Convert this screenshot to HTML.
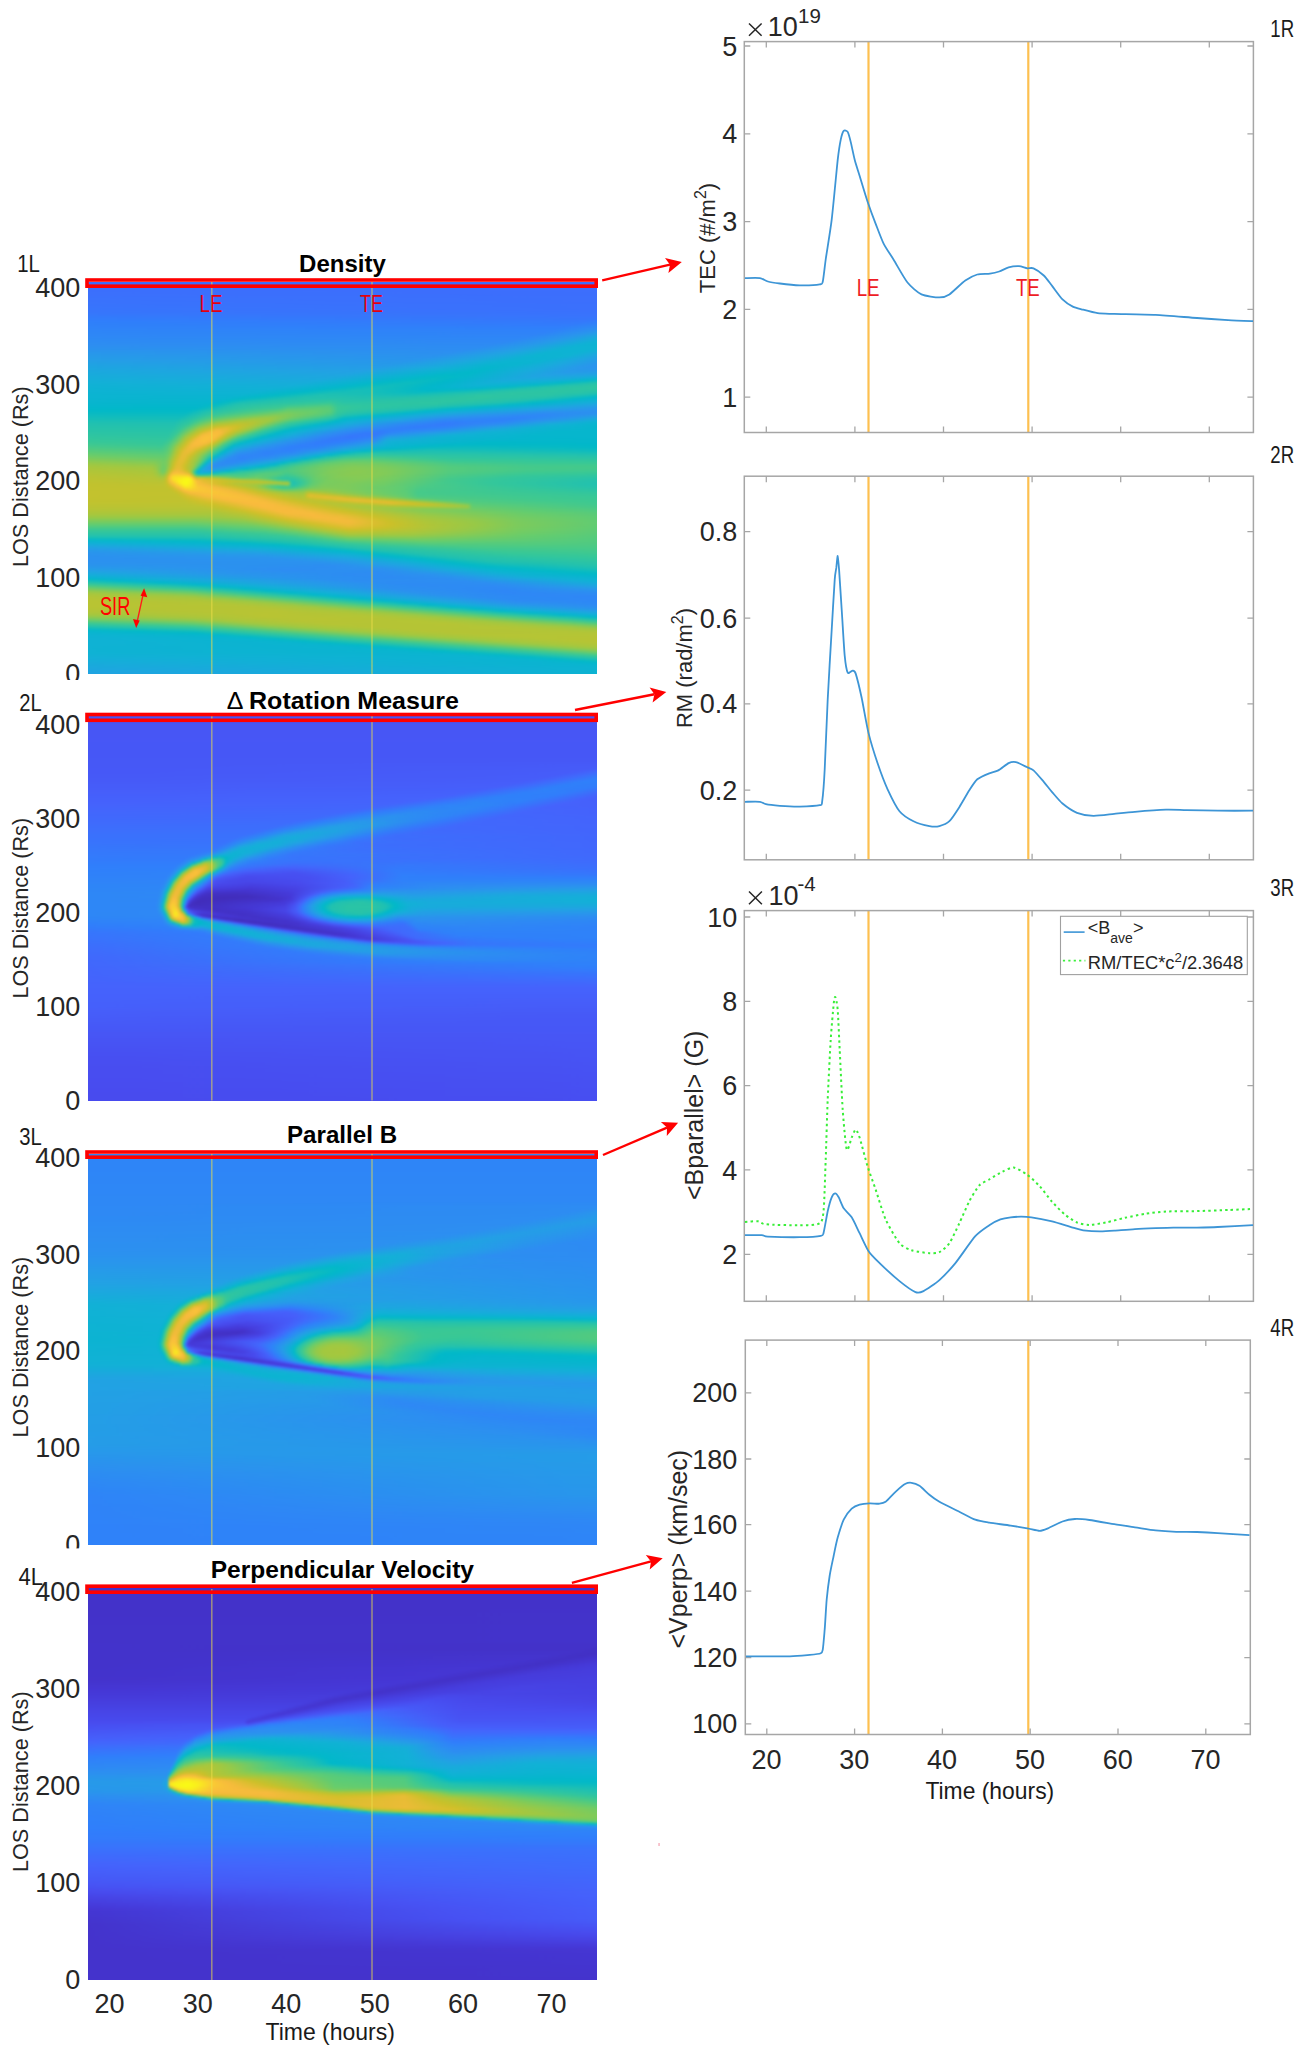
<!DOCTYPE html>
<html><head><meta charset="utf-8"><title>figure</title><style>
html,body{margin:0;padding:0;background:#fff}
body{width:1304px;height:2051px;position:relative;overflow:hidden;font-family:"Liberation Sans",sans-serif}
.hm{position:absolute;overflow:hidden}
.hb{position:absolute}
.hb div{height:2px}
svg{position:absolute;left:0;top:0}
svg text{font-family:"Liberation Sans",sans-serif}
</style></head><body>
<div class="hm" style="left:88px;top:282px;width:509px;height:392px"><div class="hb" style="left:-8px;top:-8px;width:526px;filter:blur(1.2px)"><div style="background:linear-gradient(90deg,#3d6dfc 0px,#3d6dfc 525px)"></div><div style="background:linear-gradient(90deg,#3d6dfc 0px,#3d6dfc 525px)"></div><div style="background:linear-gradient(90deg,#3d6dfc 0px,#3d6dfc 525px)"></div><div style="background:linear-gradient(90deg,#3d6dfc 0px,#3d6dfc 525px)"></div><div style="background:linear-gradient(90deg,#3d6dfc 0px,#3d6dfc 525px)"></div><div style="background:linear-gradient(90deg,#3d6dfc 0px,#3d6dfc 525px)"></div><div style="background:linear-gradient(90deg,#3c6efc 0px,#3d6dfc 525px)"></div><div style="background:linear-gradient(90deg,#3c6ffc 0px,#3d6efc 525px)"></div><div style="background:linear-gradient(90deg,#3b6ffc 0px,#3d6efc 525px)"></div><div style="background:linear-gradient(90deg,#3b70fc 0px,#3c6efc 525px)"></div><div style="background:linear-gradient(90deg,#3b70fc 0px,#3c6efc 525px)"></div><div style="background:linear-gradient(90deg,#3a71fc 0px,#3c6ffc 525px)"></div><div style="background:linear-gradient(90deg,#3a72fc 0px,#3c6ffc 525px)"></div><div style="background:linear-gradient(90deg,#3972fc 0px,#3c6ffc 525px)"></div><div style="background:linear-gradient(90deg,#3973fc 0px,#3b6ffc 525px)"></div><div style="background:linear-gradient(90deg,#3873fc 0px,#3b70fc 525px)"></div><div style="background:linear-gradient(90deg,#3874fc 0px,#3b70fc 525px)"></div><div style="background:linear-gradient(90deg,#3775fc 0px,#3b70fc 525px)"></div><div style="background:linear-gradient(90deg,#3775fb 0px,#3a71fc 525px)"></div><div style="background:linear-gradient(90deg,#3676fb 0px,#3972fc 525px)"></div><div style="background:linear-gradient(90deg,#3578fb 0px,#3973fc 525px)"></div><div style="background:linear-gradient(90deg,#337bfb 0px,#3874fc 522px,#3775fc 525px)"></div><div style="background:linear-gradient(90deg,#317dfb 0px,#3676fb 514px,#3479fb 525px)"></div><div style="background:linear-gradient(90deg,#307ffb 0px,#3578fb 505px,#307efb 525px)"></div><div style="background:linear-gradient(90deg,#2f80fa 0px,#337afb 497px,#2f82f9 525px)"></div><div style="background:linear-gradient(90deg,#2f81f9 0px,#327cfb 489px,#2e87f6 525px)"></div><div style="background:linear-gradient(90deg,#2f82f9 0px,#307efb 480px,#2d8cf3 525px)"></div><div style="background:linear-gradient(90deg,#2f84f8 0px,#2f81fa 478px,#2b91ef 523px,#2b92ee 525px)"></div><div style="background:linear-gradient(90deg,#2e85f7 0px,#2f82f9 472px,#2a93ee 516px,#269ae9 525px)"></div><div style="background:linear-gradient(90deg,#2e86f6 0px,#2f83f8 464px,#2995ed 508px,#22a2e4 525px)"></div><div style="background:linear-gradient(90deg,#2e87f6 0px,#2f84f7 455px,#2996ec 499px,#1ba8de 525px)"></div><div style="background:linear-gradient(90deg,#2e88f5 0px,#2e86f7 446px,#2897eb 490px,#15aed9 525px)"></div><div style="background:linear-gradient(90deg,#2d8af4 0px,#2e87f6 438px,#2898eb 481px,#10b2d5 525px)"></div><div style="background:linear-gradient(90deg,#2d8bf3 0px,#2e88f5 429px,#2799ea 472px,#0fb2d4 518px,#0db3d3 525px)"></div><div style="background:linear-gradient(90deg,#2d8cf2 0px,#2e89f4 419px,#2799ea 462px,#0fb2d4 509px,#0cb4d2 525px)"></div><div style="background:linear-gradient(90deg,#2d8ef1 0px,#2d8bf3 410px,#269ae9 453px,#0eb2d4 500px,#0db3d2 525px)"></div><div style="background:linear-gradient(90deg,#2c90f0 0px,#2d8cf3 400px,#259de7 447px,#0eb3d3 491px,#0eb3d3 522px,#0fb2d4 525px)"></div><div style="background:linear-gradient(90deg,#2b92ee 0px,#2d8df2 390px,#249fe6 440px,#0eb3d3 482px,#0eb3d3 513px,#13b0d7 525px)"></div><div style="background:linear-gradient(90deg,#2994ed 0px,#2c8ef1 380px,#22a2e4 434px,#0db3d3 473px,#0db3d3 504px,#18abdb 525px)"></div><div style="background:linear-gradient(90deg,#2897eb 0px,#2c90f0 370px,#20a4e2 427px,#0db3d2 465px,#0eb3d3 497px,#1da6e0 525px)"></div><div style="background:linear-gradient(90deg,#2799ea 0px,#2b91ef 359px,#1fa5e1 417px,#0cb4d1 458px,#0eb3d3 490px,#22a2e4 525px)"></div><div style="background:linear-gradient(90deg,#269be8 0px,#2a93ee 350px,#1da6e0 408px,#0bb4d1 449px,#0eb3d3 482px,#259de7 525px)"></div><div style="background:linear-gradient(90deg,#259de7 0px,#2995ed 339px,#1da6e0 396px,#0cb3d2 436px,#0cb3d2 469px,#1ea5e1 503px,#2799ea 525px)"></div><div style="background:linear-gradient(90deg,#249fe6 0px,#2896ec 329px,#1da7df 384px,#0bb4d1 425px,#0cb4d2 460px,#1da6e0 493px,#2995ec 525px)"></div><div style="background:linear-gradient(90deg,#22a1e4 0px,#2798ea 319px,#1da7df 372px,#0bb4d1 415px,#0ab4d0 448px,#1ba9de 481px,#2a93ee 524px,#2a93ee 525px)"></div><div style="background:linear-gradient(90deg,#20a3e2 0px,#269ae9 309px,#1ba8de 362px,#0ab4d0 406px,#09b5cf 434px,#19abdc 470px,#2996ec 511px,#2b92ef 525px)"></div><div style="background:linear-gradient(90deg,#1ea5e1 0px,#259ce8 300px,#19abdc 356px,#05b6cc 410px,#17acda 459px,#2898eb 500px,#2b92ef 525px)"></div><div style="background:linear-gradient(90deg,#1ca7df 0px,#249fe6 291px,#13b1d7 357px,#03b7cb 405px,#18acdb 453px,#2799ea 494px,#2a94ed 525px)"></div><div style="background:linear-gradient(90deg,#1ba8de 0px,#23a1e5 281px,#0cb4d1 361px,#02b7ca 396px,#18abdc 447px,#269ae9 489px,#2798ea 525px)"></div><div style="background:linear-gradient(90deg,#19aadd 0px,#21a3e3 272px,#07b5ce 358px,#01b8c9 388px,#19aadc 442px,#259ce8 485px,#249fe6 525px)"></div><div style="background:linear-gradient(90deg,#18abdb 0px,#1fa5e1 263px,#06b6cd 346px,#03b9c7 365px,#04b7cb 390px,#23a1e5 467px,#1fa4e1 516px,#1ca7df 525px)"></div><div style="background:linear-gradient(90deg,#17adda 0px,#1da7df 253px,#06b6cd 331px,#03b9c7 347px,#04b9c6 371px,#04b7cb 383px,#1fa5e1 452px,#1ba8de 500px,#12b1d6 525px)"></div><div style="background:linear-gradient(90deg,#15aed9 0px,#1ba9de 243px,#05b6cc 317px,#02b9c7 330px,#08bac3 357px,#02b8ca 373px,#1ba9de 435px,#17acdb 483px,#04b7cb 525px)"></div><div style="background:linear-gradient(90deg,#14b0d8 0px,#19abdc 233px,#05b6cc 302px,#03b9c7 314px,#0bbbc1 341px,#02b7ca 367px,#17acdb 422px,#12b1d6 471px,#02b9c8 506px,#1bbfb5 525px)"></div><div style="background:linear-gradient(90deg,#12b1d6 0px,#17acda 223px,#04b7cc 288px,#03b9c7 299px,#0ebcbf 327px,#02b7ca 360px,#13b0d7 408px,#0db3d2 458px,#02b8c8 481px,#22c1af 510px,#28c3a8 525px)"></div><div style="background:linear-gradient(90deg,#11b2d5 0px,#15aed9 213px,#03b7cb 275px,#04b9c6 284px,#11bcbd 313px,#05b9c5 343px,#02b7ca 353px,#10b2d5 398px,#07b6ce 445px,#02b9c7 456px,#23c1ae 487px,#2dc5a3 525px)"></div><div style="background:linear-gradient(90deg,#0fb2d4 0px,#13b0d7 203px,#03b7cb 260px,#04b9c6 269px,#13bdbb 299px,#09bac2 330px,#02b8ca 346px,#0cb3d2 389px,#03b7cb 423px,#04b9c6 431px,#23c2ae 463px,#2ec5a2 514px,#2ec5a2 525px)"></div><div style="background:linear-gradient(90deg,#0eb3d3 0px,#11b1d6 191px,#02b7ca 244px,#06bac5 255px,#16beb9 287px,#0cbbc0 320px,#02b8ca 342px,#05b6cc 385px,#03b9c7 401px,#23c2ad 439px,#2ec5a1 493px,#2cc5a3 525px)"></div><div style="background:linear-gradient(90deg,#0db3d3 0px,#0fb2d4 180px,#02b7ca 227px,#09bac3 240px,#19bfb7 276px,#0dbcbf 314px,#01b8c8 352px,#0fbcbe 385px,#24c2ac 416px,#2ec5a1 472px,#28c3a8 525px)"></div><div style="background:linear-gradient(90deg,#0cb3d2 0px,#0eb3d3 169px,#02b9c7 215px,#1abfb6 252px,#17beb8 289px,#0bbbc1 336px,#1dc0b3 375px,#2ec5a2 434px,#2ac4a6 498px,#1fc0b2 525px)"></div><div style="background:linear-gradient(90deg,#0bb4d1 0px,#0cb3d2 158px,#02b9c7 197px,#20c1b1 241px,#15beb9 324px,#2dc5a3 399px,#2cc4a4 469px,#1cc0b4 508px,#09bac3 525px)"></div><div style="background:linear-gradient(90deg,#0bb4d1 0px,#0ab4d0 150px,#02b9c7 179px,#22c1af 225px,#22c1af 257px,#1fc0b2 309px,#2fc5a0 403px,#28c3a8 464px,#1bbfb5 489px,#02b8ca 514px,#09b5cf 525px)"></div><div style="background:linear-gradient(90deg,#0ab4d0 0px,#09b5cf 145px,#02b9c7 161px,#22c1af 206px,#27c3aa 253px,#23c1ae 282px,#2fc5a0 392px,#25c2ab 451px,#18beb7 472px,#01b8c9 494px,#0fb2d4 525px)"></div><div style="background:linear-gradient(90deg,#09b5cf 0px,#07b5ce 137px,#02b9c8 149px,#18beb8 169px,#24c2ac 193px,#2ec5a1 251px,#26c3aa 265px,#2ec5a1 374px,#23c1ae 437px,#03b9c7 471px,#08b5ce 484px,#15aed9 525px)"></div><div style="background:linear-gradient(90deg,#07b5ce 0px,#06b6cd 128px,#03b9c7 141px,#1fc0b2 161px,#37c897 250px,#2bc4a5 263px,#2ec5a2 354px,#21c1b0 418px,#01b8c9 453px,#16adda 506px,#1ba8de 525px)"></div><div style="background:linear-gradient(90deg,#06b6cd 0px,#05b6cc 122px,#03b9c7 133px,#24c2ad 156px,#39c895 217px,#49ca87 249px,#33c79b 257px,#2fc6a0 272px,#2ac4a5 354px,#1cbfb4 397px,#02b8ca 429px,#20a4e2 512px,#23a1e4 525px)"></div><div style="background:linear-gradient(90deg,#04b7cc 0px,#03b7cb 118px,#04b9c6 126px,#24c2ad 148px,#31c69e 177px,#39c896 201px,#48ca88 210px,#56cb7b 241px,#53cb7e 250px,#36c898 258px,#31c69e 277px,#26c3aa 347px,#16beb9 375px,#02b8ca 400px,#1ea6e0 476px,#2799ea 525px)"></div><div style="background:linear-gradient(90deg,#02b8ca 0px,#01b8c8 116px,#25c2ab 141px,#34c79b 168px,#43c98c 197px,#5bcc77 208px,#60cc72 237px,#5acb78 250px,#37c897 258px,#31c69e 272px,#22c1af 337px,#01b8ca 370px,#1fa5e1 451px,#2a93ee 522px,#2a93ee 525px)"></div><div style="background:linear-gradient(90deg,#03b9c7 0px,#03b9c7 110px,#16beb9 122px,#26c3aa 134px,#4aca86 183px,#5dcc75 200px,#6bcc69 208px,#66cd6d 235px,#5bcc77 250px,#36c898 258px,#2ec5a1 271px,#1dc0b4 321px,#02b8ca 346px,#0fb2d4 372px,#2a94ed 471px,#2c90f0 521px,#2b91ef 525px)"></div><div style="background:linear-gradient(90deg,#08bac3 0px,#07bac4 106px,#18bfb7 118px,#27c3a9 127px,#57cb7b 177px,#79cc5f 206px,#69cd6b 233px,#53cb7e 251px,#35c799 257px,#2ac4a6 267px,#1bbfb5 300px,#02b8ca 325px,#1aa9dd 374px,#2d8df2 463px,#2c8ff0 512px,#2995ed 525px)"></div><div style="background:linear-gradient(90deg,#0dbbc0 0px,#0cbbc0 104px,#1ec0b3 115px,#47ca89 146px,#69cd6a 174px,#83cb57 195px,#81cb58 206px,#59cb79 241px,#47ca89 251px,#31c69e 256px,#23c2ad 265px,#01b8ca 303px,#1aa9dd 349px,#2a93ee 406px,#2e87f6 463px,#2994ed 510px,#259de7 525px)"></div><div style="background:linear-gradient(90deg,#12bdbc 0px,#11bcbd 101px,#28c3a8 117px,#42c98d 131px,#56cb7b 143px,#74cc62 164px,#90ca4d 182px,#93ca4b 195px,#4bca85 239px,#2dc5a3 254px,#11bdbc 265px,#02b8ca 282px,#1aa9dd 332px,#2a93ee 375px,#2f84f8 443px,#2a93ee 491px,#1da6e0 525px)"></div><div style="background:linear-gradient(90deg,#16beb8 0px,#15beb9 98px,#2bc4a4 114px,#3ec990 123px,#61cc71 136px,#91ca4c 162px,#a2c840 174px,#9fc942 190px,#82cb58 202px,#66cd6d 212px,#34c79b 239px,#23c2ae 253px,#01b8c9 262px,#1ba8de 316px,#2d8bf3 366px,#2f81f9 429px,#2a93ee 475px,#14afd8 525px)"></div><div style="background:linear-gradient(90deg,#1bbfb5 0px,#1abfb6 95px,#2dc5a2 111px,#40c98f 118px,#7ecb5b 137px,#a6c73e 157px,#afc639 173px,#9ec942 189px,#52cb7f 210px,#34c79a 225px,#1abfb5 247px,#02b8c8 255px,#0eb3d3 267px,#249ee7 318px,#2f83f8 363px,#2f81fa 417px,#2995ec 461px,#11b1d5 514px,#0db3d2 525px)"></div><div style="background:linear-gradient(90deg,#20c1b1 0px,#1fc0b2 94px,#2fc5a0 108px,#3dc992 113px,#5ccc76 120px,#90ca4d 133px,#a0c841 137px,#bbc332 160px,#b5c435 173px,#9dc943 185px,#4fca81 203px,#36c898 210px,#1abfb6 234px,#02b8ca 247px,#16adda 270px,#2d89f4 333px,#327cfb 369px,#2e89f5 422px,#1ca8de 471px,#0cb3d2 508px,#08b5cf 525px)"></div><div style="background:linear-gradient(90deg,#22c1ae 0px,#22c1af 94px,#37c897 108px,#74cc62 120px,#a7c73d 132px,#b8c433 138px,#c8c12b 154px,#c0c22f 166px,#a1c840 179px,#51cb80 196px,#35c79a 203px,#23c2ad 215px,#02b8ca 235px,#1ba8de 265px,#2e88f5 320px,#347afb 361px,#2d8ef1 413px,#12b1d6 472px,#05b6cd 525px)"></div><div style="background:linear-gradient(90deg,#25c2ac 0px,#24c2ac 93px,#36c898 104px,#69cd6a 114px,#91ca4c 120px,#acc63b 127px,#cec028 136px,#d9bf2d 147px,#cec028 158px,#a3c840 174px,#5dcc75 187px,#36c899 196px,#0dbcbf 216px,#02b8ca 224px,#1ba8de 255px,#2995ec 281px,#327bfb 337px,#2f83f8 371px,#249ee7 416px,#0fb2d4 460px,#05b6cc 525px)"></div><div style="background:linear-gradient(90deg,#27c3a9 0px,#26c3aa 92px,#36c898 101px,#73cc63 112px,#a6c73e 119px,#cec028 130px,#e8bc35 137px,#e5bd33 147px,#cac129 157px,#9ec942 170px,#56cb7b 182px,#34c79a 190px,#19bfb7 203px,#01b8c9 212px,#1ba9de 245px,#2d8df1 277px,#307efb 321px,#2e87f6 359px,#1fa4e1 407px,#0db3d3 446px,#06b6cd 521px,#06b6cd 525px)"></div><div style="background:linear-gradient(90deg,#29c3a7 0px,#28c3a8 91px,#37c897 99px,#83cb57 111px,#a7c73d 116px,#cec028 124px,#f5bb3c 135px,#f8ba3d 139px,#debe30 149px,#cdc027 153px,#9bc944 165px,#57cb7a 176px,#35c799 183px,#19bfb6 196px,#01b8c9 204px,#11b1d6 222px,#2d8ef1 263px,#317dfb 300px,#2d8bf3 347px,#13b0d7 412px,#06b6cd 477px,#06b6cd 525px)"></div><div style="background:linear-gradient(90deg,#2bc4a4 0px,#2ac4a6 89px,#37c897 97px,#7ecb5b 107px,#a3c840 112px,#cbc029 119px,#e2bd32 123px,#f9ba3e 130px,#f9be3b 138px,#f6bb3c 141px,#cbc029 150px,#97c948 160px,#57cb7a 170px,#35c799 177px,#1abfb6 189px,#01b8c9 197px,#12b1d6 213px,#2d8cf2 255px,#337afb 285px,#337afb 298px,#2e86f7 311px,#259de7 352px,#10b2d4 401px,#06b6cd 473px,#06b6cd 525px)"></div><div style="background:linear-gradient(90deg,#2ec5a2 0px,#2cc4a4 88px,#37c897 95px,#69cd6b 102px,#a3c83f 109px,#cbc129 116px,#f6bb3c 123px,#f9c139 134px,#f7bb3c 139px,#cfc028 146px,#a0c841 154px,#75cc62 159px,#37c897 170px,#1bbfb5 182px,#01b8ca 190px,#16adda 210px,#2d8cf2 246px,#3479fb 273px,#3479fb 295px,#2c8ff1 309px,#12b1d6 373px,#06b6cd 453px,#06b6cd 525px)"></div><div style="background:linear-gradient(90deg,#30c69f 0px,#2ec5a1 87px,#38c896 93px,#67cd6c 100px,#a3c840 106px,#d1c029 114px,#f9bc3d 121px,#f9c338 128px,#f9bb3d 136px,#d6bf2c 142px,#cec028 143px,#9ec942 150px,#5dcc75 157px,#36c898 164px,#1cc0b4 175px,#01b8c8 182px,#1ba8de 207px,#2e88f5 241px,#3676fb 269px,#317efb 293px,#2c8ff1 302px,#259ce8 308px,#0fb2d4 362px,#05b6cd 455px,#06b6cd 525px)"></div><div style="background:linear-gradient(90deg,#33c79c 0px,#30c69f 85px,#39c895 91px,#65cd6e 98px,#a2c840 104px,#cfc028 111px,#f9ba3d 118px,#f9c338 125px,#f9bc3c 133px,#ecbc37 136px,#cfc028 140px,#a1c841 146px,#61cc72 152px,#36c899 158px,#1dc0b4 168px,#01b8c9 175px,#13b0d7 189px,#2a93ee 220px,#3479fb 254px,#337bfb 275px,#2d8bf3 297px,#1da7df 307px,#0cb3d2 354px,#04b7cc 464px,#05b6cc 525px)"></div><div style="background:linear-gradient(90deg,#35c799 0px,#33c79c 84px,#3bc894 89px,#63cc70 96px,#a6c73e 103px,#cbc029 108px,#f9ba3e 116px,#f9c239 124px,#f8ba3d 131px,#d8bf2d 136px,#cfc028 137px,#9bc945 143px,#62cc71 148px,#36c898 153px,#14bdba 163px,#01b8c9 168px,#14afd8 182px,#2b92ee 211px,#337afb 246px,#317efb 266px,#2c90f0 295px,#1aa9dd 304px,#13b0d7 312px,#04b7cb 410px,#04b7cb 525px)"></div><div style="background:linear-gradient(90deg,#3ac895 0px,#35c799 83px,#40c98f 88px,#6acd6a 95px,#a4c83f 101px,#d0c029 107px,#f0bb39 112px,#f9bc3d 115px,#f9be3b 123px,#f6bb3c 127px,#dcbe2f 132px,#cdc028 134px,#98c947 140px,#6fcc66 143px,#37c897 149px,#12bdbc 157px,#02b9c8 160px,#13b0d7 173px,#2a94ed 200px,#327cfb 236px,#2f80fa 258px,#269ae9 294px,#17acda 303px,#0fb2d4 312px,#01b8c9 406px,#03b7cb 525px)"></div><div style="background:linear-gradient(90deg,#40c98f 0px,#38c896 82px,#49ca87 88px,#68cd6b 93px,#a2c840 99px,#cdc028 105px,#f3bb3a 111px,#f9bb3d 115px,#f5bb3b 121px,#dfbe31 127px,#cdc028 130px,#a1c841 136px,#59cb79 142px,#3ac894 145px,#1dc0b3 151px,#02b8c8 154px,#11b1d6 163px,#2896ec 189px,#307ffb 222px,#307ffb 243px,#269ce8 282px,#16adda 300px,#0cb3d2 311px,#02b8c8 367px,#03b9c7 471px,#01b8ca 525px)"></div><div style="background:linear-gradient(90deg,#48ca88 0px,#3ec991 81px,#4dca84 87px,#6bcd69 92px,#a0c841 97px,#cac12a 103px,#eabc36 108px,#f5bb3c 112px,#eabc36 119px,#d0c029 125px,#9ac945 133px,#57cb7a 139px,#34c79b 143px,#21c1b0 147px,#06bac5 150px,#03b7cb 151px,#12b1d6 156px,#2897eb 179px,#2f80fa 211px,#2f81f9 236px,#269ae9 266px,#0bb4d1 305px,#02b9c8 336px,#0cbbc0 385px,#02b9c8 525px)"></div><div style="background:linear-gradient(90deg,#50cb81 0px,#45c98a 81px,#53cb7e 87px,#6bcd69 91px,#a2c840 96px,#cfc028 102px,#ebbc36 107px,#f1bb39 111px,#dbbe2e 118px,#cdc028 121px,#9ec943 129px,#4dca83 137px,#34c79b 140px,#20c1b1 144px,#01b8c8 147px,#1aa9dd 155px,#2c90f0 177px,#3080fb 208px,#2e88f5 235px,#20a4e2 263px,#0db3d2 289px,#02b8c8 310px,#13bdbb 349px,#0cbbc0 472px,#07bac4 525px)"></div><div style="background:linear-gradient(90deg,#58cb7a 0px,#4dca83 82px,#59cb78 87px,#73cc63 91px,#a2c840 95px,#cbc129 100px,#e4bd33 104px,#edbc38 108px,#e2bd32 113px,#cbc029 117px,#a2c840 125px,#56cb7c 133px,#34c79b 137px,#20c1b1 141px,#01b8ca 144px,#14afd8 149px,#259ce8 157px,#2e85f7 183px,#2f82f9 211px,#2896eb 239px,#0eb3d3 269px,#01b8c8 285px,#14bdba 302px,#1fc0b2 348px,#0ebcbf 525px)"></div><div style="background:linear-gradient(90deg,#60cc72 0px,#55cb7c 83px,#64cd6f 88px,#7ccb5c 91px,#a0c841 94px,#cac129 99px,#e5bd33 103px,#eabc36 107px,#dabe2e 112px,#cec028 114px,#99c946 123px,#4fca81 131px,#34c79a 134px,#1fc0b2 138px,#08bac3 140px,#03b7cb 141px,#21a3e3 150px,#2c90f0 159px,#2f82f9 187px,#2d8af4 215px,#1ca7df 242px,#01b8c9 265px,#19bfb6 277px,#24c2ac 292px,#22c1af 393px,#16beb8 525px)"></div><div style="background:linear-gradient(90deg,#6acd6a 0px,#5dcc75 84px,#6bcd69 88px,#86cb55 91px,#a8c73d 94px,#cac12a 98px,#e4bd33 102px,#e8bc35 105px,#d2bf2a 111px,#c6c12c 113px,#9bc944 120px,#65cd6e 126px,#36c899 131px,#1ec0b3 135px,#05b9c5 137px,#0ab4d1 139px,#269be9 149px,#2e89f4 159px,#2f83f8 186px,#2a93ee 213px,#15aed9 236px,#02b9c8 251px,#22c1ae 263px,#30c6a0 286px,#21c1b0 525px)"></div><div style="background:linear-gradient(90deg,#75cc62 0px,#63cc6f 84px,#6ccc68 87px,#84cb56 90px,#a7c73d 93px,#c9c12a 97px,#e3bd33 101px,#e7bd34 104px,#d7bf2c 108px,#cbc129 110px,#9fc942 118px,#5ccc76 125px,#36c898 128px,#1dc0b3 132px,#01b8c8 134px,#1da6e0 141px,#2d8df2 151px,#2f84f8 164px,#2d8cf3 193px,#1da6e0 218px,#03b9c7 238px,#22c1af 247px,#39c895 271px,#40c98f 295px,#2dc5a2 372px,#27c3aa 525px)"></div><div style="background:linear-gradient(90deg,#80cb59 0px,#6ecc67 77px,#69cd6a 84px,#73cc63 87px,#8fca4e 90px,#a6c73e 92px,#c9c12a 96px,#e3bd32 100px,#e6bd34 103px,#d6bf2c 107px,#c8c12a 109px,#9bc944 117px,#5fcc74 123px,#37c897 126px,#1abfb6 129px,#09bbc2 130px,#03b7cb 131px,#1da6e0 137px,#2d8df2 147px,#2f84f7 161px,#2a93ee 190px,#18abdb 211px,#02b9c8 226px,#23c2ae 235px,#4eca82 266px,#54cb7d 290px,#35c79a 359px,#2dc5a3 521px,#2dc5a3 525px)"></div><div style="background:linear-gradient(90deg,#8cca50 0px,#7bcb5d 75px,#6ecc67 84px,#7acb5e 87px,#a5c73e 91px,#c8c12a 95px,#debe30 98px,#e5bd34 101px,#dbbe2e 105px,#cfc028 107px,#9ac946 116px,#72cc64 120px,#4aca86 123px,#3ac895 124px,#1abfb6 127px,#04b9c7 128px,#11b2d5 130px,#279ae9 137px,#2e89f4 146px,#2d8af4 163px,#20a4e2 194px,#0cb4d1 209px,#01b8ca 214px,#23c1ae 223px,#43c98c 242px,#5dcc75 260px,#65cd6e 284px,#50cb80 327px,#38c896 376px,#33c79c 525px)"></div><div style="background:linear-gradient(90deg,#98c947 0px,#86cb54 74px,#70cc66 84px,#7dcb5b 87px,#abc63b 91px,#d1c029 95px,#e2bd32 98px,#e2bd32 102px,#cfc028 106px,#99c946 115px,#5fcc73 120px,#31c69e 123px,#18beb7 125px,#01b8c9 126px,#18abdb 129px,#259ce8 132px,#2d8bf3 140px,#2d8bf3 154px,#1ca7df 185px,#07b5ce 201px,#00b8c9 203px,#1ec0b2 210px,#43c98c 230px,#61cc71 248px,#73cc63 273px,#6ccc68 302px,#44c98c 373px,#39c895 456px,#38c896 525px)"></div><div style="background:linear-gradient(90deg,#a2c840 0px,#92ca4b 73px,#80cb59 79px,#70cc65 83px,#76cc60 86px,#8aca51 88px,#afc638 91px,#cdc028 94px,#e1bd31 97px,#e3bd32 100px,#cfc028 105px,#9dc943 114px,#74cc62 117px,#31c69e 121px,#27c3a9 122px,#03b7cb 124px,#1fa4e2 128px,#2c8ff1 133px,#2d8cf2 144px,#19abdc 175px,#04b7cb 193px,#03b9c7 195px,#24c2ad 202px,#44c98b 220px,#66cd6d 241px,#7bcb5d 267px,#7acb5e 296px,#4dca83 371px,#41c98e 449px,#40c98f 525px)"></div><div style="background:linear-gradient(90deg,#a8c73d 0px,#9ec943 72px,#8eca4e 77px,#6fcc66 83px,#71cc64 85px,#82cb58 87px,#9fc842 89px,#c9c12a 93px,#e0be31 96px,#e6bd34 99px,#d8bf2d 103px,#ccc028 105px,#a0c841 113px,#6dcc68 116px,#31c69d 119px,#25c2ab 120px,#10bcbd 121px,#07b6ce 122px,#249fe6 127px,#2d8df1 133px,#269ce8 148px,#0fb2d4 170px,#01b8c9 181px,#23c2ae 193px,#4eca82 216px,#76cc60 248px,#84cb56 275px,#7bcb5d 306px,#53cb7e 370px,#45c98b 447px,#43c98c 525px)"></div><div style="background:linear-gradient(90deg,#acc63a 0px,#a4c83f 72px,#98c947 76px,#70cc65 82px,#6ecc67 84px,#7bcb5d 86px,#a7c73e 89px,#c8c12a 92px,#e2bd32 95px,#e9bc36 98px,#dfbe31 102px,#cfc028 105px,#a7c73d 111px,#9cc944 112px,#78cc5f 114px,#32c69c 117px,#25c2ab 118px,#0ebcbf 119px,#08b5cf 120px,#1fa4e2 124px,#2896ec 130px,#249ee6 139px,#0db3d2 157px,#01b8c8 166px,#22c1ae 178px,#3ec991 200px,#74cc62 241px,#86cb54 268px,#83cb57 300px,#54cb7d 371px,#46ca8a 447px,#42c98d 525px)"></div><div style="background:linear-gradient(90deg,#b1c538 0px,#a8c73d 72px,#9ec942 76px,#71cc64 82px,#70cc65 84px,#82cb57 86px,#a5c73e 88px,#ccc028 91px,#e9bc36 94px,#f2bb3a 97px,#ebbc36 101px,#cdc028 107px,#b3c536 110px,#a6c73e 111px,#8dca4f 112px,#37c897 115px,#05b6cc 118px,#19abdc 121px,#22a2e4 127px,#08b5cf 146px,#01b8c9 149px,#21c1b0 159px,#44c98b 191px,#4bca85 203px,#54cb7d 215px,#81cb59 252px,#89ca52 281px,#7ecb5b 312px,#55cb7d 369px,#43c98c 447px,#3dc992 525px)"></div><div style="background:linear-gradient(90deg,#b4c536 0px,#acc63a 72px,#9fc842 77px,#7bcb5d 82px,#7dcb5c 84px,#85cb55 85px,#b4c536 88px,#d4bf2b 90px,#f9ba3d 93px,#f9c139 97px,#f6bb3c 103px,#debe30 108px,#c6c12b 110px,#9ec942 112px,#4dca84 114px,#31c69e 115px,#23c2ae 116px,#0abbc1 117px,#07b5ce 118px,#13b0d7 121px,#0ab4d0 130px,#01b8c9 133px,#0cbbc0 135px,#10bcbd 137px,#23c2ae 142px,#36c898 161px,#53cb7e 186px,#52cb7f 199px,#46ca89 207px,#7ecb5b 248px,#89ca52 274px,#82cb58 306px,#52cb7f 369px,#3dc991 447px,#36c898 525px)"></div><div style="background:linear-gradient(90deg,#b8c434 0px,#afc638 73px,#9dc943 79px,#8dca4f 82px,#93ca4b 84px,#b7c434 87px,#c6c12b 88px,#dabe2e 89px,#f9bd3c 91px,#f9cd32 93px,#f9cf30 100px,#f9ca33 107px,#f9c139 109px,#f4bb3b 110px,#cac12a 112px,#b1c538 113px,#8fca4e 114px,#65cd6e 115px,#49ca87 116px,#36c898 117px,#27c3a9 120px,#2fc5a0 127px,#45ca8a 136px,#41c98e 137px,#49ca87 148px,#49ca87 164px,#5ccc76 180px,#53cb7e 196px,#3cc992 207px,#78cc5f 243px,#88ca53 267px,#84cb56 300px,#4dca83 370px,#37c897 444px,#31c69e 525px)"></div><div style="background:linear-gradient(90deg,#bbc332 0px,#b4c536 73px,#a2c840 82px,#a7c73e 84px,#b8c434 86px,#c6c12c 87px,#d9bf2d 88px,#ecbc37 89px,#f9c03a 90px,#f8d52c 92px,#f8de27 94px,#f9e820 108px,#f8de27 110px,#f9c636 112px,#f1bb3a 113px,#d8bf2d 114px,#bfc32f 115px,#aec63a 116px,#a4c83f 117px,#9fc942 121px,#96c949 126px,#91ca4c 136px,#56cb7c 156px,#53cb7e 164px,#62cc70 177px,#56cb7b 188px,#34c79b 204px,#37c897 213px,#6dcc68 237px,#82cb58 256px,#86cb54 287px,#73cc63 318px,#49ca87 369px,#35c799 429px,#2bc4a5 525px)"></div><div style="background:linear-gradient(90deg,#bdc331 0px,#b6c435 75px,#adc63a 82px,#b8c434 85px,#cfc028 87px,#f2bb3a 89px,#f9c438 90px,#f8df26 93px,#f9f816 107px,#f9f319 110px,#f9e323 112px,#f8ba3d 115px,#e7bd34 116px,#debe30 117px,#e2bd32 120px,#d1bf29 127px,#c5c22c 137px,#9ec943 154px,#89ca53 162px,#81cb59 177px,#64cc6f 186px,#35c799 198px,#2cc4a4 207px,#30c69f 215px,#41c98e 222px,#66cd6d 235px,#7ccb5c 250px,#84cb56 279px,#77cc60 309px,#44c98b 369px,#34c79a 417px,#26c3aa 525px)"></div><div style="background:linear-gradient(90deg,#bfc32f 0px,#b8c434 77px,#b6c435 83px,#c5c12c 86px,#d1c029 87px,#f9bc3c 90px,#f8d42d 93px,#f9ef1c 99px,#f9f916 107px,#f9f01c 111px,#f9bc3d 117px,#e4bd33 123px,#cbc129 147px,#b5c535 179px,#9cc944 189px,#60cc72 201px,#4eca83 208px,#44c98c 209px,#32c69c 210px,#24c2ac 212px,#35c79a 221px,#62cc71 234px,#78cc5f 247px,#81cb59 274px,#74cc62 306px,#42c98d 368px,#34c79b 413px,#23c1ae 525px)"></div><div style="background:linear-gradient(90deg,#c1c22f 0px,#bbc332 83px,#c5c22c 86px,#cdc028 87px,#f4bb3b 91px,#f9c437 93px,#f9f11b 101px,#f9fa15 106px,#f9ec1e 111px,#f9bd3c 118px,#dfbe30 130px,#ccc029 141px,#b6c435 156px,#b7c434 185px,#abc63b 208px,#98c947 209px,#5dcc76 210px,#31c69e 211px,#24c2ad 212px,#21c1b0 214px,#3dc991 224px,#60cc72 233px,#78cc5f 245px,#7ecb5a 269px,#71cc64 304px,#46ca8a 360px,#34c79a 410px,#21c1b0 525px)"></div><div style="background:linear-gradient(90deg,#c2c22e 0px,#bfc330 84px,#ccc028 88px,#f5bb3c 94px,#f8d12f 98px,#f9f618 105px,#f9ec1e 110px,#f9c338 118px,#f5bb3c 125px,#ccc028 146px,#b2c537 162px,#9ec942 177px,#72cc64 191px,#6ecc67 198px,#81cb58 206px,#88ca53 208px,#75cc62 209px,#4dca84 210px,#30c69f 211px,#27c3a9 212px,#28c3a8 215px,#3cc993 222px,#61cc72 231px,#78cc5f 242px,#7ecb5b 261px,#6fcc66 303px,#4aca86 350px,#34c79a 415px,#21c1b0 525px)"></div><div style="background:linear-gradient(90deg,#c2c22e 0px,#c0c22f 85px,#cfc028 91px,#f9bd3c 98px,#f9e522 105px,#f9e324 110px,#f9c835 118px,#f7bb3d 132px,#cac129 157px,#a5c73e 176px,#89ca52 182px,#53cb7e 192px,#3bc993 199px,#39c895 205px,#3ec990 208px,#32c69c 212px,#3dc992 217px,#6dcc68 231px,#7fcb5a 243px,#7ccb5c 271px,#5ecc75 324px,#4cca85 341px,#34c79b 430px,#24c2ad 525px)"></div><div style="background:linear-gradient(90deg,#c3c22e 0px,#c1c22e 87px,#ccc028 93px,#eabc36 99px,#f9ba3e 101px,#f9cf30 105px,#f8d52c 110px,#f9c934 118px,#f7bb3d 140px,#cbc029 166px,#9ec942 184px,#65cd6e 196px,#54cb7d 204px,#56cb7b 213px,#80cb59 231px,#86cb55 248px,#62cc71 319px,#49ca87 340px,#2fc5a0 478px,#28c3a8 525px)"></div><div style="background:linear-gradient(90deg,#c3c22e 0px,#c1c22e 90px,#d0c028 97px,#f9bb3d 105px,#f9c735 111px,#f9c239 138px,#f5bb3c 149px,#ccc029 173px,#97c947 195px,#7fcb5a 205px,#7ecb5b 215px,#89ca52 224px,#a0c841 228px,#79cc5e 281px,#5bcc77 326px,#47ca89 338px,#2cc5a3 525px)"></div><div style="background:linear-gradient(90deg,#c3c22e 0px,#c2c22e 94px,#cfc028 100px,#f7bb3c 110px,#f9c536 135px,#f6bb3c 156px,#cac129 181px,#a3c840 205px,#9bc944 222px,#a7c73d 225px,#c0c22f 228px,#c0c22f 231px,#8eca4e 263px,#6fcc66 300px,#5ccc76 326px,#46ca89 338px,#31c69e 525px)"></div><div style="background:linear-gradient(90deg,#c3c22e 0px,#c2c22e 97px,#d0c029 103px,#e9bc35 112px,#f9bc3c 124px,#f9c338 145px,#f7bb3c 163px,#cac129 189px,#acc63a 212px,#a9c73c 223px,#b4c536 225px,#cec027 227px,#dabe2e 228px,#dfbe30 230px,#ccc028 245px,#82cb57 288px,#5dcc75 327px,#48ca88 338px,#35c79a 525px)"></div><div style="background:linear-gradient(90deg,#c3c22e 0px,#c1c22e 99px,#d1bf29 107px,#efbc39 125px,#f9bd3c 135px,#f9c139 156px,#f7bb3c 170px,#cbc129 197px,#b2c537 218px,#b3c536 224px,#cbc029 227px,#d8bf2d 229px,#e4bd33 246px,#d6bf2c 260px,#c9c12a 266px,#95c949 296px,#75cc62 315px,#5ccc76 330px,#4eca82 339px,#3ec991 449px,#37c897 525px)"></div><div style="background:linear-gradient(90deg,#c2c22e 0px,#c1c22f 101px,#d0c029 111px,#f9bc3d 144px,#f9bf3b 167px,#f5bb3c 178px,#ccc028 204px,#b8c433 224px,#c4c22d 230px,#d2bf2a 243px,#e7bd35 262px,#dfbe30 277px,#cbc029 289px,#96c948 318px,#61cc71 337px,#4fca82 363px,#3fc990 461px,#3ac895 525px)"></div><div style="background:linear-gradient(90deg,#c1c22e 0px,#c0c22f 104px,#d0c029 120px,#f9bb3d 154px,#f9be3b 176px,#f4bb3b 186px,#ccc029 213px,#bdc331 231px,#c0c32f 249px,#d2bf29 262px,#e4bd33 277px,#e6bd34 294px,#d1c029 311px,#aec639 329px,#8dca4f 342px,#65cd6e 360px,#51cb80 383px,#41c98e 469px,#3bc993 525px)"></div><div style="background:linear-gradient(90deg,#c0c32f 0px,#bfc330 106px,#d1c029 130px,#f9bb3d 165px,#f9bc3c 185px,#efbc39 196px,#cbc129 224px,#b5c435 251px,#bcc331 269px,#d1c029 288px,#e5bd33 309px,#d0c028 332px,#a0c841 360px,#6dcc68 379px,#54cb7d 394px,#3dc992 525px)"></div><div style="background:linear-gradient(90deg,#bdc331 0px,#bdc331 112px,#cbc029 135px,#f9bb3d 173px,#f9bb3d 193px,#cbc029 234px,#afc639 266px,#b1c538 289px,#c5c22d 313px,#c5c22c 349px,#a1c841 378px,#87cb54 388px,#80cb59 389px,#65cd6e 391px,#5ccc76 393px,#41c98e 517px,#40c98f 525px)"></div><div style="background:linear-gradient(90deg,#bac332 0px,#bac433 121px,#cbc029 145px,#f9bb3d 182px,#f6bb3c 205px,#cbc029 244px,#aac63b 279px,#a5c73e 306px,#a6c73e 371px,#99c946 387px,#97c947 388px,#90ca4d 389px,#6fcc66 391px,#64cc6f 393px,#4fca82 478px,#45c98b 525px)"></div><div style="background:linear-gradient(90deg,#b7c434 0px,#b6c435 128px,#cac129 154px,#debe30 168px,#f9bb3d 191px,#f5bb3c 214px,#cbc029 254px,#acc63b 287px,#88ca53 343px,#7fcb5a 388px,#6dcc68 392px,#59cb78 455px,#4aca86 525px)"></div><div style="background:linear-gradient(90deg,#b2c537 0px,#b2c537 133px,#c6c12c 160px,#d1c029 168px,#f8ba3d 198px,#f6bb3c 223px,#cdc028 263px,#90ca4d 330px,#84cb56 349px,#61cc71 445px,#50cb81 525px)"></div><div style="background:linear-gradient(90deg,#acc63a 0px,#acc63a 137px,#bfc330 164px,#d0c029 176px,#f7bb3c 205px,#f6bb3c 232px,#d2bf2a 269px,#c7c12b 279px,#8fca4e 345px,#67cd6c 445px,#55cb7c 525px)"></div><div style="background:linear-gradient(90deg,#a5c73e 0px,#a6c73e 138px,#b6c435 166px,#d0c029 185px,#f1bb3a 209px,#f9ba3d 233px,#e6bd34 262px,#cbc029 286px,#99c946 346px,#6dcc67 441px,#59cb79 525px)"></div><div style="background:linear-gradient(90deg,#9cc944 0px,#9ac945 124px,#abc63b 165px,#cbc029 191px,#e8bc35 211px,#f8ba3d 238px,#eebc38 263px,#cbc029 295px,#a3c840 343px,#72cc64 440px,#5bcc76 525px)"></div><div style="background:linear-gradient(90deg,#8dca4f 0px,#8bca50 118px,#9ac945 158px,#bcc332 190px,#cfc028 202px,#f0bc39 233px,#f6bb3c 257px,#e9bc36 275px,#cbc129 303px,#a8c73d 344px,#93ca4b 389px,#77cc60 438px,#5dcc75 525px)"></div><div style="background:linear-gradient(90deg,#7dcb5b 0px,#7ccb5c 115px,#8eca4e 163px,#cdc028 212px,#efbc38 245px,#f5bb3b 268px,#cbc029 308px,#adc63a 345px,#97c948 391px,#7acb5e 437px,#5ecc74 525px)"></div><div style="background:linear-gradient(90deg,#6dcc67 0px,#6ccc69 114px,#82cb57 168px,#9dc943 188px,#d0c029 227px,#efbc38 258px,#f1bb3a 270px,#cbc029 311px,#afc638 346px,#97c947 395px,#7bcb5d 437px,#5fcc74 525px)"></div><div style="background:linear-gradient(90deg,#5ecc74 0px,#5dcc75 114px,#75cc62 172px,#8eca4e 192px,#a6c73e 205px,#d0c029 239px,#edbc37 268px,#cbc029 311px,#b0c538 348px,#97c947 396px,#7ccb5c 437px,#5ecc74 525px)"></div><div style="background:linear-gradient(90deg,#50cb81 0px,#4eca82 113px,#6acd6a 179px,#85cb55 199px,#a7c73e 219px,#d1c029 252px,#e2bd32 269px,#cac129 307px,#adc63a 353px,#96c948 396px,#7bcb5d 437px,#5dcc75 525px)"></div><div style="background:linear-gradient(90deg,#41c98e 0px,#3ec990 113px,#60cc72 187px,#87ca54 214px,#a7c73d 232px,#d0c029 264px,#d3bf2a 273px,#c7c12b 298px,#96c949 392px,#78cc5f 438px,#5ccc76 525px)"></div><div style="background:linear-gradient(90deg,#35c799 0px,#35c799 119px,#51cb80 187px,#70cc65 215px,#a6c73e 244px,#c3c22d 269px,#afc639 333px,#95c949 384px,#74cc62 439px,#5acb78 525px)"></div><div style="background:linear-gradient(90deg,#2ec5a1 0px,#2ec5a1 120px,#3ec991 182px,#5ecc74 217px,#8bca51 243px,#a7c73d 258px,#b3c536 270px,#a6c73e 336px,#8bca51 388px,#6fcc66 442px,#58cb7a 525px)"></div><div style="background:linear-gradient(90deg,#27c3a9 0px,#28c3a8 122px,#3ac894 200px,#64cc6f 236px,#a2c840 268px,#9ec942 330px,#69cd6a 444px,#56cb7b 525px)"></div><div style="background:linear-gradient(90deg,#1ec0b3 0px,#21c1b0 117px,#36c899 212px,#57cb7b 241px,#80cb59 264px,#88ca53 273px,#8cca50 332px,#63cc6f 451px,#54cb7d 525px)"></div><div style="background:linear-gradient(90deg,#0abbc2 0px,#14bdba 119px,#32c69d 221px,#3fc98f 239px,#6acd6a 269px,#7acb5e 334px,#58cb7a 495px,#52cb7f 525px)"></div><div style="background:linear-gradient(90deg,#09b5cf 0px,#03b9c7 114px,#2bc4a4 225px,#3dc992 252px,#53cb7e 269px,#69cd6b 343px,#51cb80 525px)"></div><div style="background:linear-gradient(90deg,#11b1d6 0px,#03b7cb 150px,#03b9c7 166px,#33c79c 256px,#49ca87 292px,#5acc78 349px,#53cb7e 482px,#4fca82 525px)"></div><div style="background:linear-gradient(90deg,#19aadc 0px,#06b6cd 177px,#02b9c7 198px,#26c3aa 250px,#36c898 291px,#4eca83 354px,#51cb7f 444px,#4dca84 525px)"></div><div style="background:linear-gradient(90deg,#21a3e3 0px,#0cb3d2 186px,#03b9c7 225px,#26c2ab 267px,#48ca88 387px,#4aca86 521px,#4aca86 525px)"></div><div style="background:linear-gradient(90deg,#259ce8 0px,#15aed9 180px,#02b8ca 244px,#0dbbc0 259px,#22c1ae 282px,#42c98d 407px,#47ca89 525px)"></div><div style="background:linear-gradient(90deg,#2897eb 0px,#1da6e0 173px,#04b7cc 262px,#03b9c7 269px,#21c1b0 303px,#3bc894 415px,#43c98c 525px)"></div><div style="background:linear-gradient(90deg,#2a93ee 0px,#23a0e5 177px,#09b5cf 273px,#02b9c7 287px,#22c1af 327px,#36c898 428px,#3fc990 525px)"></div><div style="background:linear-gradient(90deg,#2b92ef 0px,#269ae9 179px,#15aed9 263px,#03b9c7 306px,#22c1af 347px,#32c79c 435px,#3ac894 525px)"></div><div style="background:linear-gradient(90deg,#2b91ef 0px,#2996ec 187px,#1ca8df 264px,#02b7ca 318px,#06bac5 327px,#22c1af 370px,#30c69f 455px,#36c898 525px)"></div><div style="background:linear-gradient(90deg,#2b91ef 0px,#2a93ee 200px,#1fa5e1 273px,#0ab4d0 321px,#02b8c8 340px,#22c1af 388px,#33c79c 525px)"></div><div style="background:linear-gradient(90deg,#2b91ef 0px,#2b92ef 220px,#249ee6 275px,#0cb4d2 333px,#02b9c7 358px,#21c1af 407px,#2fc5a0 525px)"></div><div style="background:linear-gradient(90deg,#2b92ee 0px,#2b91ef 242px,#23a0e5 295px,#0cb3d2 349px,#02b8c8 374px,#1abfb5 415px,#2bc4a5 522px,#2bc4a4 525px)"></div><div style="background:linear-gradient(90deg,#2994ed 0px,#2c8ff0 259px,#1da7e0 325px,#0ab4d0 370px,#02b9c8 391px,#13bdbb 426px,#24c2ac 500px,#27c3a9 525px)"></div><div style="background:linear-gradient(90deg,#2898eb 0px,#2d8df2 247px,#2897eb 306px,#0fb2d4 372px,#02b9c8 409px,#23c2ae 522px,#23c2ad 525px)"></div><div style="background:linear-gradient(90deg,#259de7 0px,#2d8df2 207px,#2c90f0 300px,#1ba8de 360px,#09b5d0 403px,#02b9c8 437px,#1dc0b3 525px)"></div><div style="background:linear-gradient(90deg,#21a3e3 0px,#2d8df2 206px,#2c8ff0 313px,#1ca8de 374px,#0bb4d1 414px,#02b9c7 470px,#13bdbb 525px)"></div><div style="background:linear-gradient(90deg,#1ba9de 0px,#2a94ed 151px,#2d8bf3 297px,#2897eb 354px,#0fb2d4 420px,#02b9c7 502px,#0abbc2 525px)"></div><div style="background:linear-gradient(90deg,#14afd8 0px,#2798ea 148px,#2d8bf3 268px,#2c90f0 349px,#1ba8de 405px,#0eb2d3 444px,#01b8c9 525px)"></div><div style="background:linear-gradient(90deg,#0db3d2 0px,#2995ed 188px,#2d8af3 313px,#2a93ee 376px,#13b0d7 446px,#06b6cd 525px)"></div><div style="background:linear-gradient(90deg,#01b8c9 0px,#15afd9 80px,#2c8ef1 248px,#2d8cf2 365px,#23a0e5 418px,#10b2d5 490px,#0bb4d1 525px)"></div><div style="background:linear-gradient(90deg,#1cc0b4 0px,#01b8ca 40px,#1da6e0 154px,#2d8df2 276px,#2d8df2 386px,#14afd8 496px,#0eb3d3 525px)"></div><div style="background:linear-gradient(90deg,#2dc5a3 0px,#1abfb6 44px,#01b8ca 80px,#21a2e3 191px,#2d8bf3 308px,#2d8df2 406px,#13b0d7 525px)"></div><div style="background:linear-gradient(90deg,#42c98d 0px,#31c69e 34px,#1bbfb5 87px,#02b8ca 118px,#13b0d7 161px,#2897eb 257px,#2d8af4 336px,#2d8df2 423px,#1aa9dd 520px,#19abdc 525px)"></div><div style="background:linear-gradient(90deg,#60cc73 0px,#34c79b 71px,#1fc0b2 118px,#02b8ca 142px,#16adda 193px,#2c8ff0 301px,#2e89f5 415px,#269be8 500px,#20a4e2 525px)"></div><div style="background:linear-gradient(90deg,#7ccb5c 0px,#38c896 104px,#1abfb5 145px,#01b8c9 165px,#13b0d7 205px,#2c8ff0 315px,#2e88f5 427px,#2897eb 511px,#269be8 525px)"></div><div style="background:linear-gradient(90deg,#96c948 0px,#55cb7c 109px,#34c79b 136px,#1bbfb5 168px,#01b8c9 188px,#13b0d7 228px,#2b91ef 325px,#2e87f6 424px,#2b91ef 518px,#2a93ee 525px)"></div><div style="background:linear-gradient(90deg,#a6c73e 0px,#94ca4a 53px,#6ecc67 113px,#34c79a 159px,#1bbfb5 191px,#01b8c9 211px,#14b0d8 252px,#2b92ee 337px,#2e87f6 427px,#2d8df2 525px)"></div><div style="background:linear-gradient(90deg,#afc639 0px,#9bc944 86px,#89ca53 115px,#41c98e 171px,#2fc5a1 190px,#1abfb6 215px,#01b8ca 234px,#17acdb 283px,#2b91ef 357px,#2e87f6 446px,#2e89f4 525px)"></div><div style="background:linear-gradient(90deg,#b4c536 0px,#a1c841 114px,#6dcc68 161px,#34c79b 206px,#1bbfb5 237px,#02b8ca 257px,#1fa5e1 322px,#2d8cf3 397px,#2e87f6 506px,#2e87f6 525px)"></div><div style="background:linear-gradient(90deg,#b8c434 0px,#aac63b 117px,#99c946 147px,#50cb81 207px,#34c79b 229px,#1bbfb5 260px,#02b8ca 280px,#20a4e2 344px,#2d8af4 424px,#2e87f6 525px)"></div><div style="background:linear-gradient(90deg,#b9c433 0px,#b0c538 124px,#9bc944 169px,#53cb7e 228px,#34c79a 252px,#1bbfb5 284px,#02b8ca 303px,#1fa5e1 361px,#2d8bf3 439px,#2e87f6 525px)"></div><div style="background:linear-gradient(90deg,#b9c433 0px,#b3c536 135px,#9ec943 190px,#59cb79 247px,#34c79a 276px,#1abfb5 308px,#01b8c9 325px,#17acda 364px,#2b92ee 431px,#2e87f6 525px)"></div><div style="background:linear-gradient(90deg,#b9c433 0px,#b5c536 153px,#9fc842 212px,#5dcc75 268px,#34c79b 301px,#1bbfb5 331px,#01b8c9 348px,#13b0d7 379px,#2798ea 438px,#2e89f5 525px)"></div><div style="background:linear-gradient(90deg,#b8c433 0px,#b5c435 174px,#a1c841 234px,#5dcc75 292px,#34c79b 325px,#1cbfb4 354px,#01b8ca 372px,#19aadd 417px,#2996ec 479px,#2d8cf2 525px)"></div><div style="background:linear-gradient(90deg,#b6c434 0px,#b6c435 192px,#a2c840 255px,#75cc61 298px,#33c79b 350px,#1bbfb5 379px,#01b8c9 396px,#15aed9 431px,#2996ec 510px,#2b92ee 525px)"></div><div style="background:linear-gradient(90deg,#b2c537 0px,#b8c434 197px,#a9c73c 265px,#97c947 293px,#4fca82 353px,#34c79b 374px,#1bbfb5 404px,#01b8ca 421px,#10b2d5 448px,#269be9 525px)"></div><div style="background:linear-gradient(90deg,#acc63b 0px,#b9c433 186px,#b0c538 268px,#9bc944 314px,#53cb7e 374px,#34c79b 399px,#1abfb5 429px,#02b8ca 450px,#17acdb 501px,#1fa5e1 525px)"></div><div style="background:linear-gradient(90deg,#a2c840 0px,#b9c433 182px,#b3c536 282px,#9ec943 336px,#59cb78 394px,#33c79b 424px,#1abfb6 459px,#01b8ca 480px,#15aed9 525px)"></div><div style="background:linear-gradient(90deg,#8eca4f 0px,#a5c73e 81px,#b9c433 188px,#b4c536 300px,#9fc942 359px,#5fcc73 414px,#34c79a 451px,#1bbfb5 488px,#01b8c9 510px,#0ab4d0 525px)"></div><div style="background:linear-gradient(90deg,#74cc62 0px,#b0c538 154px,#b9c433 242px,#b1c537 338px,#9cc943 387px,#4dca83 457px,#34c79b 481px,#1bbfb5 518px,#12bdbc 525px)"></div><div style="background:linear-gradient(90deg,#59cb79 0px,#89ca52 112px,#a4c83f 145px,#b7c434 217px,#b5c535 343px,#a0c841 407px,#4fca82 485px,#34c79b 510px,#2bc4a5 525px)"></div><div style="background:linear-gradient(90deg,#3cc992 0px,#6ccc68 111px,#a2c840 166px,#b6c435 237px,#b5c535 366px,#a1c841 431px,#6ccc68 486px,#41c98e 525px)"></div><div style="background:linear-gradient(90deg,#2cc4a4 0px,#3fc990 76px,#52cb7f 112px,#9fc942 187px,#b5c535 252px,#b6c435 377px,#a4c83f 452px,#8cca50 485px,#61cc71 525px)"></div><div style="background:linear-gradient(90deg,#1ec0b3 0px,#37c898 114px,#82cb58 183px,#a3c83f 221px,#b6c435 287px,#b4c536 418px,#a0c841 490px,#81cb59 525px)"></div><div style="background:linear-gradient(90deg,#07bac4 0px,#29c4a7 116px,#3ec991 148px,#87ca54 214px,#a4c83f 248px,#b6c435 320px,#b3c536 454px,#9fc842 520px,#9cc944 525px)"></div><div style="background:linear-gradient(90deg,#07b6ce 0px,#03b9c7 61px,#14bdba 112px,#26c3aa 137px,#3dc991 174px,#86cb55 239px,#a3c83f 274px,#b5c435 347px,#b2c537 486px,#a9c73c 525px)"></div><div style="background:linear-gradient(90deg,#0bb4d1 0px,#02b9c7 117px,#25c2ab 161px,#3ec991 201px,#86cb55 266px,#a4c83f 303px,#b5c435 376px,#b3c537 514px,#b1c538 525px)"></div><div style="background:linear-gradient(90deg,#0eb3d3 0px,#06b6cd 125px,#03b9c7 144px,#25c2ab 188px,#3dc991 227px,#85cb55 293px,#a3c83f 330px,#b5c535 402px,#b5c535 525px)"></div><div style="background:linear-gradient(90deg,#0fb2d4 0px,#08b5cf 145px,#03b9c7 171px,#25c2ab 215px,#3ec991 254px,#86cb55 322px,#a3c83f 359px,#b5c535 431px,#b6c435 525px)"></div><div style="background:linear-gradient(90deg,#10b2d4 0px,#09b5d0 167px,#02b9c7 197px,#25c2ab 242px,#3ec991 282px,#86cb55 350px,#a3c83f 387px,#b5c535 461px,#b7c434 525px)"></div><div style="background:linear-gradient(90deg,#10b2d5 0px,#0ab4d0 191px,#03b9c7 224px,#25c2ac 268px,#3dc991 310px,#86cb55 378px,#a3c83f 415px,#b5c535 490px,#b7c434 525px)"></div><div style="background:linear-gradient(90deg,#10b2d5 0px,#0ab4d0 215px,#03b9c7 251px,#25c2ab 297px,#3dc992 338px,#86cb55 406px,#a3c83f 443px,#b5c535 518px,#b5c435 525px)"></div><div style="background:linear-gradient(90deg,#10b2d4 0px,#0ab4d0 240px,#03b9c7 279px,#25c2ab 326px,#3ec991 367px,#86cb54 435px,#a4c83f 472px,#b2c537 525px)"></div><div style="background:linear-gradient(90deg,#0fb2d4 0px,#0ab4d0 266px,#03b9c7 307px,#25c2ab 354px,#3ec991 395px,#85cb55 462px,#a3c83f 500px,#acc63a 525px)"></div><div style="background:linear-gradient(90deg,#0fb2d4 0px,#0ab4d0 293px,#02b9c7 335px,#26c2ab 383px,#3dc991 423px,#86cb55 491px,#a2c840 525px)"></div><div style="background:linear-gradient(90deg,#0fb2d4 0px,#0ab4d0 321px,#02b9c7 363px,#25c2ab 411px,#3dc991 451px,#85cb55 519px,#8bca51 525px)"></div><div style="background:linear-gradient(90deg,#0fb2d4 0px,#0ab4d0 349px,#03b9c7 392px,#26c2ab 440px,#3ec991 480px,#6ecc67 525px)"></div><div style="background:linear-gradient(90deg,#11b1d5 0px,#0bb4d1 377px,#03b9c7 422px,#26c2ab 468px,#3ec991 508px,#51cb80 525px)"></div><div style="background:linear-gradient(90deg,#13b0d7 0px,#0bb4d1 405px,#03b9c7 450px,#25c2ab 495px,#34c79a 525px)"></div><div style="background:linear-gradient(90deg,#14afd8 0px,#0bb4d1 433px,#03b9c7 477px,#25c2ac 522px,#26c3aa 525px)"></div><div style="background:linear-gradient(90deg,#16adda 0px,#0ab4d1 461px,#02b9c7 503px,#13bdbb 525px)"></div><div style="background:linear-gradient(90deg,#18acdb 0px,#0ab4d0 488px,#01b8c9 525px)"></div><div style="background:linear-gradient(90deg,#19aadc 0px,#09b5d0 516px,#08b5cf 525px)"></div><div style="background:linear-gradient(90deg,#1ba8de 0px,#0bb4d1 525px)"></div><div style="background:linear-gradient(90deg,#1da7df 0px,#0cb4d1 525px)"></div><div style="background:linear-gradient(90deg,#1ea5e1 0px,#0cb3d2 525px)"></div><div style="background:linear-gradient(90deg,#20a4e2 0px,#0cb3d2 525px)"></div><div style="background:linear-gradient(90deg,#21a2e3 0px,#0cb4d2 525px)"></div><div style="background:linear-gradient(90deg,#21a2e3 0px,#0cb4d2 525px)"></div><div style="background:linear-gradient(90deg,#21a2e3 0px,#0cb4d2 525px)"></div><div style="background:linear-gradient(90deg,#21a2e3 0px,#0cb4d2 525px)"></div></div></div>
<div class="hm" style="left:88px;top:716px;width:509px;height:384.5px"><div class="hb" style="left:-8px;top:-8px;width:526px;filter:blur(1.2px)"><div style="background:linear-gradient(90deg,#4755f5 0px,#4755f5 525px)"></div><div style="background:linear-gradient(90deg,#4755f5 0px,#4755f5 525px)"></div><div style="background:linear-gradient(90deg,#4755f5 0px,#4755f5 525px)"></div><div style="background:linear-gradient(90deg,#4755f5 0px,#4755f5 525px)"></div><div style="background:linear-gradient(90deg,#4755f5 0px,#4755f5 525px)"></div><div style="background:linear-gradient(90deg,#4755f5 0px,#4755f5 525px)"></div><div style="background:linear-gradient(90deg,#4755f5 0px,#4755f5 525px)"></div><div style="background:linear-gradient(90deg,#4755f5 0px,#4755f5 525px)"></div><div style="background:linear-gradient(90deg,#4756f5 0px,#4756f5 525px)"></div><div style="background:linear-gradient(90deg,#4756f5 0px,#4756f5 525px)"></div><div style="background:linear-gradient(90deg,#4756f5 0px,#4756f5 525px)"></div><div style="background:linear-gradient(90deg,#4756f5 0px,#4756f5 525px)"></div><div style="background:linear-gradient(90deg,#4756f5 0px,#4756f5 525px)"></div><div style="background:linear-gradient(90deg,#4756f5 0px,#4756f5 525px)"></div><div style="background:linear-gradient(90deg,#4756f5 0px,#4756f5 525px)"></div><div style="background:linear-gradient(90deg,#4756f6 0px,#4756f6 525px)"></div><div style="background:linear-gradient(90deg,#4757f6 0px,#4757f6 525px)"></div><div style="background:linear-gradient(90deg,#4657f6 0px,#4657f6 525px)"></div><div style="background:linear-gradient(90deg,#4657f6 0px,#4657f6 525px)"></div><div style="background:linear-gradient(90deg,#4657f6 0px,#4657f6 525px)"></div><div style="background:linear-gradient(90deg,#4657f6 0px,#4657f6 525px)"></div><div style="background:linear-gradient(90deg,#4657f6 0px,#4657f6 525px)"></div><div style="background:linear-gradient(90deg,#4657f6 0px,#4657f6 525px)"></div><div style="background:linear-gradient(90deg,#4657f6 0px,#4657f6 525px)"></div><div style="background:linear-gradient(90deg,#4657f6 0px,#4657f6 525px)"></div><div style="background:linear-gradient(90deg,#4658f6 0px,#4658f6 525px)"></div><div style="background:linear-gradient(90deg,#4658f6 0px,#4658f6 525px)"></div><div style="background:linear-gradient(90deg,#4658f6 0px,#4659f7 525px)"></div><div style="background:linear-gradient(90deg,#4658f6 0px,#465af8 525px)"></div><div style="background:linear-gradient(90deg,#4658f6 0px,#465bf8 518px,#465dfa 525px)"></div><div style="background:linear-gradient(90deg,#4658f7 0px,#465bf8 508px,#4562fc 525px)"></div><div style="background:linear-gradient(90deg,#4658f7 0px,#465cf8 498px,#4168fc 523px,#3f6afc 525px)"></div><div style="background:linear-gradient(90deg,#4658f7 0px,#465cf9 488px,#4069fc 513px,#3973fc 525px)"></div><div style="background:linear-gradient(90deg,#4659f7 0px,#465cf9 478px,#4069fc 503px,#337afb 525px)"></div><div style="background:linear-gradient(90deg,#4659f7 0px,#465cf9 468px,#4069fc 492px,#307ffb 525px)"></div><div style="background:linear-gradient(90deg,#465af7 0px,#465df9 458px,#4069fc 482px,#307ffb 516px,#2f80fa 525px)"></div><div style="background:linear-gradient(90deg,#465af8 0px,#465df9 448px,#3f6afc 472px,#3080fb 505px,#2f80fa 525px)"></div><div style="background:linear-gradient(90deg,#465bf8 0px,#465efa 438px,#3f6bfc 462px,#2f80fa 495px,#307ffb 525px)"></div><div style="background:linear-gradient(90deg,#465cf9 0px,#465efa 427px,#3f6afc 451px,#2f80fa 484px,#327cfb 524px,#327bfb 525px)"></div><div style="background:linear-gradient(90deg,#465cf9 0px,#465ffa 416px,#3e6cfc 442px,#2f80fa 474px,#317dfb 514px,#3775fc 525px)"></div><div style="background:linear-gradient(90deg,#465df9 0px,#455ffb 405px,#3b70fc 436px,#2f81fa 465px,#317cfb 505px,#3d6efc 525px)"></div><div style="background:linear-gradient(90deg,#465efa 0px,#4560fb 395px,#3479fb 437px,#2f82f9 464px,#327bfb 498px,#4267fc 525px)"></div><div style="background:linear-gradient(90deg,#465ffa 0px,#4561fb 384px,#2f81fa 443px,#317efb 485px,#4562fc 525px)"></div><div style="background:linear-gradient(90deg,#455ffb 0px,#4561fc 373px,#2f81fa 429px,#307efb 475px,#4561fb 521px,#4560fb 525px)"></div><div style="background:linear-gradient(90deg,#4560fb 0px,#4562fc 362px,#2f81f9 415px,#307ffb 465px,#4561fc 512px,#465ffa 525px)"></div><div style="background:linear-gradient(90deg,#4561fb 0px,#4563fc 350px,#2f82f9 402px,#2f81fa 450px,#4561fc 504px,#465ffa 525px)"></div><div style="background:linear-gradient(90deg,#4561fc 0px,#4463fc 336px,#3776fb 370px,#2f83f8 393px,#2f81fa 440px,#4562fc 495px,#455ffb 525px)"></div><div style="background:linear-gradient(90deg,#4562fc 0px,#4464fc 322px,#337bfb 364px,#2e86f6 397px,#317dfb 440px,#4563fc 483px,#4560fb 525px)"></div><div style="background:linear-gradient(90deg,#4563fc 0px,#4365fc 308px,#2f84f8 368px,#2e85f7 411px,#3479fb 437px,#4563fc 475px,#4560fb 525px)"></div><div style="background:linear-gradient(90deg,#4464fc 0px,#4365fc 295px,#2f83f9 350px,#2e87f6 393px,#347afb 427px,#4463fc 465px,#4561fb 525px)"></div><div style="background:linear-gradient(90deg,#4365fc 0px,#4266fc 283px,#2f83f8 333px,#2e88f5 382px,#347afb 418px,#4464fc 455px,#4561fc 525px)"></div><div style="background:linear-gradient(90deg,#4366fc 0px,#4267fc 272px,#327cfb 305px,#2d8bf3 345px,#2f82f9 396px,#4366fc 443px,#4562fc 525px)"></div><div style="background:linear-gradient(90deg,#4267fc 0px,#4168fc 260px,#327cfb 291px,#2d8cf2 328px,#2f83f8 384px,#3775fc 406px,#4365fc 441px,#4562fc 525px)"></div><div style="background:linear-gradient(90deg,#4167fc 0px,#4069fc 249px,#317dfb 279px,#2c8ff1 316px,#2e86f6 369px,#3578fb 393px,#4266fc 427px,#4563fc 525px)"></div><div style="background:linear-gradient(90deg,#4168fc 0px,#4069fc 239px,#2f84f7 277px,#2b92ee 311px,#2f84f8 365px,#3775fb 387px,#4266fc 421px,#4464fc 525px)"></div><div style="background:linear-gradient(90deg,#4069fc 0px,#3f6afc 230px,#2f85f7 264px,#2995ec 298px,#2e87f6 350px,#3578fb 374px,#4267fc 407px,#4464fc 525px)"></div><div style="background:linear-gradient(90deg,#3f6afc 0px,#3f6bfc 220px,#317dfb 243px,#2897eb 283px,#2c8ff0 325px,#347afb 363px,#4168fc 396px,#4464fc 525px)"></div><div style="background:linear-gradient(90deg,#3f6bfc 0px,#3e6cfc 210px,#307efb 233px,#269ae9 271px,#2996ec 304px,#3479fb 354px,#4168fc 387px,#4464fc 525px)"></div><div style="background:linear-gradient(90deg,#3e6cfc 0px,#3d6dfc 202px,#2e86f7 231px,#259de7 261px,#2799ea 294px,#3479fb 344px,#4168fc 379px,#4465fc 525px)"></div><div style="background:linear-gradient(90deg,#3d6dfc 0px,#3d6dfc 194px,#2e85f7 220px,#23a1e4 252px,#269be8 285px,#3578fb 335px,#4069fc 370px,#4365fc 525px)"></div><div style="background:linear-gradient(90deg,#3d6efc 0px,#3c6efc 187px,#2e86f6 210px,#21a2e3 241px,#23a0e5 270px,#3578fb 324px,#4069fc 358px,#4365fc 525px)"></div><div style="background:linear-gradient(90deg,#3c6ffc 0px,#3c6ffc 180px,#2e85f7 200px,#21a3e3 228px,#1fa5e1 255px,#2c90f0 286px,#3578fb 314px,#3f6afc 348px,#4365fc 525px)"></div><div style="background:linear-gradient(90deg,#3b70fc 0px,#3b70fc 173px,#2e86f7 193px,#21a2e3 214px,#1ba8de 238px,#269be8 266px,#3479fb 304px,#3f6bfc 335px,#4365fc 525px)"></div><div style="background:linear-gradient(90deg,#3a71fc 0px,#3a71fc 166px,#2e85f7 185px,#20a4e2 205px,#19aadc 226px,#259de7 256px,#2f80fa 288px,#3d6dfc 315px,#4366fc 525px)"></div><div style="background:linear-gradient(90deg,#3a71fc 0px,#3a71fc 158px,#2e86f6 178px,#1da6e0 199px,#17adda 215px,#23a0e5 245px,#2f82f9 276px,#3c6efc 305px,#4266fc 525px)"></div><div style="background:linear-gradient(90deg,#3972fc 0px,#3a72fc 153px,#2e87f5 171px,#1aa9dd 194px,#16adda 213px,#259de7 240px,#347afb 276px,#3d6dfc 305px,#4266fc 525px)"></div><div style="background:linear-gradient(90deg,#3873fc 0px,#3972fc 149px,#2e86f7 162px,#1fa4e2 181px,#14afd8 198px,#1ea6e0 222px,#2e87f6 251px,#3973fc 277px,#3e6cfc 335px,#4266fc 525px)"></div><div style="background:linear-gradient(90deg,#3874fc 0px,#3873fc 145px,#2e86f7 156px,#1aa9dd 177px,#13b0d7 195px,#22a2e4 218px,#2e85f7 244px,#3b70fc 277px,#4267fc 525px)"></div><div style="background:linear-gradient(90deg,#3775fb 0px,#3874fc 141px,#2e86f6 152px,#21a3e3 164px,#13b1d7 181px,#1aaadd 202px,#2d8cf2 227px,#3577fb 252px,#3c6efc 291px,#4267fc 525px)"></div><div style="background:linear-gradient(90deg,#3676fb 0px,#3775fc 137px,#2e87f6 148px,#1ea6e0 159px,#12b1d6 173px,#19abdc 194px,#2d8bf3 218px,#3577fb 243px,#3c6ffc 287px,#4267fc 525px)"></div><div style="background:linear-gradient(90deg,#3677fb 0px,#3776fb 133px,#2e86f6 143px,#21a3e3 153px,#12b1d6 162px,#15aed9 183px,#2b92ee 204px,#337bfb 229px,#3a71fc 264px,#4167fc 525px)"></div><div style="background:linear-gradient(90deg,#3578fb 0px,#3578fb 129px,#2e88f5 139px,#1fa5e1 149px,#11b1d5 157px,#16add9 177px,#2d8af4 202px,#3578fb 223px,#3a71fc 272px,#4168fc 525px)"></div><div style="background:linear-gradient(90deg,#3479fb 0px,#3578fb 120px,#2e87f6 133px,#1da7df 145px,#0fb2d4 153px,#16aed9 170px,#2d8bf3 194px,#3578fb 214px,#3a72fc 273px,#4168fc 525px)"></div><div style="background:linear-gradient(90deg,#347afb 0px,#3479fb 114px,#2d8af4 127px,#1fa4e1 136px,#13b1d7 142px,#0db3d2 155px,#1ca8de 168px,#2e89f4 188px,#3677fb 209px,#4168fc 525px)"></div><div style="background:linear-gradient(90deg,#337bfb 0px,#337afb 108px,#2e89f4 120px,#1ea6e0 128px,#0cb4d1 134px,#04b9c6 137px,#0fbcbe 139px,#02b7ca 144px,#0cb4d1 151px,#17acdb 160px,#2799ea 170px,#2f80fa 190px,#3874fc 213px,#4069fc 525px)"></div><div style="background:linear-gradient(90deg,#327bfb 0px,#337afb 104px,#2b92ef 117px,#20a3e2 121px,#0fb2d4 124px,#03b7cb 126px,#24c2ad 129px,#2fc6a0 133px,#2fc5a0 140px,#22c1af 143px,#00b8c9 146px,#0cb3d2 150px,#1ca7df 158px,#2c8ff0 168px,#347afb 190px,#3874fc 225px,#3d6dfc 437px,#406afc 525px)"></div><div style="background:linear-gradient(90deg,#327cfb 0px,#327cfb 102px,#2d8bf3 109px,#1ea6e0 116px,#06b6cd 120px,#0ebcbf 121px,#24c2ad 122px,#41c98e 124px,#66cd6d 128px,#6dcc68 131px,#58cb79 135px,#47ca89 137px,#40c98f 140px,#23c2ae 144px,#03b9c7 146px,#0fb2d4 149px,#2a93ee 161px,#2f84f8 170px,#3874fc 197px,#3a71fc 391px,#3f6afc 525px)"></div><div style="background:linear-gradient(90deg,#317dfb 0px,#317dfb 99px,#2d8bf3 106px,#21a3e3 110px,#02b8c8 115px,#26c3aa 117px,#3dc992 119px,#79cb5e 122px,#a2c840 124px,#aac73c 126px,#a3c83f 130px,#89ca52 133px,#4eca82 138px,#49ca87 140px,#23c2ae 144px,#0dbcbf 145px,#07b6ce 146px,#1ca7df 150px,#2d8cf2 159px,#327bfb 172px,#3b70fc 213px,#3775fb 341px,#3e6cfc 525px)"></div><div style="background:linear-gradient(90deg,#307efb 0px,#307efb 96px,#2d8cf3 103px,#21a3e3 107px,#06b6cd 110px,#2bc4a4 112px,#36c898 113px,#80cb59 117px,#a3c840 119px,#c9c12a 124px,#cfc028 125px,#b3c536 130px,#99c946 133px,#52cb7f 138px,#3ac895 141px,#26c2ab 143px,#0fbcbe 144px,#09b5d0 145px,#249ee6 149px,#2e88f5 156px,#3578fb 168px,#3f6bfc 214px,#3578fb 328px,#3d6dfc 525px)"></div><div style="background:linear-gradient(90deg,#307ffb 0px,#307ffb 94px,#2d8cf2 100px,#21a3e3 104px,#07b6ce 107px,#2cc5a3 109px,#41c98e 110px,#80cb59 112px,#9ec942 113px,#c4c22d 117px,#ccc028 118px,#dfbe30 122px,#dcbe2f 126px,#cac129 128px,#9dc943 133px,#59cb79 137px,#35c799 139px,#28c3a8 141px,#1abfb6 142px,#03b7cb 143px,#21a3e3 146px,#2d8bf3 150px,#3578fb 160px,#4168fc 193px,#4464fc 214px,#3479fb 320px,#3c6efc 525px)"></div><div style="background:linear-gradient(90deg,#3080fb 0px,#2f80fa 93px,#2c8ff0 98px,#19aadd 102px,#07b5ce 104px,#16beb9 105px,#3fc98f 107px,#9dc943 110px,#cfc028 113px,#ddbe2f 114px,#ecbc37 117px,#eebc38 121px,#ddbe2f 126px,#c8c12a 128px,#9cc943 132px,#48ca88 136px,#34c79b 137px,#27c3a9 138px,#04b7cc 140px,#1ca8de 143px,#2c90f0 146px,#307ffb 151px,#3e6cfc 164px,#465cf9 204px,#3e6cfc 269px,#337afb 316px,#3b70fc 525px)"></div><div style="background:linear-gradient(90deg,#2f80fa 0px,#2f81fa 91px,#2c8ff1 96px,#1da7e0 99px,#09b5cf 101px,#15beba 102px,#3dc991 104px,#9ac946 107px,#ccc028 110px,#f1bb39 113px,#f9bb3d 114px,#f9c03a 116px,#f7bb3c 120px,#dfbe30 124px,#ccc028 126px,#a6c73e 129px,#7acb5e 131px,#34c79a 134px,#27c3a9 135px,#0fbcbe 136px,#09b4d0 137px,#22a2e4 140px,#2e85f7 145px,#3a71fc 151px,#4561fb 166px,#4756f5 213px,#4069fc 270px,#327bfb 316px,#3972fc 525px)"></div><div style="background:linear-gradient(90deg,#2f81fa 0px,#2f82f9 90px,#2d8ef1 94px,#1fa5e1 97px,#09b5d0 99px,#33c79b 101px,#77cc60 103px,#96c948 104px,#bac332 106px,#c9c12a 107px,#edbc38 110px,#f6bb3c 111px,#f9c437 116px,#f7ba3d 119px,#d0c029 123px,#a8c73d 126px,#93ca4b 127px,#78cc5f 128px,#55cb7c 129px,#3ac894 130px,#04b6cc 133px,#21a3e3 136px,#2e87f6 140px,#3676fb 144px,#4464fc 151px,#4657f6 168px,#4751f2 214px,#4167fc 273px,#317dfb 321px,#3775fc 525px)"></div><div style="background:linear-gradient(90deg,#2f81f9 0px,#2f82f9 88px,#2d8df2 92px,#21a3e3 95px,#0cb3d2 97px,#11bdbd 98px,#4fca82 100px,#9ec942 102px,#c5c12c 104px,#d4bf2b 105px,#f2bb3a 108px,#f9ba3e 109px,#f9c139 114px,#f7bb3c 117px,#d4bf2b 120px,#c5c22c 121px,#a7c73d 123px,#8fca4e 124px,#36c898 127px,#26c2aa 128px,#03b9c7 129px,#0fb2d4 130px,#269be8 133px,#337afb 138px,#4465fc 143px,#474ff1 165px,#474ff1 219px,#4463fc 271px,#307ffb 322px,#3578fb 525px)"></div><div style="background:linear-gradient(90deg,#2f82f9 0px,#2f82f9 86px,#2b92ef 91px,#23a1e5 93px,#0fb2d4 95px,#05b9c5 96px,#28c3a8 97px,#43c98d 98px,#69cd6a 99px,#92ca4b 100px,#aec639 101px,#c1c22f 102px,#d3bf2a 103px,#edbc38 105px,#f9bb3d 107px,#f9bd3c 112px,#f9ba3e 113px,#e1bd31 116px,#c7c12b 118px,#a8c73d 120px,#90ca4d 121px,#52cb7f 123px,#34c79a 124px,#24c2ad 125px,#04b9c6 126px,#18abdb 128px,#2d8ef1 131px,#3578fb 134px,#4464fc 137px,#4755f5 146px,#474aed 168px,#4750f2 231px,#4562fc 270px,#2f80fa 323px,#317dfb 525px)"></div><div style="background:linear-gradient(90deg,#2f83f8 0px,#2f83f8 85px,#2c90f0 89px,#1ca7df 92px,#04b7cc 94px,#23c2ae 95px,#37c897 96px,#86cb55 98px,#a7c73d 99px,#cdc028 101px,#e8bc35 103px,#f7bb3d 105px,#f9ba3d 109px,#e7bd35 112px,#d3bf2a 114px,#b7c434 116px,#a8c73d 117px,#91ca4c 118px,#54cb7d 120px,#35c799 121px,#25c2ac 122px,#06bac5 123px,#17acdb 125px,#2b91ef 128px,#2f83f9 130px,#4266fc 133px,#4755f5 137px,#4747ea 162px,#4750f2 234px,#4560fb 268px,#307ffb 317px,#2f81f9 401px,#2f81fa 525px)"></div><div style="background:linear-gradient(90deg,#2f83f8 0px,#2f84f8 84px,#2b91ef 88px,#21a3e3 90px,#0bb4d1 92px,#19bfb6 93px,#31c69d 94px,#7acb5e 96px,#a0c841 97px,#c6c12c 99px,#d6bf2c 100px,#ecbc37 102px,#f8ba3d 105px,#f4bb3b 107px,#d0c028 111px,#a6c73e 114px,#8eca4e 115px,#36c898 118px,#26c3aa 119px,#0bbbc1 120px,#0cb3d2 121px,#259ce7 124px,#307ffb 128px,#4464fc 131px,#4751f3 135px,#4748eb 149px,#4749ec 209px,#465bf8 262px,#3e6cfc 280px,#2f82f9 322px,#2e85f7 525px)"></div><div style="background:linear-gradient(90deg,#2f84f8 0px,#2f84f7 83px,#2b92ee 87px,#20a3e2 89px,#08b5cf 91px,#3cc992 93px,#68cd6c 94px,#93ca4b 95px,#aec639 96px,#d0c029 98px,#e8bd35 100px,#f4bb3b 103px,#edbc37 106px,#d8bf2d 108px,#c8c12b 109px,#a5c73f 111px,#6ecc67 113px,#35c799 115px,#26c3aa 116px,#0abbc1 117px,#0bb4d1 118px,#2896ec 122px,#347afb 126px,#4561fc 129px,#484cef 135px,#4744e6 167px,#484bee 220px,#465efa 267px,#347afb 294px,#2e86f6 341px,#2d8af4 525px)"></div><div style="background:linear-gradient(90deg,#2e85f7 0px,#2e85f7 82px,#2a93ee 86px,#20a4e2 88px,#07b6ce 90px,#3fc990 92px,#6bcd69 93px,#98c947 94px,#b3c537 95px,#c6c12c 96px,#e3bd32 98px,#f1bb39 101px,#ebbc37 104px,#d9be2d 106px,#cac129 107px,#a7c73e 109px,#86cb55 110px,#37c897 112px,#25c2ab 113px,#0abbc2 114px,#0bb4d1 115px,#2897eb 119px,#317dfb 123px,#4563fc 126px,#4751f2 130px,#4746e9 138px,#4640e1 173px,#4748eb 218px,#4561fb 271px,#307efb 293px,#2e89f4 350px,#2c8ff0 525px)"></div><div style="background:linear-gradient(90deg,#2e85f7 0px,#2e86f7 81px,#2a93ee 85px,#1fa4e1 87px,#06b6cd 89px,#40c98f 91px,#6dcc68 92px,#9ac945 93px,#b4c536 94px,#c7c12b 95px,#e5bd33 97px,#efbc38 99px,#eabc36 102px,#dabe2e 104px,#ccc028 105px,#aac73c 107px,#8dca4f 108px,#66cd6d 109px,#40c98f 110px,#27c3a9 111px,#03b9c7 112px,#1ba8de 114px,#2c90f0 117px,#317efb 120px,#4365fc 123px,#474aed 128px,#4642e4 138px,#463cdc 170px,#4744e6 215px,#465af8 258px,#4168fc 276px,#2f81fa 291px,#2d8df2 363px,#2996ec 525px)"></div><div style="background:linear-gradient(90deg,#2e86f6 0px,#2e86f6 80px,#2a94ed 84px,#1ea5e1 86px,#04b7cc 88px,#42c98d 90px,#6fcc66 91px,#9cc944 92px,#c8c12a 94px,#e6bd34 96px,#f0bb39 98px,#e9bc35 101px,#d0c029 103px,#adc63a 105px,#94ca4a 106px,#48ca88 108px,#0cbbc0 110px,#0eb3d3 111px,#23a0e5 113px,#2e85f7 116px,#3874fc 118px,#4563fc 120px,#4745e6 126px,#463ddd 130px,#4538d6 171px,#4642e3 215px,#4561fb 258px,#337bfb 284px,#2e88f5 296px,#279ae9 461px,#259de7 525px)"></div><div style="background:linear-gradient(90deg,#2e86f6 0px,#2e87f6 79px,#2995ed 83px,#1ea6e0 85px,#03b7cb 87px,#44c98b 89px,#70cc65 90px,#9ec943 91px,#c9c12a 93px,#e7bd34 95px,#f1bb3a 97px,#eabc36 100px,#d1bf29 102px,#a9c73c 104px,#83cb57 105px,#57cb7b 106px,#31c69e 107px,#15beb9 108px,#0bb4d1 109px,#22a1e4 111px,#327cfb 115px,#4464fc 117px,#484bee 121px,#4538d6 127px,#4434cd 166px,#4640e1 215px,#465bf8 243px,#3e6cfc 254px,#2f81fa 274px,#2c90f0 301px,#2996ec 353px,#20a3e3 525px)"></div><div style="background:linear-gradient(90deg,#2e87f6 0px,#2e88f5 79px,#2a93ee 82px,#1fa4e2 84px,#04b7cc 86px,#45c98b 88px,#72cc64 89px,#9fc942 90px,#cbc129 92px,#e8bd35 94px,#f2bb3a 96px,#f1bb39 98px,#e1bd31 100px,#d2bf2a 101px,#bfc330 102px,#a9c73c 103px,#85cb55 104px,#57cb7a 105px,#0abbc1 107px,#12b1d7 108px,#2898eb 110px,#337bfb 113px,#4561fc 115px,#4744e5 119px,#4434ce 125px,#4332c7 130px,#4231c5 157px,#453ad9 209px,#4753f3 232px,#4267fc 242px,#2f81f9 253px,#2995ed 278px,#269be9 303px,#2897eb 330px,#1fa5e1 439px,#1ba8de 525px)"></div><div style="background:linear-gradient(90deg,#2e87f6 0px,#2e87f6 78px,#2c90f0 81px,#249fe6 83px,#0db3d2 85px,#19bfb7 86px,#36c898 87px,#66cd6d 88px,#98c947 89px,#b5c535 90px,#cac129 91px,#ddbe2f 92px,#f0bb39 94px,#f2bb3a 97px,#e2bd32 99px,#d3bf2a 100px,#c0c32f 101px,#aac63b 102px,#86cb55 103px,#58cb79 104px,#0bbbc1 106px,#12b1d6 107px,#22a1e4 108px,#327cfb 111px,#465efa 113px,#463fdf 117px,#4332c9 122px,#422fc1 130px,#422fc0 167px,#453bda 212px,#4755f5 229px,#4365fc 235px,#2f81fa 243px,#22a1e4 263px,#1aa9dd 288px,#23a0e5 313px,#259de7 339px,#1ba8de 431px,#17acda 525px)"></div><div style="background:linear-gradient(90deg,#2e87f6 0px,#2e88f5 78px,#2b92ee 81px,#20a4e2 83px,#14afd8 84px,#03b7ca 85px,#4fca81 87px,#81cb58 88px,#aac63b 89px,#c3c22e 90px,#d8bf2d 91px,#f2bb3a 93px,#f7bb3d 95px,#eebc38 97px,#d4bf2b 99px,#c1c22f 100px,#abc63b 101px,#88ca53 102px,#59cb78 103px,#0cbbc0 105px,#12b1d6 106px,#22a1e4 107px,#2c8ef1 108px,#2f82f9 109px,#465ffa 111px,#4641e2 114px,#4434ce 117px,#422fc1 122px,#412dbb 145px,#412ebd 171px,#4537d5 209px,#474ff1 223px,#4365fc 230px,#2f82f9 237px,#1ea5e1 252px,#0fb2d4 266px,#0bb4d1 289px,#18abdb 311px,#22a2e4 333px,#18acdb 426px,#14afd8 525px)"></div><div style="background:linear-gradient(90deg,#2e87f6 0px,#2e87f6 77px,#2c8ff0 80px,#249ee6 82px,#0eb3d3 84px,#17beb8 85px,#36c898 86px,#68cd6c 87px,#9dc943 88px,#b9c433 89px,#d2bf2a 90px,#f4bb3b 92px,#f9be3b 94px,#f9bb3d 96px,#e1bd32 98px,#cdc028 99px,#b4c536 100px,#92ca4b 101px,#61cc72 102px,#33c79c 103px,#0dbcbf 104px,#12b1d6 105px,#22a1e4 106px,#3577fb 108px,#4562fc 109px,#463fe0 112px,#4333ca 115px,#412ebe 120px,#412dba 139px,#4333cb 201px,#463bdb 212px,#465bf8 224px,#4168fc 227px,#2f81fa 232px,#22a2e4 243px,#0eb3d3 253px,#02b9c7 262px,#14bdba 275px,#14bdba 287px,#01b8c9 298px,#1ca7df 328px,#13b1d7 525px)"></div><div style="background:linear-gradient(90deg,#2e87f6 0px,#2e87f5 77px,#2b92ef 80px,#20a3e3 82px,#04b7cc 84px,#50cb81 86px,#84cb56 87px,#aec639 88px,#c8c12b 89px,#e0be31 90px,#f2bb3a 91px,#f9bf3b 92px,#f9c438 94px,#f9be3b 96px,#f1bb3a 97px,#e0be31 98px,#c8c12b 99px,#aec639 100px,#85cb55 101px,#52cb7f 102px,#27c3a9 103px,#0ab4d0 104px,#1da6e0 105px,#3578fb 107px,#4657f6 108px,#463fe0 110px,#4332c8 113px,#412dbb 118px,#4434ce 197px,#463ddd 211px,#4659f7 221px,#4266fc 224px,#2f81f9 229px,#23a0e5 238px,#0db3d3 247px,#01b8c9 252px,#1dc0b4 261px,#26c2ab 279px,#20c1b1 294px,#01b8c9 308px,#16adda 326px,#18abdc 353px,#13b0d7 525px)"></div><div style="background:linear-gradient(90deg,#2e87f6 0px,#2e87f6 76px,#2c8ff1 79px,#249ee7 81px,#0fb2d4 83px,#15beba 84px,#36c898 85px,#69cd6b 86px,#a0c841 87px,#bdc331 88px,#d8bf2d 89px,#eebc38 90px,#f9bf3b 91px,#f9c934 93px,#f9c636 95px,#f9c03a 96px,#f1bb3a 97px,#ddbe2f 98px,#c3c22e 99px,#a7c73d 100px,#76cc61 101px,#41c98e 102px,#15beb9 103px,#13b0d8 104px,#269be8 105px,#2f81fa 106px,#465cf9 107px,#4748ea 108px,#4536d4 110px,#422fc1 112px,#412dbb 117px,#453ada 205px,#474aed 214px,#4563fc 221px,#2f83f8 227px,#20a3e2 236px,#0db3d3 243px,#02b8ca 247px,#21c1b0 256px,#2ac4a6 282px,#22c1af 300px,#01b8c9 313px,#13b0d7 327px,#18acdb 351px,#15aed9 525px)"></div><div style="background:linear-gradient(90deg,#2e87f6 0px,#2e87f6 76px,#2b91ef 79px,#22a2e4 81px,#07b5ce 83px,#27c3a9 84px,#4eca82 85px,#85cb55 86px,#b0c538 87px,#cdc028 88px,#e7bd35 89px,#f9bd3c 90px,#f9cd32 92px,#f9ca34 95px,#f9c139 96px,#f0bb39 97px,#d9bf2d 98px,#bdc331 99px,#9ec942 100px,#66cd6d 101px,#34c79b 102px,#05b6cc 103px,#1da6e0 104px,#2e89f5 105px,#4562fc 106px,#484cef 107px,#4539d7 108px,#422fc0 110px,#412fbf 120px,#463ddd 204px,#4750f2 214px,#4267fc 220px,#2f82f9 225px,#23a0e5 233px,#0cb3d2 241px,#02b9c7 245px,#21c1b0 252px,#29c4a6 269px,#29c3a7 295px,#1cc0b4 306px,#01b8c9 315px,#12b1d6 327px,#18abdc 349px,#18abdb 525px)"></div><div style="background:linear-gradient(90deg,#2e87f6 0px,#2e87f5 76px,#2b91ef 79px,#21a2e3 81px,#04b7cb 83px,#55cb7c 85px,#8dca4f 86px,#b5c435 87px,#d3bf2a 88px,#edbc38 89px,#f9c139 90px,#f8d12f 92px,#f8d12f 95px,#f9bd3c 97px,#e5bd33 98px,#c7c12b 99px,#a9c73c 100px,#74cc62 101px,#3ac894 102px,#04b7cb 103px,#249fe6 104px,#3577fb 105px,#474ff1 106px,#4537d5 108px,#4331c6 110px,#4230c3 128px,#453ada 187px,#4743e4 206px,#4657f6 215px,#4267fc 219px,#2f82f9 224px,#23a0e5 232px,#0cb3d2 240px,#03b7ca 243px,#09bac2 245px,#22c1af 251px,#2ac4a6 267px,#2ac4a6 295px,#1ec0b3 306px,#01b8c8 315px,#16adda 332px,#19aadc 362px,#1da7df 525px)"></div><div style="background:linear-gradient(90deg,#2e87f6 0px,#2e87f6 76px,#2c90f0 79px,#23a0e5 81px,#0bb4d1 83px,#21c1b0 84px,#41c98e 85px,#75cc62 86px,#a7c73d 87px,#c3c22d 88px,#e0be31 89px,#f9ba3e 90px,#f8d22e 92px,#f8d92a 95px,#f9cc32 97px,#f9bc3c 98px,#e0be31 99px,#c0c32f 100px,#9cc943 101px,#5ecc74 102px,#0fbcbe 103px,#20a4e2 104px,#3677fb 106px,#465cf9 107px,#463ede 109px,#43c 115px,#4230c3 131px,#4536d3 169px,#4745e7 206px,#465cf9 216px,#4168fc 219px,#2f82f9 224px,#239fe5 232px,#0db3d2 240px,#02b8c8 244px,#21c1b0 251px,#29c4a6 267px,#29c3a7 295px,#1dc0b4 305px,#01b8c9 313px,#19abdc 332px,#1da6e0 361px,#22a2e4 525px)"></div><div style="background:linear-gradient(90deg,#2e87f6 0px,#2e88f5 77px,#2a93ee 80px,#20a3e2 82px,#06b6cd 84px,#4aca86 86px,#7fcb5a 87px,#adc63a 88px,#cbc029 89px,#e9bc35 90px,#f9c239 91px,#f8d929 93px,#f8e025 95px,#f8d82a 97px,#f9cd32 98px,#f9bb3d 99px,#d6bf2c 100px,#aec639 101px,#87ca53 102px,#50cb81 103px,#26c2aa 104px,#0eb3d3 105px,#249fe6 106px,#2e87f6 107px,#4267fc 108px,#4659f7 109px,#4745e6 113px,#4536d2 123px,#4231c5 137px,#4333cc 166px,#4745e7 205px,#465bf8 216px,#3f6bfc 220px,#2f83f8 225px,#21a2e3 234px,#0cb4d2 242px,#03b9c7 246px,#20c1b1 253px,#29c4a7 270px,#28c3a8 293px,#1dc0b4 302px,#01b8c9 309px,#12b1d6 321px,#21a2e3 343px,#259ce8 525px)"></div><div style="background:linear-gradient(90deg,#2e87f6 0px,#2e88f5 78px,#2a93ee 81px,#20a3e2 83px,#06b6cd 85px,#4fca81 87px,#87ca53 88px,#b3c536 89px,#d4bf2b 90px,#f3bb3b 91px,#f9ca34 92px,#f8e124 94px,#f9e721 96px,#f9e423 97px,#f9bf3b 100px,#e8bc35 101px,#d0c028 102px,#b5c535 103px,#90ca4d 104px,#4eca83 105px,#07bac4 106px,#259ce8 107px,#2f83f8 108px,#4365fc 110px,#484cef 113px,#4640e0 117px,#4536d2 135px,#4231c5 149px,#4333cb 172px,#4642e3 206px,#4659f7 217px,#4168fc 221px,#2f81fa 226px,#22a1e4 236px,#0eb3d3 244px,#01b8c9 249px,#20c1b1 258px,#28c3a8 280px,#21c1b0 295px,#02b8ca 305px,#17acdb 318px,#249ee6 342px,#2996ec 525px)"></div><div style="background:linear-gradient(90deg,#2e87f6 0px,#2e88f5 79px,#2b92ef 82px,#21a3e3 84px,#05b6cc 86px,#29c4a7 87px,#55cb7d 88px,#90ca4d 89px,#bac433 90px,#ddbe2f 91px,#f9be3b 92px,#f8e025 94px,#f9e820 95px,#f9e920 96px,#f9c636 101px,#f9bb3d 102px,#d1c029 104px,#b5c535 105px,#78cc5f 106px,#2ec5a1 107px,#02b7ca 108px,#249fe6 110px,#2f83f9 112px,#455ffb 114px,#4749ec 116px,#4434cf 120px,#4331c7 123px,#4539d8 134px,#4536d2 146px,#4230c4 162px,#463ddd 206px,#4752f3 218px,#4267fc 224px,#2f83f8 230px,#22a2e4 240px,#0eb3d3 249px,#03b9c7 256px,#1abfb6 266px,#21c1b0 281px,#17beb8 290px,#01b8ca 298px,#1ca8df 313px,#239fe5 325px,#2799ea 359px,#2b91ef 525px)"></div><div style="background:linear-gradient(90deg,#2e86f6 0px,#2e87f5 80px,#2b91ef 83px,#22a2e4 85px,#05b6cc 87px,#2ac4a5 88px,#5acb78 89px,#99c946 90px,#bfc330 91px,#e1bd31 92px,#f9be3b 93px,#f9ce31 94px,#f8d82b 96px,#f9ce31 100px,#f9bb3d 103px,#edbc38 104px,#dbbe2e 105px,#c0c32f 106px,#aac63b 107px,#8cca50 108px,#67cd6d 109px,#43c98c 110px,#0bbbc1 112px,#0eb3d3 113px,#249ee6 115px,#2f83f9 118px,#4463fc 120px,#4746e8 123px,#4333cc 128px,#412ebf 133px,#4536d3 151px,#4231c5 175px,#463cdb 210px,#4752f3 222px,#4365fc 228px,#2f81fa 234px,#22a2e4 246px,#0fb2d4 257px,#01b8c8 273px,#05b6cc 288px,#19aadc 304px,#2a93ed 319px,#2b92ee 396px,#2d8cf2 525px)"></div><div style="background:linear-gradient(90deg,#2f84f7 0px,#2e86f7 81px,#2c8ff1 84px,#23a1e5 86px,#06b6cd 88px,#29c3a7 89px,#52cb7f 90px,#87cb54 91px,#aec639 92px,#c5c22c 93px,#d6bf2c 94px,#f9bb3d 97px,#f9c338 100px,#f8ba3d 103px,#f0bb39 104px,#ccc028 106px,#aac73c 108px,#93ca4b 109px,#3dc992 112px,#1bbfb5 114px,#01b8ca 115px,#16adda 119px,#2a92ee 123px,#317dfb 127px,#4464fc 130px,#4748ea 135px,#43c 141px,#412ebd 146px,#422fc1 154px,#4434cd 167px,#4331c7 190px,#453bda 214px,#4754f4 228px,#4267fc 234px,#2f82f9 241px,#1ea5e1 258px,#13b0d7 276px,#1ba8de 294px,#2e89f5 317px,#2d8bf3 326px,#2b91ef 342px,#2e89f4 525px)"></div><div style="background:linear-gradient(90deg,#2f83f8 0px,#2f84f8 82px,#2d8df1 85px,#249ee7 87px,#0fb2d4 89px,#0bbbc1 90px,#2cc4a4 91px,#5ecc74 93px,#91ca4c 95px,#a7c73e 96px,#cfc028 99px,#e1bd31 101px,#e7bd35 103px,#e2bd32 104px,#d2bf2a 105px,#a4c83f 108px,#56cb7b 111px,#3bc993 112px,#1bbfb5 114px,#0dbbc0 115px,#02b8ca 119px,#1da7df 128px,#2e88f5 136px,#337afb 139px,#455ffb 143px,#4747e9 148px,#4332c8 155px,#412dbb 160px,#422fc1 169px,#4333ca 182px,#4333ca 207px,#4640e0 224px,#4562fc 240px,#2f81f9 250px,#259ce8 270px,#259ce7 287px,#317dfb 321px,#2d8ef1 337px,#2e86f6 525px)"></div><div style="background:linear-gradient(90deg,#2f81fa 0px,#2f83f9 83px,#2c8ff0 87px,#1ea6e0 90px,#0ab4d0 93px,#05b9c5 94px,#1fc0b2 95px,#3ac895 97px,#8aca52 100px,#a3c840 101px,#bcc331 103px,#a7c73d 106px,#9ac945 107px,#5bcc77 110px,#31c69e 112px,#24c2ad 113px,#0ebcbf 114px,#02b7ca 120px,#17acdb 135px,#2d8af4 147px,#337afb 151px,#4561fc 155px,#4743e4 162px,#4332c7 169px,#412dbc 175px,#4333cb 200px,#4434cd 217px,#4747e9 236px,#4366fc 252px,#2f80fa 265px,#2d89f4 286px,#3479fb 310px,#3873fc 323px,#2e87f6 333px,#2d8bf3 354px,#2f85f7 525px)"></div><div style="background:linear-gradient(90deg,#307ffb 0px,#2f82f9 85px,#279ae9 93px,#16adda 97px,#07b5ce 99px,#11bdbd 100px,#3cc992 102px,#46ca89 103px,#43c98d 106px,#26c2ab 111px,#1abfb6 112px,#05b9c6 113px,#03b7cb 116px,#0db3d2 121px,#0db3d3 136px,#1ea5e1 148px,#2f82f9 161px,#455ffb 168px,#4744e6 175px,#4332c8 183px,#412ebd 190px,#4434cd 218px,#463cdc 237px,#4756f5 257px,#3f6afc 274px,#3676fb 293px,#3c6efc 324px,#2e85f7 335px,#2e89f4 374px,#2f83f8 525px)"></div><div style="background:linear-gradient(90deg,#317dfb 0px,#2f80fa 87px,#2c90f0 97px,#1da6e0 101px,#15aed9 105px,#19abdc 117px,#1da7e0 122px,#0eb3d3 131px,#10b2d5 147px,#23a0e5 161px,#337afb 175px,#465efa 181px,#4745e7 188px,#4332c9 197px,#412fbf 205px,#463cdb 247px,#4752f3 271px,#4168fc 296px,#3c6efc 328px,#2f83f8 337px,#2e86f6 393px,#2f82f9 525px)"></div><div style="background:linear-gradient(90deg,#347afb 0px,#307efb 92px,#2e88f5 100px,#2a94ed 116px,#2c8ff0 121px,#13b0d7 136px,#0eb3d3 151px,#1aaadd 165px,#2e85f7 183px,#3676fb 188px,#465efa 194px,#4744e6 202px,#4333ca 211px,#422fc1 219px,#463ede 261px,#4657f6 291px,#4069fc 309px,#3d6dfc 330px,#2f81fa 339px,#2e85f7 392px,#2f82f9 525px)"></div><div style="background:linear-gradient(90deg,#3677fb 0px,#327cfb 98px,#2f81f9 118px,#2d8af4 127px,#18abdb 142px,#0eb2d4 155px,#17acda 172px,#2d8af4 193px,#347afb 200px,#465ffa 207px,#4747e9 215px,#4333cc 225px,#4230c3 233px,#4640e0 273px,#465cf9 303px,#4168fc 315px,#3d6dfc 333px,#337bfb 341px,#2f84f7 376px,#2f82f9 525px)"></div><div style="background:linear-gradient(90deg,#3775fc 0px,#327cfb 124px,#2b91ef 138px,#15afd9 155px,#11b2d5 172px,#22a1e4 191px,#337bfb 213px,#465ffa 221px,#4747e9 229px,#4333cc 240px,#4231c6 249px,#463bdb 272px,#4756f5 305px,#4168fc 321px,#3d6efc 336px,#2f81fa 365px,#2f82f9 525px)"></div><div style="background:linear-gradient(90deg,#3874fc 0px,#337bfb 130px,#2994ed 149px,#15aed9 165px,#12b1d6 183px,#259de7 206px,#347afb 227px,#465ffa 235px,#4746e8 244px,#43c 255px,#4333cb 263px,#463ede 282px,#4756f5 312px,#4168fc 326px,#2f81fa 379px,#2f82f9 525px)"></div><div style="background:linear-gradient(90deg,#3973fc 0px,#337bfb 137px,#2c8ff0 156px,#17adda 174px,#13b0d7 192px,#23a0e5 216px,#327bfb 241px,#465efa 250px,#463ede 263px,#4536d2 274px,#4753f3 317px,#4069fc 332px,#327cfb 374px,#2f81fa 414px,#2f82f9 525px)"></div><div style="background:linear-gradient(90deg,#3a72fc 0px,#337bfb 146px,#2c8ff1 165px,#18abdb 183px,#16aed9 207px,#269be8 232px,#307ffb 255px,#465efa 266px,#4642e4 278px,#453ad9 288px,#4754f4 326px,#4168fc 337px,#337afb 382px,#2f81fa 473px,#2f81f9 525px)"></div><div style="background:linear-gradient(90deg,#3a71fc 0px,#337bfb 155px,#2c8ff0 175px,#1ea6e0 190px,#16adda 212px,#249ee6 244px,#307efb 272px,#4560fb 282px,#4748eb 293px,#4748ea 310px,#4756f5 335px,#4168fc 353px,#337afb 399px,#2f80fa 525px)"></div><div style="background:linear-gradient(90deg,#3b6ffc 0px,#337bfb 164px,#2c90f0 185px,#1ba9de 210px,#1ba8de 239px,#2a94ed 271px,#337bfb 290px,#455ffb 308px,#4755f5 329px,#4465fc 364px,#3676fb 388px,#307ffb 522px,#307ffb 525px)"></div><div style="background:linear-gradient(90deg,#3c6efc 0px,#337bfb 173px,#2798ea 206px,#1ba9de 228px,#23a1e5 269px,#2e85f7 310px,#3677fb 325px,#4069fc 341px,#3b70fc 381px,#3676fb 393px,#327cfb 525px)"></div><div style="background:linear-gradient(90deg,#3d6dfc 0px,#337bfb 182px,#2c90f0 213px,#20a4e2 236px,#21a3e3 275px,#2f84f8 349px,#317dfb 440px,#327cfb 525px)"></div><div style="background:linear-gradient(90deg,#3e6cfc 0px,#337bfb 195px,#2c90f0 227px,#21a3e3 259px,#269be8 308px,#2e87f6 387px,#307ffb 525px)"></div><div style="background:linear-gradient(90deg,#3f6bfc 0px,#337afb 208px,#23a0e5 277px,#2a94ed 346px,#2e85f7 449px,#2f81f9 525px)"></div><div style="background:linear-gradient(90deg,#3f6afc 0px,#337bfb 222px,#259ce8 295px,#2f84f7 477px,#2f82f9 525px)"></div><div style="background:linear-gradient(90deg,#4069fc 0px,#337bfb 238px,#2994ed 306px,#2d8ef1 391px,#2f82f9 525px)"></div><div style="background:linear-gradient(90deg,#4168fc 0px,#337bfb 257px,#2d8ef1 327px,#2e87f6 453px,#2f82f9 525px)"></div><div style="background:linear-gradient(90deg,#4168fc 0px,#327bfb 278px,#2d8bf3 373px,#2f82f9 525px)"></div><div style="background:linear-gradient(90deg,#4167fc 0px,#317cfb 307px,#2e86f6 411px,#2f82f9 525px)"></div><div style="background:linear-gradient(90deg,#4267fc 0px,#307efb 351px,#2f81f9 522px,#2f81f9 525px)"></div><div style="background:linear-gradient(90deg,#4267fc 0px,#2f81fa 500px,#2f81fa 525px)"></div><div style="background:linear-gradient(90deg,#4266fc 0px,#2f80fa 525px)"></div><div style="background:linear-gradient(90deg,#4366fc 0px,#317dfb 525px)"></div><div style="background:linear-gradient(90deg,#4365fc 0px,#347afb 525px)"></div><div style="background:linear-gradient(90deg,#4365fc 0px,#3676fb 525px)"></div><div style="background:linear-gradient(90deg,#4365fc 0px,#3873fc 525px)"></div><div style="background:linear-gradient(90deg,#4464fc 0px,#3a71fc 525px)"></div><div style="background:linear-gradient(90deg,#4464fc 0px,#3d6efc 525px)"></div><div style="background:linear-gradient(90deg,#4464fc 0px,#3f6bfc 525px)"></div><div style="background:linear-gradient(90deg,#4463fc 0px,#4168fc 525px)"></div><div style="background:linear-gradient(90deg,#4563fc 0px,#4366fc 525px)"></div><div style="background:linear-gradient(90deg,#4563fc 0px,#4463fc 525px)"></div><div style="background:linear-gradient(90deg,#4562fc 0px,#4562fc 525px)"></div><div style="background:linear-gradient(90deg,#4562fc 0px,#4562fc 525px)"></div><div style="background:linear-gradient(90deg,#4562fc 0px,#4561fc 525px)"></div><div style="background:linear-gradient(90deg,#4561fc 0px,#4560fb 525px)"></div><div style="background:linear-gradient(90deg,#4561fc 0px,#4560fb 525px)"></div><div style="background:linear-gradient(90deg,#4561fb 0px,#465ffa 525px)"></div><div style="background:linear-gradient(90deg,#4561fb 0px,#465efa 525px)"></div><div style="background:linear-gradient(90deg,#4560fb 0px,#465dfa 525px)"></div><div style="background:linear-gradient(90deg,#4560fb 0px,#465df9 525px)"></div><div style="background:linear-gradient(90deg,#4560fb 0px,#465cf9 525px)"></div><div style="background:linear-gradient(90deg,#465ffa 0px,#465bf8 525px)"></div><div style="background:linear-gradient(90deg,#465efa 0px,#465bf8 525px)"></div><div style="background:linear-gradient(90deg,#465dfa 0px,#465af7 525px)"></div><div style="background:linear-gradient(90deg,#465df9 0px,#4659f7 525px)"></div><div style="background:linear-gradient(90deg,#465cf9 0px,#4659f7 525px)"></div><div style="background:linear-gradient(90deg,#465bf8 0px,#4658f7 525px)"></div><div style="background:linear-gradient(90deg,#465bf8 0px,#4658f6 525px)"></div><div style="background:linear-gradient(90deg,#465af7 0px,#4658f6 525px)"></div><div style="background:linear-gradient(90deg,#4659f7 0px,#4658f6 525px)"></div><div style="background:linear-gradient(90deg,#4658f7 0px,#4657f6 525px)"></div><div style="background:linear-gradient(90deg,#4658f6 0px,#4657f6 525px)"></div><div style="background:linear-gradient(90deg,#4657f6 0px,#4657f6 525px)"></div><div style="background:linear-gradient(90deg,#4756f5 0px,#4757f6 525px)"></div><div style="background:linear-gradient(90deg,#4756f5 0px,#4756f5 525px)"></div><div style="background:linear-gradient(90deg,#4755f5 0px,#4756f5 525px)"></div><div style="background:linear-gradient(90deg,#4754f4 0px,#4756f5 525px)"></div><div style="background:linear-gradient(90deg,#4754f4 0px,#4756f5 525px)"></div><div style="background:linear-gradient(90deg,#4753f4 0px,#4755f5 525px)"></div><div style="background:linear-gradient(90deg,#4753f3 0px,#4755f5 525px)"></div><div style="background:linear-gradient(90deg,#4752f3 0px,#4755f5 525px)"></div><div style="background:linear-gradient(90deg,#4751f3 0px,#4755f4 525px)"></div><div style="background:linear-gradient(90deg,#4751f2 0px,#4754f4 525px)"></div><div style="background:linear-gradient(90deg,#4750f2 0px,#4754f4 525px)"></div><div style="background:linear-gradient(90deg,#4750f2 0px,#4754f4 525px)"></div><div style="background:linear-gradient(90deg,#474ff1 0px,#4754f4 525px)"></div><div style="background:linear-gradient(90deg,#474ff1 0px,#4753f4 525px)"></div><div style="background:linear-gradient(90deg,#484ef1 0px,#4753f4 525px)"></div><div style="background:linear-gradient(90deg,#484ef1 0px,#4753f3 525px)"></div><div style="background:linear-gradient(90deg,#484ef0 0px,#4753f3 525px)"></div><div style="background:linear-gradient(90deg,#484df0 0px,#4752f3 525px)"></div><div style="background:linear-gradient(90deg,#484df0 0px,#4752f3 525px)"></div><div style="background:linear-gradient(90deg,#484df0 0px,#4752f3 525px)"></div><div style="background:linear-gradient(90deg,#484df0 0px,#4751f3 525px)"></div><div style="background:linear-gradient(90deg,#484df0 0px,#4751f3 525px)"></div><div style="background:linear-gradient(90deg,#484df0 0px,#4751f2 525px)"></div><div style="background:linear-gradient(90deg,#484cf0 0px,#4751f2 525px)"></div><div style="background:linear-gradient(90deg,#484cf0 0px,#4750f2 525px)"></div><div style="background:linear-gradient(90deg,#484cef 0px,#4750f2 525px)"></div><div style="background:linear-gradient(90deg,#484cef 0px,#4750f2 525px)"></div><div style="background:linear-gradient(90deg,#484cef 0px,#4750f2 525px)"></div><div style="background:linear-gradient(90deg,#484bef 0px,#474ff2 525px)"></div><div style="background:linear-gradient(90deg,#484bef 0px,#474ff1 525px)"></div><div style="background:linear-gradient(90deg,#484bee 0px,#474ff1 525px)"></div><div style="background:linear-gradient(90deg,#484bee 0px,#474ff1 525px)"></div><div style="background:linear-gradient(90deg,#484bee 0px,#474ef1 525px)"></div><div style="background:linear-gradient(90deg,#484bee 0px,#474ef1 525px)"></div><div style="background:linear-gradient(90deg,#484aee 0px,#484ef1 525px)"></div><div style="background:linear-gradient(90deg,#484aed 0px,#484ef1 525px)"></div><div style="background:linear-gradient(90deg,#484aed 0px,#484ef1 525px)"></div><div style="background:linear-gradient(90deg,#484aed 0px,#484ef1 525px)"></div></div></div>
<div class="hm" style="left:88px;top:1154px;width:509px;height:391px"><div class="hb" style="left:-8px;top:-8px;width:526px;filter:blur(1.2px)"><div style="background:linear-gradient(90deg,#2f84f8 0px,#2f84f8 525px)"></div><div style="background:linear-gradient(90deg,#2f84f8 0px,#2f84f8 525px)"></div><div style="background:linear-gradient(90deg,#2f84f8 0px,#2f84f8 525px)"></div><div style="background:linear-gradient(90deg,#2f84f8 0px,#2f84f8 525px)"></div><div style="background:linear-gradient(90deg,#2f84f8 0px,#2f84f8 525px)"></div><div style="background:linear-gradient(90deg,#2f84f8 0px,#2f84f8 525px)"></div><div style="background:linear-gradient(90deg,#2f84f7 0px,#2f84f7 525px)"></div><div style="background:linear-gradient(90deg,#2e85f7 0px,#2e85f7 525px)"></div><div style="background:linear-gradient(90deg,#2e85f7 0px,#2e85f7 525px)"></div><div style="background:linear-gradient(90deg,#2e85f7 0px,#2e85f7 525px)"></div><div style="background:linear-gradient(90deg,#2e85f7 0px,#2e85f7 525px)"></div><div style="background:linear-gradient(90deg,#2e85f7 0px,#2e85f7 525px)"></div><div style="background:linear-gradient(90deg,#2e85f7 0px,#2e85f7 525px)"></div><div style="background:linear-gradient(90deg,#2e86f7 0px,#2e86f7 525px)"></div><div style="background:linear-gradient(90deg,#2e86f7 0px,#2e86f7 525px)"></div><div style="background:linear-gradient(90deg,#2e86f6 0px,#2e86f6 525px)"></div><div style="background:linear-gradient(90deg,#2e86f6 0px,#2e86f6 525px)"></div><div style="background:linear-gradient(90deg,#2e86f6 0px,#2e86f6 525px)"></div><div style="background:linear-gradient(90deg,#2e86f6 0px,#2e86f6 525px)"></div><div style="background:linear-gradient(90deg,#2e87f6 0px,#2e87f6 525px)"></div><div style="background:linear-gradient(90deg,#2e87f6 0px,#2e87f6 525px)"></div><div style="background:linear-gradient(90deg,#2e87f6 0px,#2e87f6 525px)"></div><div style="background:linear-gradient(90deg,#2e87f6 0px,#2e87f6 525px)"></div><div style="background:linear-gradient(90deg,#2e87f6 0px,#2e87f6 525px)"></div><div style="background:linear-gradient(90deg,#2e87f5 0px,#2e87f5 525px)"></div><div style="background:linear-gradient(90deg,#2e88f5 0px,#2e88f5 525px)"></div><div style="background:linear-gradient(90deg,#2e88f5 0px,#2e88f5 525px)"></div><div style="background:linear-gradient(90deg,#2e88f5 0px,#2e88f5 525px)"></div><div style="background:linear-gradient(90deg,#2e88f5 0px,#2d89f4 525px)"></div><div style="background:linear-gradient(90deg,#2e88f5 0px,#2d8bf3 525px)"></div><div style="background:linear-gradient(90deg,#2e89f5 0px,#2d8cf3 517px,#2d8ef1 525px)"></div><div style="background:linear-gradient(90deg,#2e89f5 0px,#2d8cf2 507px,#2b91ef 525px)"></div><div style="background:linear-gradient(90deg,#2e89f4 0px,#2d8cf2 497px,#2995ec 525px)"></div><div style="background:linear-gradient(90deg,#2e89f4 0px,#2d8cf2 487px,#2799ea 525px)"></div><div style="background:linear-gradient(90deg,#2e89f4 0px,#2d8cf2 477px,#269be9 525px)"></div><div style="background:linear-gradient(90deg,#2d8af4 0px,#2d8df2 467px,#259ce8 525px)"></div><div style="background:linear-gradient(90deg,#2d8af4 0px,#2d8df2 457px,#259ce8 517px,#259ce8 525px)"></div><div style="background:linear-gradient(90deg,#2d8af3 0px,#2d8df2 447px,#259ce7 506px,#269be8 525px)"></div><div style="background:linear-gradient(90deg,#2d8bf3 0px,#2d8df2 437px,#259de7 496px,#2799ea 525px)"></div><div style="background:linear-gradient(90deg,#2d8bf3 0px,#2d8df1 426px,#259de7 487px,#2996ec 525px)"></div><div style="background:linear-gradient(90deg,#2d8cf3 0px,#2d8ef1 414px,#259de7 477px,#2a92ee 525px)"></div><div style="background:linear-gradient(90deg,#2d8cf2 0px,#2d8ef1 403px,#249ee7 468px,#2b92ef 518px,#2c8ff0 525px)"></div><div style="background:linear-gradient(90deg,#2d8cf2 0px,#2d8ef1 392px,#249ee6 457px,#2a93ee 506px,#2d8df2 525px)"></div><div style="background:linear-gradient(90deg,#2d8df2 0px,#2c8ef1 381px,#249ee6 442px,#2996ec 489px,#2d8cf3 525px)"></div><div style="background:linear-gradient(90deg,#2d8df2 0px,#2c8ff1 370px,#249fe6 430px,#2996ec 479px,#2d8bf3 525px)"></div><div style="background:linear-gradient(90deg,#2d8df1 0px,#2c8ff0 359px,#23a0e5 419px,#2995ec 472px,#2d8bf3 524px,#2d8bf3 525px)"></div><div style="background:linear-gradient(90deg,#2d8ef1 0px,#2c8ff0 345px,#22a1e4 409px,#2a94ed 465px,#2d8bf3 519px,#2d8bf3 525px)"></div><div style="background:linear-gradient(90deg,#2d8ef1 0px,#2c90f0 330px,#21a2e3 399px,#2996ec 451px,#2d8bf3 502px,#2d8bf3 525px)"></div><div style="background:linear-gradient(90deg,#2c8ff1 0px,#2c90f0 314px,#20a3e3 389px,#2897eb 438px,#2d8bf3 489px,#2d8bf3 525px)"></div><div style="background:linear-gradient(90deg,#2c8ff0 0px,#2c90f0 300px,#1fa4e2 378px,#2799ea 425px,#2d8cf2 475px,#2d8bf3 525px)"></div><div style="background:linear-gradient(90deg,#2c8ff0 0px,#2c90ef 288px,#1fa4e1 355px,#249ee6 405px,#2d8df2 459px,#2d8bf3 525px)"></div><div style="background:linear-gradient(90deg,#2c90f0 0px,#2b91ef 277px,#1ca7df 342px,#249ee6 397px,#2d8df2 449px,#2d8bf3 525px)"></div><div style="background:linear-gradient(90deg,#2c90f0 0px,#2b91ef 265px,#1aa9dd 329px,#249ee7 389px,#2d8df2 439px,#2d8bf3 525px)"></div><div style="background:linear-gradient(90deg,#2b91ef 0px,#2b92ef 253px,#17acdb 319px,#23a0e5 376px,#2d8ef1 427px,#2d8cf3 525px)"></div><div style="background:linear-gradient(90deg,#2b91ef 0px,#2b92ee 243px,#1aaadd 291px,#15aed9 325px,#2c8ef1 413px,#2d8cf3 525px)"></div><div style="background:linear-gradient(90deg,#2a93ee 0px,#2a93ee 234px,#19abdc 278px,#12b1d6 312px,#249fe6 361px,#2c8ef1 408px,#2d8cf2 525px)"></div><div style="background:linear-gradient(90deg,#2a94ed 0px,#2a94ed 224px,#1aa9dd 261px,#0fb2d4 291px,#19abdc 332px,#2a93ee 377px,#2d8df2 467px,#2d8df2 525px)"></div><div style="background:linear-gradient(90deg,#2995ed 0px,#2995ec 215px,#1ca7df 246px,#0eb3d3 272px,#11b1d6 310px,#2995ed 365px,#2d8ef1 442px,#2d8df2 525px)"></div><div style="background:linear-gradient(90deg,#2996ec 0px,#2996ec 205px,#1ca7df 235px,#0cb3d2 258px,#0db3d2 292px,#1ba9de 323px,#2a94ed 361px,#2d8df2 525px)"></div><div style="background:linear-gradient(90deg,#2897eb 0px,#2897eb 198px,#1ba8de 226px,#0ab4d0 250px,#07b6ce 272px,#18abdb 312px,#2896ec 347px,#2c8ff0 419px,#2d8ef1 525px)"></div><div style="background:linear-gradient(90deg,#2798ea 0px,#2898ea 191px,#17acdb 220px,#01b8c8 253px,#14afd8 298px,#2798ea 335px,#2b91ef 387px,#2d8ef1 525px)"></div><div style="background:linear-gradient(90deg,#279ae9 0px,#2799ea 184px,#1ba8de 205px,#02b8ca 234px,#06bac5 252px,#02b7ca 263px,#19aadc 299px,#2897eb 332px,#2c90f0 434px,#2c8ff1 525px)"></div><div style="background:linear-gradient(90deg,#269be9 0px,#269ae9 178px,#1aa9dd 198px,#09b5cf 216px,#02b8c8 224px,#0dbbc0 238px,#02b8ca 259px,#1ba8de 294px,#2996ec 330px,#2c8ff1 525px)"></div><div style="background:linear-gradient(90deg,#259ce8 0px,#269be8 171px,#19abdc 191px,#02b9c8 212px,#12bdbc 226px,#09bac3 246px,#02b7ca 254px,#1ea6e0 289px,#2995ed 331px,#2c8ff0 525px)"></div><div style="background:linear-gradient(90deg,#259de7 0px,#259ce8 164px,#18acdb 184px,#01b8c9 201px,#13bdbb 211px,#16beb9 226px,#04b9c6 244px,#02b7ca 248px,#23a0e5 291px,#2995ed 336px,#2c90f0 525px)"></div><div style="background:linear-gradient(90deg,#249ee6 0px,#259de7 157px,#15aed9 178px,#02b9c8 193px,#1abfb6 204px,#1bbfb5 218px,#08bac3 236px,#02b7ca 241px,#21a2e3 278px,#2996ec 321px,#2c90f0 525px)"></div><div style="background:linear-gradient(90deg,#239fe5 0px,#249ee6 152px,#0db3d2 177px,#01b8c9 184px,#1cc0b4 195px,#20c1b1 208px,#0ebcbe 226px,#02b7ca 234px,#21a3e3 269px,#2897eb 312px,#2b91ef 525px)"></div><div style="background:linear-gradient(90deg,#23a1e5 0px,#23a0e5 148px,#06b6cd 173px,#02b9c8 176px,#20c1b1 187px,#21c1b0 205px,#0ebcbf 220px,#01b8c9 226px,#1ea6e0 256px,#2798ea 298px,#2b91ef 525px)"></div><div style="background:linear-gradient(90deg,#22a2e4 0px,#23a0e5 143px,#0fb2d4 159px,#01b8c9 167px,#21c1b0 178px,#24c2ac 195px,#1bbfb5 207px,#01b8ca 219px,#1ca7df 246px,#269be9 277px,#2b92ef 525px)"></div><div style="background:linear-gradient(90deg,#21a3e3 0px,#22a2e4 139px,#0db3d2 155px,#01b8ca 159px,#21c1b0 169px,#27c3a9 185px,#1ec0b3 200px,#01b8c9 211px,#1ba9dd 236px,#259ce8 265px,#2b92ee 525px)"></div><div style="background:linear-gradient(90deg,#1fa4e2 0px,#20a4e2 135px,#0ab4d0 151px,#02b9c7 154px,#21c1b0 160px,#29c4a7 174px,#20c1b1 193px,#02b8ca 205px,#16adda 223px,#249ee6 253px,#2a92ee 525px)"></div><div style="background:linear-gradient(90deg,#1ea6e0 0px,#1fa5e1 129px,#0bb4d1 145px,#01b8c9 148px,#21c1b0 154px,#2bc4a4 164px,#23c1ae 185px,#0dbbc0 194px,#01b8c9 198px,#15aed9 214px,#249fe6 245px,#2a93ee 525px)"></div><div style="background:linear-gradient(90deg,#1ca7df 0px,#1da7e0 124px,#0ab4d1 138px,#02b8c8 142px,#23c1ae 149px,#2dc5a2 159px,#24c2ad 178px,#15beba 185px,#01b8c9 191px,#14b0d8 205px,#23a0e5 237px,#2a93ee 525px)"></div><div style="background:linear-gradient(90deg,#1ba9de 0px,#1ba8de 119px,#05b6cd 132px,#03b9c7 134px,#22c1af 139px,#2fc5a1 155px,#23c1ae 173px,#04b9c6 183px,#03b7cb 185px,#19aadc 205px,#23a0e5 241px,#2a94ed 525px)"></div><div style="background:linear-gradient(90deg,#19aadc 0px,#1aa9dd 112px,#0fb2d4 121px,#03b7cb 124px,#04b9c6 125px,#20c1b1 128px,#2fc6a0 135px,#35c799 141px,#29c3a7 162px,#1abfb5 170px,#01b8c9 177px,#14b0d8 191px,#21a2e3 219px,#2994ed 525px)"></div><div style="background:linear-gradient(90deg,#17acdb 0px,#19aadc 107px,#0bb4d1 117px,#01b8c9 119px,#2ec5a2 123px,#40c98f 126px,#54cb7d 129px,#57cb7a 133px,#4dca83 137px,#4dca84 140px,#35c799 146px,#23c1ae 161px,#01b8c9 170px,#12b1d6 182px,#22a2e4 212px,#2995ed 525px)"></div><div style="background:linear-gradient(90deg,#16adda 0px,#18acdb 104px,#09b5d0 111px,#01b8c8 113px,#20c1b1 116px,#3dc992 120px,#7dcb5b 124px,#8fca4e 128px,#8aca52 131px,#64cd6e 136px,#5bcc76 137px,#54cb7d 141px,#34c79b 147px,#1cc0b4 158px,#01b8c8 163px,#13b0d7 176px,#23a0e5 208px,#269be8 416px,#2995ec 525px)"></div><div style="background:linear-gradient(90deg,#14afd8 0px,#16adda 101px,#0ab4d0 107px,#03b7cb 108px,#0bbbc1 109px,#1dc0b4 110px,#3ac894 114px,#8bca51 120px,#a5c83f 122px,#b8c434 125px,#abc63b 130px,#a1c841 132px,#5ecc75 138px,#58cb79 141px,#34c79b 146px,#1cbfb4 153px,#01b8c9 158px,#11b1d6 166px,#239fe5 197px,#259de7 221px,#23a0e5 339px,#2896ec 525px)"></div><div style="background:linear-gradient(90deg,#13b0d7 0px,#15aed9 98px,#09b5cf 104px,#01b8c9 105px,#20c1b1 107px,#33c79c 109px,#6ccc69 112px,#a2c840 116px,#cec027 123px,#d4bf2b 125px,#c4c22d 128px,#a2c840 133px,#62cc70 138px,#4fca82 142px,#32c69d 145px,#19bfb7 149px,#03b9c7 152px,#12b1d6 160px,#23a0e5 183px,#2896ec 212px,#20a3e2 306px,#2897eb 525px)"></div><div style="background:linear-gradient(90deg,#11b1d6 0px,#13b0d7 96px,#07b6ce 101px,#02b9c8 102px,#21c1b0 104px,#33c79c 106px,#58cb79 108px,#9ec943 111px,#b9c433 113px,#cdc027 116px,#e1bd31 121px,#dcbe2f 126px,#ccc028 128px,#9ac945 134px,#53cb7e 139px,#33c79c 143px,#19bfb6 146px,#01b8c9 148px,#0fb2d4 152px,#23a1e5 168px,#2d8cf2 210px,#1ea5e1 297px,#2799ea 525px)"></div><div style="background:linear-gradient(90deg,#11b1d6 0px,#13b0d7 94px,#08b5cf 98px,#01b8c9 99px,#21c1b0 101px,#33c79c 103px,#57cb7b 105px,#9bc945 108px,#c4c22d 111px,#d1bf29 112px,#e7bd35 114px,#f2bb3a 118px,#e6bd34 124px,#d6bf2c 127px,#cdc028 128px,#9dc943 133px,#59cb79 137px,#38c896 139px,#1bbfb5 143px,#0abbc2 144px,#04b7cc 145px,#15afd8 149px,#2799ea 163px,#2f82f9 210px,#20a4e2 282px,#1da6e0 330px,#269ce8 525px)"></div><div style="background:linear-gradient(90deg,#11b2d5 0px,#13b0d7 92px,#09b5d0 96px,#01b8c9 97px,#25c2ab 99px,#40c98f 101px,#81cb59 104px,#98c947 105px,#c2c22e 108px,#cfc028 109px,#f7bb3c 113px,#f9c139 116px,#f7bb3d 120px,#d4bf2b 126px,#cbc029 127px,#9cc944 131px,#4eca82 135px,#3ac895 136px,#17beb8 139px,#04b9c6 140px,#10b2d5 143px,#23a0e5 150px,#2e89f4 165px,#3578fb 195px,#3973fc 210px,#2f83f9 227px,#259de7 271px,#19aadc 301px,#249fe6 525px)"></div><div style="background:linear-gradient(90deg,#10b2d5 0px,#13b0d7 90px,#0ab4d0 94px,#02b7ca 95px,#0fbcbe 96px,#23c1ae 97px,#3fc990 99px,#93ca4b 102px,#a7c73d 103px,#ccc029 106px,#f3bb3a 110px,#f9bb3d 111px,#f9c437 116px,#f9ba3e 119px,#cfc028 124px,#a3c840 128px,#70cc65 130px,#34c79b 133px,#1abfb6 135px,#02b9c8 136px,#10b2d5 138px,#23a1e5 143px,#2e86f6 156px,#3676fb 167px,#4464fc 204px,#4069fc 214px,#2f82f9 239px,#2799e9 269px,#15aed9 299px,#21a3e3 525px)"></div><div style="background:linear-gradient(90deg,#10b2d5 0px,#12b1d6 89px,#04b7cc 93px,#0bbbc1 94px,#20c0b2 95px,#37c897 97px,#8cca50 100px,#a6c73e 101px,#c6c12c 103px,#d4bf2b 104px,#f6bb3c 108px,#f9c13a 115px,#f9bc3d 117px,#dfbe30 120px,#d3bf2a 121px,#bbc332 123px,#a1c841 125px,#5acb78 128px,#3dc991 129px,#1fc0b2 131px,#05b9c6 132px,#12b1d7 134px,#259ce8 138px,#2e87f5 146px,#3578fb 154px,#4463fc 163px,#465efa 208px,#3b70fc 229px,#2f84f8 250px,#23a1e4 278px,#11b1d6 298px,#1ca7df 525px)"></div><div style="background:linear-gradient(90deg,#10b2d5 0px,#12b1d6 87px,#06b6cd 91px,#07bac4 92px,#28c3a8 94px,#34c79b 95px,#65cd6e 97px,#a0c841 99px,#d0c029 102px,#f1bb39 105px,#f9bb3d 107px,#f9bc3d 113px,#f1bb3a 115px,#d8bf2d 118px,#cac129 119px,#a2c840 122px,#59cb79 125px,#40c98f 126px,#21c1b0 128px,#04b9c7 129px,#17adda 131px,#2b92ef 135px,#2f80fa 141px,#455ffb 156px,#4658f6 166px,#465ffa 214px,#3578fb 243px,#2b92ef 266px,#19aadc 285px,#0bb4d1 299px,#16adda 525px)"></div><div style="background:linear-gradient(90deg,#0fb2d4 0px,#11b1d5 86px,#08b5cf 89px,#02b9c8 90px,#25c2ab 92px,#31c69e 93px,#43c98c 94px,#97c947 97px,#bbc332 99px,#cac12a 100px,#ecbc37 103px,#f9bb3d 106px,#f7ba3d 110px,#dfbe30 114px,#c9c12a 116px,#a5c73e 119px,#74cc62 121px,#43c98c 123px,#24c2ad 125px,#0abbc2 126px,#0bb4d1 127px,#2897eb 131px,#3479fb 136px,#4464fc 144px,#4752f3 162px,#465efa 214px,#3a71fc 237px,#2e86f6 258px,#20a4e2 279px,#0ab4d0 293px,#02b7ca 301px,#10b2d5 525px)"></div><div style="background:linear-gradient(90deg,#0fb2d4 0px,#11b2d5 85px,#07b6ce 88px,#08bac4 89px,#1ec0b3 90px,#3ac894 92px,#8eca4f 95px,#a6c73e 96px,#c4c22d 98px,#d3bf2a 99px,#efbc38 102px,#f8ba3d 105px,#f1bb39 108px,#d2bf2a 112px,#bcc331 114px,#a4c83f 116px,#5fcc73 119px,#33c79b 121px,#26c3aa 122px,#12bdbc 123px,#06b6cd 124px,#269be8 128px,#3479fb 133px,#4562fc 137px,#4750f2 158px,#4659f7 208px,#406afc 227px,#2f84f8 255px,#249ee6 274px,#0bb4d1 289px,#01b8c9 293px,#13bdbb 298px,#09bac3 347px,#09bac2 424px,#02b7ca 483px,#08b5cf 525px)"></div><div style="background:linear-gradient(90deg,#0fb2d4 0px,#10b2d5 84px,#06b6cd 87px,#09bac2 88px,#20c1b1 89px,#3ec990 91px,#9ec943 94px,#cdc028 97px,#eabc36 100px,#f4bb3b 103px,#efbc39 106px,#d5bf2b 109px,#c7c12b 110px,#a2c840 113px,#48ca88 117px,#34c79b 118px,#18beb7 120px,#02b8ca 121px,#1ca7df 124px,#2e88f5 128px,#317efb 130px,#4561fc 134px,#4756f5 140px,#484cef 167px,#465bf8 209px,#3f6bfc 224px,#2f82f9 246px,#2896ec 268px,#16adda 281px,#02b8ca 289px,#21c1b0 296px,#22c1af 308px,#1cc0b4 355px,#1bbfb5 455px,#0dbbc0 525px)"></div><div style="background:linear-gradient(90deg,#0eb2d4 0px,#10b2d5 83px,#05b6cc 86px,#0abbc1 87px,#21c1b0 88px,#2dc5a2 89px,#40c98f 90px,#7ecb5b 92px,#a0c841 93px,#c3c22e 95px,#d2bf2a 96px,#e6bd34 98px,#f1bb39 101px,#edbc38 104px,#d6bf2c 107px,#c8c12a 108px,#abc63b 110px,#96c948 111px,#5dcc75 113px,#34c79a 115px,#18beb7 117px,#03b7ca 118px,#22a2e4 122px,#317dfb 127px,#3f6bfc 129px,#465af7 133px,#484cf0 146px,#4746e8 167px,#4657f6 204px,#4168fc 218px,#2f81f9 236px,#269be8 268px,#11b2d5 281px,#01b8c9 286px,#20c1b1 291px,#2dc5a3 299px,#26c3aa 357px,#25c2ab 489px,#23c2ae 525px)"></div><div style="background:linear-gradient(90deg,#0eb3d3 0px,#0fb2d4 82px,#04b7cc 85px,#0cbbc0 86px,#22c1af 87px,#2ec5a1 88px,#41c98e 89px,#80cb59 91px,#a1c841 92px,#c3c22d 94px,#d3bf2a 95px,#e8bd35 97px,#efbc38 100px,#e7bd35 103px,#cac129 106px,#9bc944 109px,#42c98d 112px,#1cc0b4 114px,#01b8c8 115px,#23a1e4 119px,#307efb 124px,#4560fb 127px,#4752f3 131px,#4640e1 159px,#484aed 188px,#4563fc 212px,#2f82f9 229px,#1fa5e1 270px,#07b5ce 282px,#03b7cb 283px,#0fbcbe 285px,#23c2ae 288px,#34c79a 297px,#2cc4a3 356px,#2ec5a1 499px,#2dc5a2 525px)"></div><div style="background:linear-gradient(90deg,#0eb3d3 0px,#0fb2d4 81px,#04b7cb 84px,#0dbbbf 85px,#22c1af 86px,#2fc5a1 87px,#42c98d 88px,#81cb58 90px,#a2c840 91px,#c4c22d 93px,#d4bf2b 94px,#e9bc35 96px,#f0bb39 99px,#e4bd33 102px,#ccc028 104px,#a0c841 107px,#63cc70 109px,#2fc6a0 111px,#20c0b1 112px,#02b8ca 113px,#21a3e3 116px,#2d8af4 119px,#327bfb 121px,#4266fc 123px,#4749ec 128px,#453bda 157px,#4640e1 176px,#465bf8 204px,#4069fc 212px,#2f81f9 223px,#1fa4e2 255px,#0fb2d4 275px,#02b8ca 280px,#23c2ae 285px,#3ac894 294px,#3fc990 299px,#32c69d 333px,#36c899 525px)"></div><div style="background:linear-gradient(90deg,#0eb3d3 0px,#0fb2d4 80px,#03b7cb 83px,#0ebcbf 84px,#23c1ae 85px,#2fc5a0 86px,#44c98c 87px,#82cb57 89px,#a3c840 90px,#c5c22c 92px,#d5bf2b 93px,#eabc36 95px,#f1bb3a 98px,#e5bd33 101px,#cbc029 103px,#a9c73c 105px,#8dca4f 106px,#4bca85 108px,#31c69e 109px,#21c1af 110px,#01b8c9 111px,#23a1e4 114px,#3578fb 118px,#4563fc 120px,#4746e8 125px,#463cdc 129px,#4536d3 164px,#474ff1 193px,#4167fc 208px,#2f81fa 218px,#21a2e3 240px,#10b2d4 262px,#04b7cc 274px,#03b9c7 276px,#24c2ad 282px,#48ca88 294px,#4aca86 300px,#36c898 334px,#39c895 415px,#41c98e 525px)"></div><div style="background:linear-gradient(90deg,#0db3d3 0px,#0fb2d4 79px,#05b6cc 82px,#0bbbc1 83px,#21c1b0 84px,#2ec5a1 85px,#43c98c 86px,#84cb56 88px,#a4c83f 89px,#c6c12c 91px,#e2bd32 93px,#f0bb39 95px,#f1bb3a 98px,#e6bd34 100px,#cdc028 102px,#aac73c 104px,#8eca4e 105px,#69cd6b 106px,#44c98b 107px,#27c3a9 108px,#03b9c7 109px,#1aa9dd 111px,#2d8af4 114px,#2f80fa 115px,#4563fc 117px,#484cf0 120px,#453ad9 125px,#4435d0 131px,#4332c9 163px,#4749ec 188px,#4365fc 204px,#2f83f8 215px,#21a2e3 232px,#0cb3d2 248px,#02b9c7 259px,#17beb8 272px,#3bc993 286px,#51cb80 292px,#53cb7e 300px,#37c897 341px,#3cc992 409px,#4bca85 525px)"></div><div style="background:linear-gradient(90deg,#0db3d2 0px,#0eb3d3 79px,#09b5cf 81px,#01b8c8 82px,#28c3a8 84px,#37c898 85px,#79cc5f 87px,#9ec942 88px,#c5c22c 90px,#d6bf2c 91px,#ecbc37 93px,#f4bb3b 96px,#e7bd34 99px,#cec027 101px,#abc63b 103px,#90ca4d 104px,#45c98a 106px,#27c3a9 107px,#09b5cf 108px,#23a1e5 110px,#327cfb 113px,#465efa 115px,#4744e6 118px,#4435d0 124px,#4332c8 132px,#4230c4 158px,#463ede 179px,#4659f7 196px,#406afc 203px,#2f84f8 212px,#22a2e4 226px,#0bb4d1 239px,#03b9c7 244px,#21c1b0 253px,#33c79b 278px,#44c98b 284px,#5acc78 292px,#58cb7a 302px,#39c895 343px,#3bc894 396px,#50cb80 525px)"></div><div style="background:linear-gradient(90deg,#0db3d2 0px,#0fb2d4 78px,#05b6cc 81px,#0bbbc1 82px,#22c1af 83px,#2fc5a0 84px,#46ca8a 85px,#8cca50 87px,#aac73c 88px,#d0c029 90px,#ebbc37 92px,#f6bb3c 94px,#f0bb39 97px,#ddbe2f 99px,#cfc028 100px,#acc63a 102px,#91ca4c 103px,#47ca89 105px,#28c3a8 106px,#08b5cf 107px,#1ea5e0 108px,#2e88f5 110px,#337afb 111px,#4267fc 112px,#4747e9 115px,#4538d7 118px,#4231c5 127px,#4332c8 147px,#4743e4 179px,#4563fc 198px,#2f81fa 208px,#23a1e5 221px,#0bb4d1 232px,#02b7ca 235px,#0fbcbe 238px,#22c1af 242px,#37c897 257px,#45c98a 277px,#62cc70 292px,#58cb7a 308px,#3ac894 344px,#39c895 389px,#53cb7e 525px)"></div><div style="background:linear-gradient(90deg,#0cb3d2 0px,#0eb3d3 78px,#08b5cf 80px,#01b8c8 81px,#28c3a8 83px,#36c898 84px,#79cc5f 86px,#9fc942 87px,#c8c12a 89px,#e9bc36 91px,#f9bb3d 93px,#f8ba3d 96px,#e6bd34 98px,#d8bf2d 99px,#c5c22d 100px,#99c946 102px,#48ca88 104px,#29c3a7 105px,#08b5ce 106px,#1ea6e0 107px,#2d8bf3 108px,#337bfb 109px,#4366fc 110px,#484cef 112px,#4539d8 115px,#4332c8 120px,#4332c9 127px,#4748eb 176px,#4561fb 194px,#2f82f9 206px,#249fe6 217px,#0bb4d1 227px,#01b8c8 230px,#22c1ae 235px,#51cb80 253px,#59cb79 265px,#5dcc75 281px,#69cd6a 294px,#3ac894 344px,#38c896 388px,#53cb7e 525px)"></div><div style="background:linear-gradient(90deg,#0cb3d2 0px,#0eb3d3 77px,#04b6cc 80px,#0bbbc1 81px,#21c1b0 82px,#2ec5a1 83px,#45c98b 84px,#8cca50 86px,#abc63b 87px,#c0c32f 88px,#d4bf2b 89px,#f2bb3a 91px,#f9bc3d 92px,#f9bf3b 95px,#f9bc3d 96px,#e5bd33 98px,#d4bf2b 99px,#c0c22f 100px,#abc63b 101px,#8dca4f 102px,#5dcc75 103px,#31c69d 104px,#02b8c8 105px,#1ba8de 106px,#2d8bf3 107px,#4168fc 108px,#484bee 110px,#4538d7 113px,#4333ca 117px,#484cf0 168px,#465dfa 187px,#3e6cfc 194px,#2f84f8 203px,#249fe6 214px,#0cb3d2 223px,#03b9c7 226px,#23c1ae 230px,#43c98c 239px,#62cc71 248px,#71cc65 259px,#6dcc67 285px,#6ccc68 297px,#39c895 343px,#35c799 384px,#52cb7f 525px)"></div><div style="background:linear-gradient(90deg,#0cb3d2 0px,#0eb3d3 77px,#09b5cf 79px,#01b8c9 80px,#35c799 83px,#78cc5f 85px,#9fc842 86px,#cbc029 88px,#efbc38 90px,#f9bc3d 91px,#f9c338 94px,#f9bd3c 96px,#f1bb3a 97px,#d0c029 99px,#a5c73e 101px,#80cb59 102px,#46ca89 103px,#1fc0b2 104px,#14afd8 105px,#2c90f0 106px,#3d6efc 107px,#4752f3 108px,#463fdf 110px,#4435d1 113px,#4538d6 122px,#4755f5 162px,#455ffb 182px,#2f83f8 199px,#259ce7 210px,#0bb4d1 220px,#01b8c9 222px,#22c1ae 226px,#3fc990 233px,#61cc71 240px,#7ecb5b 250px,#86cb54 262px,#6ecc67 298px,#37c897 342px,#31c69d 380px,#43c98c 477px,#4eca82 525px)"></div><div style="background:linear-gradient(90deg,#0db3d2 0px,#0eb3d3 77px,#07b5ce 79px,#06b9c5 80px,#1cc0b4 81px,#40c98f 83px,#8aca52 85px,#abc63b 86px,#c1c22f 87px,#d7bf2c 88px,#f9ba3e 90px,#f9c636 92px,#f9c338 95px,#f9be3b 96px,#f0bb39 97px,#cac129 99px,#9cc944 101px,#73cc63 102px,#30c69f 103px,#09b5d0 104px,#2799ea 105px,#3677fb 106px,#4658f6 107px,#4743e4 108px,#4537d5 110px,#4747e9 143px,#4464fc 178px,#2f84f8 196px,#249ee6 208px,#07b5ce 218px,#01b8ca 219px,#23c2ad 223px,#3fc990 229px,#66cd6d 236px,#87cb54 245px,#96c949 256px,#8fca4e 271px,#6dcc68 300px,#36c898 338px,#2cc4a3 372px,#3fc990 493px,#47ca89 525px)"></div><div style="background:linear-gradient(90deg,#0db3d3 0px,#0eb3d3 77px,#07b5ce 79px,#06bac5 80px,#1ec0b3 81px,#2dc5a3 82px,#43c98c 83px,#66cd6d 84px,#8fca4e 85px,#aec639 86px,#c4c22d 87px,#dbbe2e 88px,#eebc38 89px,#f9bd3c 90px,#f9c934 92px,#f9cb33 95px,#f9bd3c 97px,#ecbc37 98px,#d7bf2c 99px,#bfc330 100px,#a7c73d 101px,#7fcb5a 102px,#31c69e 103px,#12b1d7 104px,#2d8af3 105px,#4560fb 106px,#484ef1 107px,#4642e4 108px,#453ad9 111px,#463cdb 132px,#4755f4 165px,#4168fc 179px,#2f82f9 192px,#259de7 205px,#06b6cd 216px,#02b9c8 217px,#21c1b0 220px,#3ec991 226px,#6acd6a 233px,#8cca50 241px,#9ec942 251px,#9ec943 266px,#6fcc66 299px,#35c799 334px,#27c3a9 366px,#3cc992 525px)"></div><div style="background:linear-gradient(90deg,#0eb3d3 0px,#0fb2d4 77px,#09b5d0 79px,#00b8c9 80px,#28c3a8 82px,#38c896 83px,#7fcb5a 85px,#a4c83f 86px,#d1c029 88px,#f9ba3e 90px,#f9cd32 92px,#f8d32d 95px,#f9cb33 97px,#f9c03a 98px,#ecbc37 99px,#d4bf2b 100px,#b9c433 101px,#9ec942 102px,#41c98e 103px,#08b5cf 104px,#21a3e3 105px,#2d8af3 106px,#3a71fc 107px,#4659f7 108px,#484cf0 109px,#463ede 115px,#4538d7 131px,#4747e9 158px,#4464fc 179px,#2f82f9 191px,#259ce8 203px,#07b5ce 214px,#01b8c9 215px,#20c1b1 218px,#3ec990 224px,#6dcc67 231px,#91ca4c 239px,#a2c840 248px,#a2c840 268px,#7dcb5b 292px,#37c897 328px,#23c2ae 358px,#21c1b0 392px,#33c79b 525px)"></div><div style="background:linear-gradient(90deg,#0eb3d3 0px,#10b2d4 77px,#06b6cd 80px,#08bac4 81px,#1ec0b2 82px,#40c98f 84px,#88ca53 86px,#aac73c 87px,#c1c22e 88px,#dabe2e 89px,#f1bb39 90px,#f9c338 91px,#f8d62c 93px,#f8db28 96px,#f9cf30 98px,#f9c239 99px,#e7bd35 100px,#c6c12c 101px,#b0c538 102px,#88ca53 103px,#54cb7d 104px,#24c2ac 105px,#13b0d7 106px,#2996ec 107px,#327cfb 108px,#3d6dfc 109px,#465ffa 111px,#484aed 118px,#453ad9 133px,#463cdb 150px,#4751f2 171px,#4365fc 182px,#2f82f9 192px,#249ee7 203px,#06b6cd 213px,#02b8c8 214px,#21c1b0 217px,#39c895 222px,#6bcd69 229px,#92ca4b 237px,#a2c840 244px,#a6c73e 264px,#99c946 278px,#5acc78 307px,#33c79c 329px,#13bdbb 366px,#16beb9 405px,#28c3a8 502px,#2bc4a4 525px)"></div><div style="background:linear-gradient(90deg,#0eb2d4 0px,#10b2d5 78px,#07b6ce 81px,#06bac4 82px,#1ec0b3 83px,#2dc5a3 84px,#42c98d 85px,#65cd6e 86px,#8fca4e 87px,#b0c538 88px,#c9c12a 89px,#f9bd3c 91px,#f8d82b 93px,#f9e423 95px,#f9e423 97px,#f9c438 100px,#f2bb3a 101px,#ddbe2f 102px,#c5c22c 103px,#aac63b 104px,#6fcc66 105px,#25c2ac 106px,#20a3e2 107px,#2e88f5 108px,#307ffb 109px,#4365fc 111px,#4754f4 114px,#474ef1 121px,#4746e8 133px,#463bda 151px,#4642e4 165px,#4562fc 183px,#2f81fa 193px,#269be8 203px,#0bb4d1 212px,#02b8c8 214px,#23c1ae 217px,#3dc991 222px,#70cc65 229px,#96c948 237px,#a3c83f 244px,#a6c73e 265px,#9ac945 278px,#4dca84 311px,#32c69d 327px,#0abbc2 363px,#06bac5 391px,#24c2ad 525px)"></div><div style="background:linear-gradient(90deg,#0fb2d4 0px,#10b2d5 79px,#08b5cf 82px,#04b9c6 83px,#1cc0b4 84px,#2dc5a3 85px,#44c98b 86px,#69cd6a 87px,#96c948 88px,#b5c435 89px,#d2bf2a 90px,#eebc38 91px,#f9c636 92px,#f8e224 94px,#f9e920 96px,#f9c735 101px,#f9bd3c 102px,#d7bf2c 104px,#bcc332 105px,#87cb54 106px,#37c898 107px,#12bdbc 108px,#0fb2d4 109px,#2898eb 111px,#307efb 113px,#3e6cfc 114px,#465df9 115px,#4746e8 118px,#453ad9 121px,#463cdc 126px,#4749eb 136px,#4641e1 162px,#484ef0 176px,#4266fc 187px,#2f82f9 195px,#249ee6 205px,#05b6cc 214px,#05b9c5 215px,#1dc0b3 217px,#39c896 222px,#67cd6c 228px,#8eca4f 235px,#a1c840 242px,#a7c73d 262px,#9cc943 276px,#4eca82 309px,#37c897 319px,#19bfb6 345px,#01b8c9 365px,#05b9c6 443px,#18beb7 525px)"></div><div style="background:linear-gradient(90deg,#0fb2d4 0px,#11b1d5 80px,#09b5d0 83px,#02b9c8 84px,#1bbfb5 85px,#2dc5a3 86px,#46ca8a 87px,#6ecc67 88px,#9ec942 89px,#bbc332 90px,#d9bf2d 91px,#f4bb3b 92px,#f8d42d 94px,#f8da29 96px,#f9ce31 100px,#f9bb3d 103px,#eebc38 104px,#ddbe2f 105px,#c4c22d 106px,#9bc944 108px,#38c896 111px,#26c3aa 112px,#06bac5 113px,#0eb2d3 114px,#22a2e4 116px,#3578fb 120px,#4168fc 121px,#484df0 124px,#4539d8 129px,#4434cf 134px,#4744e6 151px,#4749ec 173px,#4560fb 187px,#2f82f9 197px,#259de7 206px,#0bb4d1 214px,#03b9c7 216px,#23c2ad 219px,#40c98f 224px,#72cc64 231px,#93ca4b 238px,#a3c840 246px,#a4c83f 266px,#96c948 277px,#5acc78 301px,#48ca88 310px,#35c799 318px,#1abfb5 342px,#01b8c9 360px,#05b6cd 404px,#03b9c7 484px,#0bbbc1 525px)"></div><div style="background:linear-gradient(90deg,#10b2d5 0px,#10b2d5 82px,#0ab4d0 84px,#01b8c9 85px,#1bbfb5 86px,#2dc5a2 87px,#47ca88 88px,#99c946 90px,#cac12a 92px,#debe30 93px,#f9bc3c 96px,#f9c437 99px,#f8ba3d 103px,#f0bb39 104px,#d1c029 106px,#a3c83f 109px,#59cb79 112px,#40c98f 113px,#24c2ad 115px,#1fc0b2 116px,#01b8c8 118px,#22a1e4 123px,#307efb 130px,#465efa 134px,#463ddd 141px,#43c 147px,#4536d4 154px,#484cf0 177px,#4365fc 191px,#2f81f9 199px,#259de7 208px,#0ab4d1 216px,#05b9c6 218px,#1dc0b4 220px,#40c98f 226px,#70cc66 233px,#92ca4b 241px,#a1c840 250px,#9fc842 267px,#84cb56 281px,#56cb7b 298px,#4aca86 308px,#34c79a 317px,#1bbfb5 340px,#01b8c9 358px,#07b5ce 399px,#02b9c8 525px)"></div><div style="background:linear-gradient(90deg,#10b2d5 0px,#11b2d5 83px,#0ab4d1 85px,#02b8ca 86px,#28c3a8 88px,#37c897 89px,#73cc63 91px,#90ca4d 92px,#a2c840 93px,#cac129 97px,#e2bd32 100px,#e8bc35 103px,#e3bd33 104px,#c8c12b 106px,#a1c841 109px,#5bcc77 112px,#32c69d 114px,#1dc0b3 119px,#07bac4 121px,#02b7ca 122px,#1ba8de 132px,#2e86f6 141px,#3775fc 144px,#455ffb 147px,#463bda 155px,#4333cb 161px,#4536d4 168px,#4659f7 190px,#4267fc 195px,#2f81f9 202px,#269ae9 210px,#0db3d2 218px,#02b8ca 220px,#21c1b0 223px,#40c98f 229px,#6ccc69 236px,#8bca51 244px,#99c946 254px,#94ca4a 267px,#79cc5f 280px,#4bca85 297px,#44c98b 308px,#33c79c 316px,#1bbfb5 338px,#01b8c9 356px,#08b5cf 399px,#03b7cb 525px)"></div><div style="background:linear-gradient(90deg,#11b2d5 0px,#11b1d6 84px,#08b5cf 87px,#03b9c7 88px,#26c3aa 90px,#42c98d 93px,#80cb59 97px,#a3c840 99px,#c6c12c 103px,#a8c73d 107px,#9dc943 108px,#4eca83 112px,#37c897 113px,#2dc5a2 114px,#25c2ab 118px,#17beb8 120px,#04b9c6 123px,#04b7cb 128px,#18abdb 142px,#2b91ef 151px,#317dfb 156px,#4561fb 160px,#4641e2 167px,#4434cf 174px,#4435d2 180px,#474ef1 194px,#4168fc 202px,#2f83f8 208px,#23a1e4 216px,#02b8ca 224px,#20c1b1 227px,#3dc992 233px,#60cc73 239px,#7ecb5b 248px,#88ca53 258px,#7dcb5b 270px,#52cb7f 287px,#3ac894 296px,#3dc992 307px,#23c2ae 328px,#01b8c9 353px,#09b5cf 392px,#05b6cc 525px)"></div><div style="background:linear-gradient(90deg,#11b1d6 0px,#11b1d6 86px,#03b7cb 91px,#04b9c6 92px,#22c1af 95px,#35c79a 98px,#51cb80 100px,#79cc5f 102px,#7ecb5b 103px,#6acd6a 107px,#4dca83 110px,#2bc4a5 113px,#24c2ad 117px,#01b8c8 122px,#0cb3d2 144px,#1aa9dd 155px,#2e89f4 166px,#307efb 169px,#465ffa 174px,#463fe0 182px,#4435d2 190px,#4641e2 200px,#4561fc 210px,#2f83f8 216px,#22a1e4 223px,#0bb4d1 229px,#03b9c7 231px,#22c1ae 234px,#41c98e 241px,#5bcc77 247px,#6ccc69 257px,#65cd6e 268px,#47ca89 282px,#33c79c 291px,#2fc5a1 300px,#31c69e 308px,#10bcbd 334px,#01b8ca 347px,#0ab4d0 378px,#07b5ce 525px)"></div><div style="background:linear-gradient(90deg,#12b1d6 0px,#12b1d6 89px,#07b5ce 97px,#02b7ca 98px,#07bac4 99px,#24c2ad 101px,#29c4a6 103px,#25c2ab 109px,#1ec0b2 111px,#11bdbc 113px,#13bdbb 115px,#01b8c9 118px,#0ab4d0 121px,#06b6cd 141px,#16adda 164px,#2897eb 175px,#327cfb 183px,#465ffa 188px,#463fe0 197px,#4537d6 204px,#463ede 211px,#4659f7 219px,#4069fc 222px,#2f82f9 226px,#259de7 232px,#0eb3d3 238px,#03b9c7 241px,#20c1b1 244px,#3dc991 254px,#48ca88 262px,#3cc993 273px,#22c1af 294px,#26c2aa 308px,#15beba 317px,#01b8c9 327px,#0db3d2 373px,#0ab4d0 525px)"></div><div style="background:linear-gradient(90deg,#14afd8 0px,#14afd8 96px,#0cb4d1 105px,#10b2d5 118px,#10b2d5 127px,#07b5ce 148px,#15aed9 175px,#2798ea 188px,#317dfb 197px,#4561fc 202px,#4642e3 211px,#4539d8 218px,#4642e3 225px,#4562fc 233px,#2f82f9 238px,#23a0e5 245px,#0db3d2 252px,#02b8ca 255px,#20c1b1 261px,#26c2ab 270px,#1cbfb4 279px,#01b8c9 291px,#02b9c8 299px,#10bcbe 306px,#01b8c9 313px,#0eb3d3 328px,#0cb3d2 525px)"></div><div style="background:linear-gradient(90deg,#16adda 0px,#16aed9 129px,#09b5cf 154px,#13b0d7 184px,#249ee6 200px,#327cfb 212px,#4561fc 217px,#4641e2 227px,#463cdc 234px,#484bef 241px,#4266fc 247px,#3080fb 251px,#23a0e5 260px,#10b2d4 269px,#0db3d3 282px,#10b2d5 299px,#0db3d2 310px,#17acdb 334px,#10b2d4 525px)"></div><div style="background:linear-gradient(90deg,#18abdc 0px,#19abdc 134px,#0ab4d0 164px,#16adda 204px,#269ae9 217px,#317dfb 227px,#4561fc 232px,#4743e4 241px,#463ede 247px,#474aed 254px,#4562fc 260px,#2f80fa 265px,#23a0e5 277px,#1da6e0 293px,#1aa9dd 314px,#20a4e2 336px,#16adda 448px,#13b0d7 525px)"></div><div style="background:linear-gradient(90deg,#1aa9dd 0px,#1aa9dd 142px,#0bb4d1 172px,#12b1d6 215px,#23a0e5 230px,#327bfb 242px,#455ffb 247px,#4745e7 255px,#4642e3 261px,#4755f5 269px,#4069fc 274px,#2f81fa 279px,#2897eb 292px,#249ee6 312px,#259de7 348px,#1ba8de 411px,#17acdb 525px)"></div><div style="background:linear-gradient(90deg,#1da7df 0px,#1ca7df 151px,#0cb4d1 180px,#0eb3d3 222px,#18abdb 238px,#2896eb 248px,#327bfb 256px,#455ffb 262px,#484df0 270px,#4750f2 278px,#4267fc 286px,#2f80fa 293px,#2c90f0 311px,#259de7 371px,#1ea5e1 429px,#1ba8de 525px)"></div><div style="background:linear-gradient(90deg,#1fa5e1 0px,#1ea6e0 159px,#0cb3d2 189px,#0cb4d2 223px,#16aed9 249px,#2994ed 263px,#327bfb 272px,#455ffb 279px,#4754f4 287px,#4561fc 297px,#2f80fa 311px,#2b91ef 341px,#269be8 382px,#1fa4e2 515px,#1fa5e1 525px)"></div><div style="background:linear-gradient(90deg,#21a3e3 0px,#1fa4e2 168px,#0db3d2 200px,#10b2d5 249px,#1ea5e1 269px,#2f81f9 286px,#3f6bfc 293px,#4267fc 306px,#2f82f9 330px,#2c8ff0 353px,#259de7 428px,#23a1e4 525px)"></div><div style="background:linear-gradient(90deg,#21a2e3 0px,#20a4e2 177px,#0eb3d3 213px,#17acda 270px,#269be8 289px,#2f82f9 313px,#307ffb 332px,#2897eb 393px,#259de7 525px)"></div><div style="background:linear-gradient(90deg,#22a2e3 0px,#20a4e2 187px,#11b1d5 229px,#1da6e0 289px,#2d8cf3 342px,#2898eb 398px,#269ae9 525px)"></div><div style="background:linear-gradient(90deg,#22a2e4 0px,#20a3e2 199px,#15aed9 245px,#269be9 362px,#2799ea 525px)"></div><div style="background:linear-gradient(90deg,#22a2e4 0px,#20a3e2 217px,#1ba8de 273px,#249fe6 381px,#269ae9 525px)"></div><div style="background:linear-gradient(90deg,#22a2e4 0px,#20a3e3 252px,#259ce8 525px)"></div><div style="background:linear-gradient(90deg,#22a1e4 0px,#259de7 232px,#249fe6 435px,#259de7 525px)"></div><div style="background:linear-gradient(90deg,#22a1e4 0px,#259ce7 224px,#2799e9 287px,#249fe6 397px,#259de7 525px)"></div><div style="background:linear-gradient(90deg,#22a1e4 0px,#259ce8 224px,#2a94ed 294px,#249ee6 388px,#249ee6 525px)"></div><div style="background:linear-gradient(90deg,#23a1e4 0px,#269be8 226px,#2c8ff1 304px,#259de7 397px,#249ee6 525px)"></div><div style="background:linear-gradient(90deg,#23a1e4 0px,#269be9 229px,#2d8cf3 311px,#259ce8 419px,#249ee6 525px)"></div><div style="background:linear-gradient(90deg,#23a1e5 0px,#279ae9 235px,#2d8af4 316px,#269be8 451px,#249ee6 525px)"></div><div style="background:linear-gradient(90deg,#23a0e5 0px,#2799ea 242px,#2e89f5 321px,#269be8 496px,#259de7 525px)"></div><div style="background:linear-gradient(90deg,#23a0e5 0px,#2897eb 251px,#2e88f5 328px,#269be9 525px)"></div><div style="background:linear-gradient(90deg,#23a0e5 0px,#2896eb 261px,#2e88f5 340px,#2898eb 525px)"></div><div style="background:linear-gradient(90deg,#23a0e5 0px,#2995ec 273px,#2e88f5 357px,#2995ed 525px)"></div><div style="background:linear-gradient(90deg,#23a0e5 0px,#2a94ed 285px,#2e87f5 374px,#2b92ef 525px)"></div><div style="background:linear-gradient(90deg,#23a0e5 0px,#2a93ee 298px,#2e87f6 392px,#2c8ff1 525px)"></div><div style="background:linear-gradient(90deg,#239fe5 0px,#2b91ef 312px,#2e87f6 409px,#2d8df2 525px)"></div><div style="background:linear-gradient(90deg,#249fe6 0px,#2c90f0 326px,#2e87f6 429px,#2d8bf3 525px)"></div><div style="background:linear-gradient(90deg,#249fe6 0px,#2c8ff1 342px,#2e86f6 452px,#2e89f4 525px)"></div><div style="background:linear-gradient(90deg,#249fe6 0px,#2d8ef1 355px,#2e86f6 470px,#2e88f5 525px)"></div><div style="background:linear-gradient(90deg,#249fe6 0px,#2c8ff1 366px,#2e86f6 488px,#2e88f5 525px)"></div><div style="background:linear-gradient(90deg,#249ee6 0px,#2c8ff1 377px,#2e87f6 506px,#2e87f6 525px)"></div><div style="background:linear-gradient(90deg,#249ee6 0px,#2c8ff0 388px,#2e87f6 523px,#2e87f6 525px)"></div><div style="background:linear-gradient(90deg,#249ee6 0px,#2c90f0 400px,#2e86f6 525px)"></div><div style="background:linear-gradient(90deg,#249ee6 0px,#2c90f0 413px,#2e87f6 525px)"></div><div style="background:linear-gradient(90deg,#249ee7 0px,#2c90f0 428px,#2e87f6 525px)"></div><div style="background:linear-gradient(90deg,#249ee7 0px,#2b91ef 443px,#2e88f5 525px)"></div><div style="background:linear-gradient(90deg,#259de7 0px,#2b91ef 458px,#2d8af4 525px)"></div><div style="background:linear-gradient(90deg,#259de7 0px,#2b92ef 473px,#2d8cf2 525px)"></div><div style="background:linear-gradient(90deg,#259de7 0px,#2a93ee 487px,#2d8ef1 525px)"></div><div style="background:linear-gradient(90deg,#259de7 0px,#2a93ed 501px,#2b91ef 525px)"></div><div style="background:linear-gradient(90deg,#259ce7 0px,#2994ed 515px,#2a93ee 525px)"></div><div style="background:linear-gradient(90deg,#269be8 0px,#2996ec 525px)"></div><div style="background:linear-gradient(90deg,#269ae9 0px,#2898eb 525px)"></div><div style="background:linear-gradient(90deg,#2799ea 0px,#2799e9 525px)"></div><div style="background:linear-gradient(90deg,#2898eb 0px,#269be8 525px)"></div><div style="background:linear-gradient(90deg,#2897eb 0px,#259ce8 525px)"></div><div style="background:linear-gradient(90deg,#2995ec 0px,#259ce8 525px)"></div><div style="background:linear-gradient(90deg,#2994ed 0px,#259ce8 525px)"></div><div style="background:linear-gradient(90deg,#2a93ee 0px,#259ce8 525px)"></div><div style="background:linear-gradient(90deg,#2b92ee 0px,#269be8 525px)"></div><div style="background:linear-gradient(90deg,#2b91ef 0px,#269be8 525px)"></div><div style="background:linear-gradient(90deg,#2c90f0 0px,#269be8 525px)"></div><div style="background:linear-gradient(90deg,#2c8ff1 0px,#269be9 525px)"></div><div style="background:linear-gradient(90deg,#2d8ef1 0px,#269ae9 525px)"></div><div style="background:linear-gradient(90deg,#2d8cf2 0px,#269ae9 525px)"></div><div style="background:linear-gradient(90deg,#2d8cf3 0px,#279ae9 525px)"></div><div style="background:linear-gradient(90deg,#2d8bf3 0px,#2799e9 525px)"></div><div style="background:linear-gradient(90deg,#2d8af4 0px,#2799ea 525px)"></div><div style="background:linear-gradient(90deg,#2e89f4 0px,#2799ea 525px)"></div><div style="background:linear-gradient(90deg,#2e88f5 0px,#2799ea 525px)"></div><div style="background:linear-gradient(90deg,#2e88f5 0px,#2798ea 525px)"></div><div style="background:linear-gradient(90deg,#2e87f6 0px,#2798ea 525px)"></div><div style="background:linear-gradient(90deg,#2e86f6 0px,#2898eb 525px)"></div><div style="background:linear-gradient(90deg,#2e85f7 0px,#2897eb 525px)"></div><div style="background:linear-gradient(90deg,#2e85f7 0px,#2897eb 525px)"></div><div style="background:linear-gradient(90deg,#2f84f8 0px,#2897eb 525px)"></div><div style="background:linear-gradient(90deg,#2f84f8 0px,#2995ec 525px)"></div><div style="background:linear-gradient(90deg,#2f84f8 0px,#2994ed 525px)"></div><div style="background:linear-gradient(90deg,#2f84f8 0px,#2a93ee 525px)"></div><div style="background:linear-gradient(90deg,#2f84f8 0px,#2b92ee 525px)"></div><div style="background:linear-gradient(90deg,#2f83f8 0px,#2b91ef 525px)"></div><div style="background:linear-gradient(90deg,#2f83f8 0px,#2c90f0 525px)"></div><div style="background:linear-gradient(90deg,#2f83f8 0px,#2c8ff1 525px)"></div><div style="background:linear-gradient(90deg,#2f83f8 0px,#2d8ef1 525px)"></div><div style="background:linear-gradient(90deg,#2f83f8 0px,#2d8cf2 525px)"></div><div style="background:linear-gradient(90deg,#2f83f8 0px,#2d8bf3 525px)"></div><div style="background:linear-gradient(90deg,#2f83f8 0px,#2d8af3 525px)"></div><div style="background:linear-gradient(90deg,#2f83f8 0px,#2e89f4 525px)"></div><div style="background:linear-gradient(90deg,#2f83f9 0px,#2e88f5 525px)"></div><div style="background:linear-gradient(90deg,#2f83f9 0px,#2e87f5 525px)"></div><div style="background:linear-gradient(90deg,#2f82f9 0px,#2e87f6 525px)"></div><div style="background:linear-gradient(90deg,#2f82f9 0px,#2e86f6 525px)"></div><div style="background:linear-gradient(90deg,#2f82f9 0px,#2e86f6 525px)"></div><div style="background:linear-gradient(90deg,#2f82f9 0px,#2e86f6 525px)"></div><div style="background:linear-gradient(90deg,#2f82f9 0px,#2e86f7 525px)"></div><div style="background:linear-gradient(90deg,#2f82f9 0px,#2e85f7 525px)"></div><div style="background:linear-gradient(90deg,#2f82f9 0px,#2e85f7 525px)"></div><div style="background:linear-gradient(90deg,#2f82f9 0px,#2e85f7 525px)"></div><div style="background:linear-gradient(90deg,#2f82f9 0px,#2e85f7 525px)"></div><div style="background:linear-gradient(90deg,#2f82f9 0px,#2f84f7 525px)"></div><div style="background:linear-gradient(90deg,#2f81f9 0px,#2f84f8 525px)"></div><div style="background:linear-gradient(90deg,#2f81f9 0px,#2f84f8 525px)"></div><div style="background:linear-gradient(90deg,#2f81f9 0px,#2f84f8 525px)"></div><div style="background:linear-gradient(90deg,#2f81f9 0px,#2f84f8 525px)"></div></div></div>
<div class="hm" style="left:88px;top:1587px;width:509px;height:393px"><div class="hb" style="left:-8px;top:-8px;width:526px;filter:blur(1.2px)"><div style="background:linear-gradient(90deg,#4332c8 0px,#4332c8 525px)"></div><div style="background:linear-gradient(90deg,#4332c8 0px,#4332c8 525px)"></div><div style="background:linear-gradient(90deg,#4332c8 0px,#4332c8 525px)"></div><div style="background:linear-gradient(90deg,#4332c8 0px,#4332c8 525px)"></div><div style="background:linear-gradient(90deg,#4332c8 0px,#4332c8 525px)"></div><div style="background:linear-gradient(90deg,#4332c8 0px,#4332c8 525px)"></div><div style="background:linear-gradient(90deg,#4332c8 0px,#4332c9 525px)"></div><div style="background:linear-gradient(90deg,#4332c9 0px,#4332c9 525px)"></div><div style="background:linear-gradient(90deg,#4332c9 0px,#4332c9 525px)"></div><div style="background:linear-gradient(90deg,#4332c9 0px,#4332c9 525px)"></div><div style="background:linear-gradient(90deg,#4332c9 0px,#4332c9 525px)"></div><div style="background:linear-gradient(90deg,#4332c9 0px,#4332c9 525px)"></div><div style="background:linear-gradient(90deg,#4332c9 0px,#4332c9 525px)"></div><div style="background:linear-gradient(90deg,#4332c9 0px,#4332c9 525px)"></div><div style="background:linear-gradient(90deg,#4332c9 0px,#4332c9 525px)"></div><div style="background:linear-gradient(90deg,#4332c9 0px,#4332ca 525px)"></div><div style="background:linear-gradient(90deg,#4332c9 0px,#4332ca 525px)"></div><div style="background:linear-gradient(90deg,#4332c9 0px,#4333ca 525px)"></div><div style="background:linear-gradient(90deg,#4332c9 0px,#4333ca 525px)"></div><div style="background:linear-gradient(90deg,#4332ca 0px,#4333ca 525px)"></div><div style="background:linear-gradient(90deg,#4332ca 0px,#4333ca 525px)"></div><div style="background:linear-gradient(90deg,#4332ca 0px,#4333ca 525px)"></div><div style="background:linear-gradient(90deg,#4332ca 0px,#4333ca 525px)"></div><div style="background:linear-gradient(90deg,#4333ca 0px,#4333cb 525px)"></div><div style="background:linear-gradient(90deg,#4333ca 0px,#4333cb 525px)"></div><div style="background:linear-gradient(90deg,#4333ca 0px,#4333cb 525px)"></div><div style="background:linear-gradient(90deg,#4333ca 0px,#4333cb 525px)"></div><div style="background:linear-gradient(90deg,#4333ca 0px,#4333cb 525px)"></div><div style="background:linear-gradient(90deg,#4333ca 0px,#4333cb 525px)"></div><div style="background:linear-gradient(90deg,#4333ca 0px,#4333cb 525px)"></div><div style="background:linear-gradient(90deg,#4333ca 0px,#4333cb 525px)"></div><div style="background:linear-gradient(90deg,#4333ca 0px,#4333cb 525px)"></div><div style="background:linear-gradient(90deg,#4333cb 0px,#4332c9 525px)"></div><div style="background:linear-gradient(90deg,#4333cb 0px,#4332c9 518px,#4331c7 525px)"></div><div style="background:linear-gradient(90deg,#4333cb 0px,#4332c9 508px,#4230c4 525px)"></div><div style="background:linear-gradient(90deg,#4333cb 0px,#4332c9 498px,#4230c2 525px)"></div><div style="background:linear-gradient(90deg,#4333cb 0px,#4333ca 487px,#4230c4 523px,#4230c4 525px)"></div><div style="background:linear-gradient(90deg,#4333cb 0px,#4333cc 476px,#4230c4 512px,#4332c9 525px)"></div><div style="background:linear-gradient(90deg,#4333cb 0px,#4434cd 465px,#4230c4 501px,#4434ce 525px)"></div><div style="background:linear-gradient(90deg,#4333cb 0px,#4434ce 454px,#4231c5 491px,#4435d2 525px)"></div><div style="background:linear-gradient(90deg,#4333cb 0px,#4434cf 444px,#4231c5 480px,#4537d6 525px)"></div><div style="background:linear-gradient(90deg,#4333cb 0px,#4435d0 432px,#4231c5 470px,#4539d8 522px,#453ad9 525px)"></div><div style="background:linear-gradient(90deg,#4333cb 0px,#4435d1 420px,#4231c5 460px,#4539d8 508px,#463cdb 525px)"></div><div style="background:linear-gradient(90deg,#4333cb 0px,#4435d2 408px,#4231c6 449px,#4539d8 495px,#463ddd 525px)"></div><div style="background:linear-gradient(90deg,#4333cb 0px,#4536d3 397px,#4331c6 438px,#453ad9 484px,#463ede 525px)"></div><div style="background:linear-gradient(90deg,#4333cc 0px,#4536d3 386px,#4331c6 426px,#453bda 475px,#463ede 525px)"></div><div style="background:linear-gradient(90deg,#4333cc 0px,#4536d4 375px,#4331c6 415px,#463bdb 464px,#463edf 525px)"></div><div style="background:linear-gradient(90deg,#4333cc 0px,#4536d4 365px,#4331c6 403px,#463cdb 453px,#463fdf 525px)"></div><div style="background:linear-gradient(90deg,#4333cc 0px,#4536d4 354px,#4331c7 392px,#463cdc 442px,#463fe0 525px)"></div><div style="background:linear-gradient(90deg,#43c 0px,#4536d5 344px,#4331c7 380px,#463cdc 431px,#4640e0 511px,#4640e0 525px)"></div><div style="background:linear-gradient(90deg,#43c 0px,#4537d5 333px,#4331c7 368px,#463ddd 421px,#4640e1 500px,#4640e0 525px)"></div><div style="background:linear-gradient(90deg,#4434ce 0px,#4537d6 323px,#4332c7 357px,#463ddd 408px,#4641e2 477px,#4640e1 525px)"></div><div style="background:linear-gradient(90deg,#4435d0 0px,#4538d6 312px,#4332c8 346px,#463ddd 395px,#4642e3 459px,#4641e1 525px)"></div><div style="background:linear-gradient(90deg,#4536d2 0px,#4538d7 302px,#4332c8 335px,#463ddd 382px,#4743e4 444px,#4641e2 525px)"></div><div style="background:linear-gradient(90deg,#4536d4 0px,#4539d8 291px,#4332c8 323px,#463ddd 370px,#4743e5 433px,#4641e2 525px)"></div><div style="background:linear-gradient(90deg,#4537d5 0px,#4539d8 280px,#4332c9 312px,#463ede 359px,#4744e6 429px,#4642e3 525px)"></div><div style="background:linear-gradient(90deg,#4538d7 0px,#453ad9 269px,#4332c9 301px,#463ddd 344px,#4745e7 415px,#4642e3 525px)"></div><div style="background:linear-gradient(90deg,#4539d8 0px,#453bda 258px,#4332ca 290px,#463ddd 330px,#4744e6 369px,#4642e4 525px)"></div><div style="background:linear-gradient(90deg,#453ad9 0px,#463cdb 250px,#4333ca 277px,#463ede 319px,#4748ea 364px,#4743e4 525px)"></div><div style="background:linear-gradient(90deg,#463cdb 0px,#463ddc 242px,#4333ca 265px,#463fe0 308px,#4747e9 340px,#484bee 360px,#4748ea 395px,#4743e4 525px)"></div><div style="background:linear-gradient(90deg,#463ddd 0px,#463ddd 235px,#4333cb 256px,#4640e0 294px,#4748ea 331px,#474ef1 350px,#4749eb 389px,#4744e5 525px)"></div><div style="background:linear-gradient(90deg,#463ede 0px,#463fdf 227px,#43c 248px,#4640e1 277px,#484bee 326px,#4751f3 346px,#474aed 385px,#4745e7 525px)"></div><div style="background:linear-gradient(90deg,#4640e0 0px,#4640e1 220px,#4434ce 241px,#4641e2 265px,#4751f2 324px,#4753f4 346px,#484bee 383px,#4746e8 525px)"></div><div style="background:linear-gradient(90deg,#4641e2 0px,#4641e2 212px,#4434cf 233px,#4744e5 258px,#4751f3 305px,#4657f6 338px,#484cef 382px,#4748eb 525px)"></div><div style="background:linear-gradient(90deg,#4642e4 0px,#4642e4 205px,#4435d0 225px,#4745e7 250px,#4754f4 291px,#465cf9 318px,#484df0 384px,#474aed 520px,#474aed 525px)"></div><div style="background:linear-gradient(90deg,#4744e5 0px,#4744e6 197px,#4435d1 217px,#4747ea 243px,#4757f6 278px,#4562fc 304px,#484ef1 383px,#484cef 505px,#484cef 525px)"></div><div style="background:linear-gradient(90deg,#4745e7 0px,#4745e7 190px,#4536d2 209px,#474aec 235px,#465bf8 267px,#4069fc 292px,#4756f5 356px,#474ff1 385px,#484ef1 502px,#484ef1 525px)"></div><div style="background:linear-gradient(90deg,#4746e8 0px,#4746e9 182px,#4536d4 201px,#484df0 227px,#4366fc 262px,#3b70fc 282px,#465bf8 346px,#4750f2 381px,#4750f2 525px)"></div><div style="background:linear-gradient(90deg,#4747ea 0px,#4747ea 175px,#4537d6 193px,#474ff1 216px,#4168fc 246px,#3677fb 267px,#4267fc 319px,#4751f3 380px,#4752f3 525px)"></div><div style="background:linear-gradient(90deg,#4748eb 0px,#4749ec 167px,#4539d8 185px,#4747e9 197px,#4755f5 209px,#4168fc 228px,#317dfb 253px,#3776fb 290px,#465df9 350px,#4753f3 380px,#4754f4 525px)"></div><div style="background:linear-gradient(90deg,#474aec 0px,#484bee 164px,#463ddd 172px,#463ddc 180px,#4752f3 193px,#4069fc 211px,#3080fb 235px,#307ffb 273px,#465df9 353px,#4754f4 379px,#4756f5 525px)"></div><div style="background:linear-gradient(90deg,#484bee 0px,#484df0 164px,#463ddd 168px,#4746e8 176px,#465efa 187px,#307ffb 213px,#2f84f8 258px,#3677fb 303px,#465efa 358px,#4657f6 378px,#4658f6 525px)"></div><div style="background:linear-gradient(90deg,#484df0 0px,#4753f4 155px,#4755f5 164px,#484cef 168px,#4167fc 179px,#327cfb 190px,#2e87f6 219px,#2f81f9 283px,#465efa 363px,#465af8 384px,#4659f7 525px)"></div><div style="background:linear-gradient(90deg,#4750f2 0px,#4755f5 143px,#4168fc 167px,#2f81fa 179px,#2d89f4 207px,#2e85f7 275px,#3578fb 312px,#465dfa 369px,#465bf8 525px)"></div><div style="background:linear-gradient(90deg,#4752f3 0px,#4756f5 131px,#4167fc 151px,#2f81fa 166px,#2d8cf3 189px,#2e89f4 269px,#3677fb 331px,#4560fb 375px,#465efa 525px)"></div><div style="background:linear-gradient(90deg,#4754f4 0px,#4659f7 126px,#406afc 139px,#2f83f9 154px,#2d8ef1 178px,#2d8df2 265px,#3479fb 339px,#4464fc 374px,#4563fc 525px)"></div><div style="background:linear-gradient(90deg,#4657f6 0px,#465bf8 121px,#4266fc 128px,#337afb 135px,#2d8df1 155px,#2a94ed 251px,#337afb 347px,#4168fc 374px,#4168fc 525px)"></div><div style="background:linear-gradient(90deg,#4659f7 0px,#465efa 116px,#4069fc 123px,#2f82f9 130px,#2c90f0 144px,#2799ea 204px,#269be8 240px,#327cfb 354px,#3e6cfc 373px,#3d6efc 525px)"></div><div style="background:linear-gradient(90deg,#465cf8 0px,#4560fb 113px,#2f84f8 125px,#2a93ee 134px,#23a0e5 187px,#1ea5e1 222px,#2d8cf2 318px,#317dfb 360px,#3b70fc 372px,#3775fc 493px,#3873fc 525px)"></div><div style="background:linear-gradient(90deg,#465efa 0px,#4562fc 110px,#3874fc 115px,#2f81fa 118px,#2897eb 129px,#1ca7df 174px,#13b0d8 195px,#269ae9 295px,#2f81f9 359px,#3874fc 373px,#327bfb 471px,#3479fb 525px)"></div><div style="background:linear-gradient(90deg,#4560fb 0px,#4365fc 107px,#3775fb 112px,#2d8bf3 116px,#259ce8 126px,#0fb2d4 172px,#0db3d2 189px,#17adda 246px,#2a93ee 336px,#337bfb 368px,#3479fb 384px,#2f80fa 467px,#307efb 525px)"></div><div style="background:linear-gradient(90deg,#4464fc 0px,#4168fc 104px,#3677fb 109px,#2799ea 116px,#15aed9 136px,#07b6ce 170px,#10b2d5 239px,#12b1d7 263px,#23a0e5 316px,#2c90ef 348px,#317dfb 373px,#2f84f8 472px,#2f82f9 525px)"></div><div style="background:linear-gradient(90deg,#4267fc 0px,#3f6bfc 102px,#2f82f9 108px,#23a1e5 115px,#0ab4d0 133px,#02b8c8 149px,#0bb4d1 226px,#0fb2d4 261px,#1ea6e0 314px,#259de7 338px,#2f81fa 373px,#2e87f6 473px,#2e85f7 525px)"></div><div style="background:linear-gradient(90deg,#3f6bfc 0px,#3b70fc 101px,#2e87f6 106px,#21a2e3 112px,#13b0d7 119px,#02b7ca 128px,#0ebcbf 133px,#02b8ca 171px,#0fb2d4 265px,#1ba8de 330px,#2e88f5 365px,#2e85f7 379px,#2d8af3 471px,#2d8af4 525px)"></div><div style="background:linear-gradient(90deg,#3c6efc 0px,#3973fc 99px,#2f83f8 103px,#23a1e4 108px,#0cb3d2 116px,#02b8c8 122px,#10bcbe 127px,#11bdbc 137px,#02b8ca 183px,#12b1d6 311px,#16aed9 327px,#2994ed 354px,#2e88f5 374px,#2c8ef1 472px,#2c8ff1 525px)"></div><div style="background:linear-gradient(90deg,#3972fc 0px,#3677fb 98px,#2e88f5 102px,#22a1e4 105px,#0db3d2 112px,#02b7ca 115px,#12bdbc 121px,#18beb7 131px,#01b8c9 198px,#14afd8 326px,#2897eb 354px,#2d8bf3 374px,#2a93ee 471px,#2a94ed 525px)"></div><div style="background:linear-gradient(90deg,#3776fb 0px,#337afb 97px,#2d8ef1 101px,#1ba8de 104px,#0eb3d3 108px,#02b9c8 112px,#19bfb7 116px,#21c1b1 126px,#15beb9 157px,#0cbbc0 180px,#01b8c9 209px,#13b0d7 326px,#2898eb 357px,#2c8ef1 374px,#2798ea 465px,#2799ea 525px)"></div><div style="background:linear-gradient(90deg,#3479fb 0px,#317dfb 96px,#2d8cf3 99px,#16adda 103px,#01b8c9 108px,#1fc0b2 113px,#26c3aa 119px,#24c2ad 143px,#1fc0b2 171px,#0bbbc1 188px,#02b8ca 232px,#0db3d2 295px,#13b0d7 327px,#2898eb 361px,#2b92ee 376px,#259de7 462px,#249ee6 525px)"></div><div style="background:linear-gradient(90deg,#317dfb 0px,#307ffb 95px,#2e86f6 97px,#1ea6e0 100px,#0bb4d1 103px,#03b7cb 104px,#21c1af 109px,#2dc5a2 117px,#2fc5a1 154px,#1bbfb5 196px,#02b8ca 242px,#0bb4d1 278px,#12b1d7 327px,#2798ea 365px,#2898eb 386px,#21a2e3 460px,#20a3e2 525px)"></div><div style="background:linear-gradient(90deg,#2f80fa 0px,#2f83f8 95px,#2e87f6 96px,#2a94ed 97px,#1fa4e2 98px,#0bb4d1 101px,#03b7cb 102px,#23c1ae 105px,#34c79b 113px,#4aca86 134px,#27c3a9 196px,#19bfb6 221px,#01b8ca 246px,#0ab4d0 275px,#12b1d6 327px,#2799ea 370px,#1da7df 459px,#1ba8de 525px)"></div><div style="background:linear-gradient(90deg,#2f82f9 0px,#2e85f7 94px,#2e88f5 95px,#2995ed 96px,#11b1d6 98px,#02b8ca 100px,#1ec0b2 102px,#30c69f 105px,#55cb7d 117px,#69cd6a 133px,#48ca88 170px,#34c79a 187px,#1cbfb4 228px,#02b8ca 249px,#0bb4d1 290px,#11b1d6 328px,#259de7 373px,#18abdc 459px,#17acdb 525px)"></div><div style="background:linear-gradient(90deg,#2f84f8 0px,#2e86f6 93px,#2e89f4 94px,#2896ec 95px,#0fb2d4 97px,#02b8c8 98px,#22c1af 100px,#49ca87 106px,#70cc65 117px,#8cca50 133px,#5ecc75 170px,#34c79b 203px,#1cc0b4 233px,#01b8c9 250px,#0bb4d1 302px,#12b1d7 331px,#22a1e4 375px,#14afd8 457px,#15aed9 525px)"></div><div style="background:linear-gradient(90deg,#2e86f6 0px,#2e88f5 92px,#2d8af3 93px,#2898eb 94px,#1aa9dd 95px,#0cb3d2 96px,#0cbbc0 97px,#25c2ac 98px,#38c896 101px,#57cb7a 104px,#8cca50 116px,#a5c73f 130px,#a0c841 139px,#4fca82 187px,#34c79a 207px,#1cbfb4 236px,#01b8c9 253px,#12b1d6 332px,#1fa4e1 375px,#11b1d6 452px,#13b0d7 525px)"></div><div style="background:linear-gradient(90deg,#2e88f5 0px,#2e89f4 91px,#2d8bf3 92px,#2799ea 93px,#18abdb 94px,#09b5cf 95px,#2ac4a5 97px,#61cc72 102px,#7bcb5d 105px,#a4c83f 116px,#abc63b 133px,#95c949 149px,#52cb7f 188px,#34c79b 214px,#1bbfb5 248px,#0fbcbe 261px,#02b8ca 288px,#1aa9dd 364px,#19aadc 388px,#10b2d5 456px,#12b1d6 525px)"></div><div style="background:linear-gradient(90deg,#2d8af4 0px,#2d8bf3 90px,#2d8df2 91px,#269be8 92px,#15aed9 93px,#02b7ca 94px,#23c1ae 95px,#43c98c 97px,#58cb7a 98px,#93ca4b 104px,#a6c73e 110px,#b0c538 119px,#a9c73c 136px,#93ca4b 152px,#57cb7a 187px,#34c79b 227px,#1abfb6 274px,#01b8c9 304px,#18acdb 366px,#0eb2d4 462px,#10b2d5 525px)"></div><div style="background:linear-gradient(90deg,#2d8cf2 0px,#2d8ef1 90px,#249ee7 91px,#12b1d6 92px,#0cbbc0 93px,#2ac4a5 94px,#3bc893 95px,#6acd6a 97px,#7fcb5a 98px,#a2c840 102px,#b0c538 107px,#b9c433 118px,#9ec943 148px,#5dcc75 186px,#33c79b 251px,#0cbbc0 323px,#01b8ca 336px,#16adda 374px,#0db3d2 461px,#0eb2d3 525px)"></div><div style="background:linear-gradient(90deg,#2c8ef1 0px,#2c90f0 89px,#23a1e4 90px,#0db3d2 91px,#20c0b1 92px,#34c79b 93px,#6acd6a 95px,#97c947 97px,#a5c73e 98px,#c1c22f 105px,#c9c12a 116px,#a8c73d 141px,#8aca51 164px,#6bcd69 191px,#30c69f 282px,#1fc0b2 331px,#01b8c9 349px,#13b0d7 373px,#0bb4d1 466px,#0db3d2 525px)"></div><div style="background:linear-gradient(90deg,#2b91ef 0px,#2b91ef 88px,#1fa5e1 89px,#04b7cc 90px,#2cc4a4 91px,#6acd6a 93px,#a1c841 95px,#bfc330 98px,#d1c029 102px,#dfbe30 106px,#dfbe30 114px,#ccc028 122px,#b1c538 134px,#91ca4c 172px,#5ccc76 236px,#36c898 297px,#2ec5a1 328px,#1bbfb5 345px,#01b8c9 356px,#10b2d5 371px,#0ab4d0 475px,#0bb4d1 525px)"></div><div style="background:linear-gradient(90deg,#2a93ee 0px,#2994ed 86px,#2996ec 88px,#16beb9 89px,#3ec991 90px,#6acd6a 91px,#90ca4d 92px,#a8c73d 93px,#ccc028 96px,#e1bd31 98px,#f9ba3d 103px,#f9c03a 109px,#f5bb3c 115px,#cbc029 126px,#b7c434 133px,#9ac945 186px,#5fcc74 241px,#51cb7f 264px,#44c98b 313px,#41c98e 324px,#2fc5a1 336px,#1cc0b4 350px,#01b8ca 361px,#0cb3d2 372px,#07b5ce 472px,#09b5d0 525px)"></div><div style="background:linear-gradient(90deg,#2996ec 0px,#2897eb 84px,#259ce8 88px,#64cc6f 89px,#97c947 90px,#b0c538 91px,#cfc028 93px,#f5bb3c 96px,#f9cb33 100px,#f8d72b 106px,#f9cd32 116px,#f6bb3c 123px,#d5bf2b 133px,#c9c12a 148px,#99c946 201px,#5ccc76 250px,#50cb80 299px,#4dca84 324px,#34c79b 336px,#1abfb5 355px,#02b8ca 366px,#07b6ce 373px,#05b6cc 498px,#06b6cd 525px)"></div><div style="background:linear-gradient(90deg,#2798ea 0px,#2799ea 82px,#22a2e4 88px,#bac432 89px,#d1c029 90px,#f3bb3a 92px,#f9c03a 93px,#f8e025 98px,#f9eb1e 107px,#f8de26 118px,#f9bb3d 138px,#ccc028 168px,#a8c73c 197px,#8fca4e 217px,#5bcc77 255px,#51cb80 324px,#34c79a 338px,#1abfb5 360px,#04b9c7 371px,#03b7cb 525px)"></div><div style="background:linear-gradient(90deg,#279ae9 0px,#269ae9 81px,#1fa5e1 87px,#10b2d5 88px,#f9c239 89px,#f8d72b 91px,#f9eb1e 96px,#f9f518 108px,#f9e820 118px,#f9c835 134px,#f5bb3c 147px,#ccc029 175px,#96c948 219px,#5fcc73 255px,#53cb7e 324px,#35c79a 341px,#1bbfb5 366px,#12bdbb 372px,#05b9c6 475px,#02b9c8 525px)"></div><div style="background:linear-gradient(90deg,#2799ea 0px,#279ae9 80px,#1ea6e0 87px,#0fb2d4 88px,#f9e423 89px,#f9f21a 93px,#f9f916 108px,#f9ed1d 118px,#f9ca34 133px,#f7bb3c 149px,#cbc029 183px,#99c946 223px,#63cc70 255px,#55cb7d 325px,#34c79a 346px,#20c1b1 375px,#0bbbc1 451px,#08bac3 525px)"></div><div style="background:linear-gradient(90deg,#2798ea 0px,#269ae9 81px,#1ea5e1 87px,#19aadc 88px,#f6bb3c 89px,#f9e423 92px,#f9f21a 95px,#f9fa15 106px,#f9f11b 116px,#f9c934 133px,#f6bb3c 153px,#cac129 191px,#98c947 228px,#66cd6d 255px,#58cb7a 325px,#34c79a 353px,#27c3a9 376px,#12bdbc 500px,#0ebcbf 525px)"></div><div style="background:linear-gradient(90deg,#2898eb 0px,#2799ea 81px,#1ea5e1 88px,#4fca82 89px,#87ca54 90px,#b3c537 91px,#d4bf2b 92px,#f2bb3a 93px,#f9c636 94px,#f9e423 97px,#f9f11b 101px,#f9f31a 111px,#f8d52c 125px,#f9c437 134px,#f6bb3c 157px,#d8bf2d 191px,#cbc029 200px,#9ac945 231px,#6bcd69 255px,#63cc6f 325px,#32c69c 366px,#19bfb7 510px,#14bdba 525px)"></div><div style="background:linear-gradient(90deg,#2897eb 0px,#2799ea 83px,#23a0e5 88px,#14b0d8 89px,#0ab4d0 90px,#15beb9 91px,#31c69e 92px,#5acb78 93px,#88ca53 94px,#adc63a 95px,#c6c12b 96px,#e0be31 97px,#f7bb3d 98px,#f8d22e 100px,#f9e721 106px,#f9e721 112px,#f9c03a 134px,#f5bb3c 169px,#e3bd32 194px,#cac129 213px,#9bc944 242px,#77cc60 254px,#80cb59 285px,#83cb57 302px,#88ca53 325px,#54cb7d 360px,#3fc990 372px,#1bbfb5 525px)"></div><div style="background:linear-gradient(90deg,#2995ed 0px,#2897eb 85px,#249ee6 89px,#1aaadd 92px,#0bb4d1 94px,#0abbc2 95px,#28c3a8 96px,#3fc990 97px,#66cd6d 98px,#93ca4b 99px,#b1c538 100px,#cec028 102px,#f2bb3a 105px,#f9bd3c 106px,#f9ca33 109px,#f9cd32 118px,#f9bb3d 135px,#f6bb3c 187px,#cbc129 228px,#a4c83f 256px,#a9c73c 296px,#b8c434 324px,#9bc945 345px,#5acb78 371px,#33c79c 455px,#21c1b1 525px)"></div><div style="background:linear-gradient(90deg,#2b92ef 0px,#2a94ed 88px,#22a1e4 95px,#0db3d2 99px,#05b9c5 100px,#1cbfb4 101px,#34c79a 103px,#77cc60 106px,#a4c83f 108px,#cdc028 114px,#e5bd34 120px,#eebc38 128px,#f8ba3d 187px,#d9be2d 231px,#c9c12a 245px,#bec330 258px,#c4c22d 294px,#d1c029 309px,#dabe2e 324px,#cbc029 332px,#9bc944 359px,#77cc60 371px,#35c799 473px,#26c2ab 525px)"></div><div style="background:linear-gradient(90deg,#2c8ff1 0px,#2b91ef 92px,#249fe6 101px,#11b2d5 107px,#03b9c7 110px,#1fc0b2 112px,#3fc990 116px,#84cb56 121px,#9fc942 123px,#c1c22e 129px,#cfc028 134px,#ebbc36 161px,#f4bb3b 190px,#d6bf2c 247px,#cfc028 261px,#d7bf2c 297px,#e8bd35 324px,#cbc029 340px,#92ca4b 374px,#58cb79 440px,#34c79a 500px,#2cc4a3 525px)"></div><div style="background:linear-gradient(90deg,#2d8cf2 0px,#2c90f0 100px,#21a3e3 116px,#0bb4d1 123px,#04b7cb 124px,#0abbc2 125px,#25c2ab 127px,#40c98e 130px,#5ccc76 132px,#a2c840 147px,#cfc028 168px,#ebbc36 191px,#e9bc35 217px,#d7bf2c 258px,#e3bd32 307px,#e9bc36 324px,#cac129 346px,#a8c73d 375px,#8dca4f 404px,#62cc71 449px,#34c79a 520px,#32c69c 525px)"></div><div style="background:linear-gradient(90deg,#2d8af4 0px,#2d8ef1 115px,#269be8 127px,#18abdc 134px,#03b7cb 148px,#02b8c8 149px,#24c2ac 156px,#3ac894 164px,#84cb56 178px,#a3c840 184px,#cfc028 197px,#e3bd32 211px,#e3bd32 231px,#dabe2e 259px,#e9bc35 325px,#cbc029 351px,#afc639 381px,#96c948 411px,#70cc65 449px,#3ac894 525px)"></div><div style="background:linear-gradient(90deg,#2e87f6 0px,#2d8cf3 129px,#21a2e3 165px,#0ab4d0 185px,#04b9c6 187px,#22c1ae 190px,#3dc991 195px,#8aca51 203px,#a2c840 206px,#c6c12c 217px,#d1bf29 223px,#debe30 238px,#dcbe2f 264px,#eabc36 325px,#cac129 358px,#98c947 421px,#7ccb5c 449px,#46ca89 525px)"></div><div style="background:linear-gradient(90deg,#2e85f7 0px,#2d8af4 161px,#2896eb 188px,#1aaadd 199px,#08b5cf 206px,#02b7ca 207px,#12bdbb 209px,#24c2ad 211px,#36c898 215px,#7ecb5b 223px,#a3c840 228px,#c1c22e 239px,#d0c029 249px,#dfbe30 270px,#eabc36 326px,#cac129 365px,#98c947 429px,#85cb56 451px,#52cb7e 525px)"></div><div style="background:linear-gradient(90deg,#2f84f8 0px,#2d8af4 192px,#2799ea 210px,#16adda 221px,#05b6cc 227px,#03b9c7 228px,#21c1b0 231px,#38c896 236px,#7bcb5d 244px,#a2c840 250px,#cec028 267px,#e2bd32 283px,#ebbc37 326px,#cbc029 373px,#99c946 435px,#5ecc75 525px)"></div><div style="background:linear-gradient(90deg,#2f83f8 0px,#2e89f4 211px,#2798ea 230px,#17acdb 241px,#07b5ce 247px,#02b8ca 248px,#23c2ae 252px,#3dc991 257px,#84cb56 265px,#a2c840 269px,#c5c22c 281px,#d2bf2a 287px,#e0be31 300px,#ecbc37 326px,#d0c029 376px,#92ca4c 457px,#69cd6b 525px)"></div><div style="background:linear-gradient(90deg,#2f83f8 0px,#2e89f5 231px,#2898eb 250px,#19abdc 260px,#02b7ca 267px,#13bdbb 269px,#24c2ac 271px,#38c896 275px,#80cb59 283px,#a0c841 287px,#b2c537 293px,#d0c029 316px,#d9be2d 331px,#dabe2e 370px,#cac129 389px,#9cc944 452px,#71cc65 525px)"></div><div style="background:linear-gradient(90deg,#2f82f9 0px,#2e88f5 250px,#2896ec 268px,#1aa9dd 278px,#05b6cd 285px,#02b9c7 286px,#22c1af 289px,#30c69f 293px,#40c98f 298px,#88ca53 315px,#a4c83f 323px,#bac432 349px,#c2c22e 392px,#aec639 430px,#87ca54 493px,#74cc62 525px)"></div><div style="background:linear-gradient(90deg,#2f82f9 0px,#2e88f5 269px,#2897eb 287px,#0bb4d1 315px,#02b8ca 319px,#23c1ae 327px,#3ec991 339px,#6fcc66 355px,#9dc943 377px,#aac73c 400px,#a1c841 461px,#77cc60 525px)"></div><div style="background:linear-gradient(90deg,#2f81f9 0px,#2e88f5 287px,#2799ea 325px,#13b0d7 351px,#02b9c7 363px,#26c3aa 373px,#3ec991 383px,#64cc6f 396px,#81cb58 413px,#8cca50 435px,#93ca4a 474px,#82cb57 513px,#7acb5e 525px)"></div><div style="background:linear-gradient(90deg,#2f81fa 0px,#2e88f5 324px,#2897eb 364px,#19abdc 385px,#04b7cc 399px,#03b9c7 401px,#24c2ad 409px,#41c98e 424px,#5fcc74 440px,#7ccb5c 466px,#82cb57 498px,#7acb5d 525px)"></div><div style="background:linear-gradient(90deg,#2f81fa 0px,#2e88f5 367px,#2898eb 401px,#16adda 423px,#01b8c9 437px,#22c1af 446px,#41c98e 464px,#60cc73 482px,#75cc61 509px,#76cc61 525px)"></div><div style="background:linear-gradient(90deg,#2f80fa 0px,#2e88f5 402px,#2798ea 437px,#14afd8 461px,#02b9c7 475px,#23c1ae 484px,#41c98e 503px,#5dcc75 522px,#60cc72 525px)"></div><div style="background:linear-gradient(90deg,#2f80fa 0px,#2e88f5 436px,#2898eb 473px,#15aed9 497px,#01b8c8 512px,#23c2ae 522px,#27c3a9 525px)"></div><div style="background:linear-gradient(90deg,#307ffb 0px,#2e88f5 472px,#2897eb 509px,#1ea5e1 525px)"></div><div style="background:linear-gradient(90deg,#307ffb 0px,#2e88f5 509px,#2d8cf3 525px)"></div><div style="background:linear-gradient(90deg,#307efb 0px,#2e85f7 525px)"></div><div style="background:linear-gradient(90deg,#317dfb 0px,#2f83f9 525px)"></div><div style="background:linear-gradient(90deg,#317cfb 0px,#2f81fa 525px)"></div><div style="background:linear-gradient(90deg,#327cfb 0px,#2f80fa 525px)"></div><div style="background:linear-gradient(90deg,#337bfb 0px,#307efb 525px)"></div><div style="background:linear-gradient(90deg,#337afb 0px,#327cfb 525px)"></div><div style="background:linear-gradient(90deg,#3578fb 0px,#347afb 525px)"></div><div style="background:linear-gradient(90deg,#3676fb 0px,#3577fb 525px)"></div><div style="background:linear-gradient(90deg,#3874fc 0px,#3775fb 525px)"></div><div style="background:linear-gradient(90deg,#3973fc 0px,#3973fc 525px)"></div><div style="background:linear-gradient(90deg,#3a71fc 0px,#3a71fc 525px)"></div><div style="background:linear-gradient(90deg,#3c6ffc 0px,#3b70fc 525px)"></div><div style="background:linear-gradient(90deg,#3d6dfc 0px,#3b70fc 525px)"></div><div style="background:linear-gradient(90deg,#3e6bfc 0px,#3c6ffc 525px)"></div><div style="background:linear-gradient(90deg,#4069fc 0px,#3c6efc 525px)"></div><div style="background:linear-gradient(90deg,#4168fc 0px,#3d6efc 525px)"></div><div style="background:linear-gradient(90deg,#4366fc 0px,#3d6dfc 525px)"></div><div style="background:linear-gradient(90deg,#4464fc 0px,#3e6cfc 525px)"></div><div style="background:linear-gradient(90deg,#4562fc 0px,#3e6cfc 525px)"></div><div style="background:linear-gradient(90deg,#4561fb 0px,#3f6bfc 525px)"></div><div style="background:linear-gradient(90deg,#455ffb 0px,#3f6afc 525px)"></div><div style="background:linear-gradient(90deg,#465efa 0px,#406afc 525px)"></div><div style="background:linear-gradient(90deg,#465df9 0px,#4069fc 525px)"></div><div style="background:linear-gradient(90deg,#465bf8 0px,#4168fc 525px)"></div><div style="background:linear-gradient(90deg,#465af7 0px,#4167fc 525px)"></div><div style="background:linear-gradient(90deg,#4658f7 0px,#4267fc 525px)"></div><div style="background:linear-gradient(90deg,#4657f6 0px,#4266fc 525px)"></div><div style="background:linear-gradient(90deg,#4755f5 0px,#4365fc 525px)"></div><div style="background:linear-gradient(90deg,#4753f4 0px,#4365fc 525px)"></div><div style="background:linear-gradient(90deg,#4750f2 0px,#4464fc 525px)"></div><div style="background:linear-gradient(90deg,#484df0 0px,#4463fc 525px)"></div><div style="background:linear-gradient(90deg,#484bee 0px,#4563fc 525px)"></div><div style="background:linear-gradient(90deg,#4748eb 0px,#4562fc 525px)"></div><div style="background:linear-gradient(90deg,#4745e7 0px,#4561fc 502px,#4562fc 525px)"></div><div style="background:linear-gradient(90deg,#4743e4 0px,#4657f6 349px,#4561fc 525px)"></div><div style="background:linear-gradient(90deg,#4641e1 0px,#4755f5 333px,#4561fb 525px)"></div><div style="background:linear-gradient(90deg,#463ede 0px,#4754f4 334px,#4560fb 525px)"></div><div style="background:linear-gradient(90deg,#463cdc 0px,#4753f4 342px,#4560fb 525px)"></div><div style="background:linear-gradient(90deg,#453ad9 0px,#4753f4 351px,#455ffb 525px)"></div><div style="background:linear-gradient(90deg,#4537d6 0px,#4753f3 361px,#465ffa 525px)"></div><div style="background:linear-gradient(90deg,#4536d3 0px,#4752f3 365px,#465efa 525px)"></div><div style="background:linear-gradient(90deg,#4435d2 0px,#4752f3 369px,#465efa 525px)"></div><div style="background:linear-gradient(90deg,#4435d1 0px,#4752f3 372px,#465dfa 525px)"></div><div style="background:linear-gradient(90deg,#4435d0 0px,#4751f3 376px,#465df9 525px)"></div><div style="background:linear-gradient(90deg,#4434cf 0px,#4751f3 380px,#465df9 525px)"></div><div style="background:linear-gradient(90deg,#4434ce 0px,#4751f3 388px,#465cf8 525px)"></div><div style="background:linear-gradient(90deg,#4434cd 0px,#4751f2 411px,#4659f7 525px)"></div><div style="background:linear-gradient(90deg,#43c 0px,#4751f2 437px,#4657f6 525px)"></div><div style="background:linear-gradient(90deg,#43c 0px,#4751f2 465px,#4754f4 525px)"></div><div style="background:linear-gradient(90deg,#43c 0px,#4751f2 499px,#4752f3 525px)"></div><div style="background:linear-gradient(90deg,#43c 0px,#4750f2 525px)"></div><div style="background:linear-gradient(90deg,#43c 0px,#484df0 525px)"></div><div style="background:linear-gradient(90deg,#43c 0px,#484bee 525px)"></div><div style="background:linear-gradient(90deg,#43c 0px,#4748eb 525px)"></div><div style="background:linear-gradient(90deg,#43c 0px,#4746e7 525px)"></div><div style="background:linear-gradient(90deg,#43c 0px,#4743e4 525px)"></div><div style="background:linear-gradient(90deg,#43c 0px,#4640e1 525px)"></div><div style="background:linear-gradient(90deg,#43c 0px,#463ddd 525px)"></div><div style="background:linear-gradient(90deg,#43c 0px,#453ada 525px)"></div><div style="background:linear-gradient(90deg,#43c 0px,#4538d6 525px)"></div><div style="background:linear-gradient(90deg,#43c 0px,#4536d3 525px)"></div><div style="background:linear-gradient(90deg,#43c 0px,#4536d2 525px)"></div><div style="background:linear-gradient(90deg,#43c 0px,#4435d2 525px)"></div><div style="background:linear-gradient(90deg,#43c 0px,#4435d2 525px)"></div><div style="background:linear-gradient(90deg,#43c 0px,#4435d1 525px)"></div><div style="background:linear-gradient(90deg,#43c 0px,#4435d1 525px)"></div><div style="background:linear-gradient(90deg,#43c 0px,#4435d0 525px)"></div><div style="background:linear-gradient(90deg,#43c 0px,#4435d0 525px)"></div><div style="background:linear-gradient(90deg,#43c 0px,#4434cf 525px)"></div><div style="background:linear-gradient(90deg,#43c 0px,#4434cf 525px)"></div><div style="background:linear-gradient(90deg,#43c 0px,#4434ce 525px)"></div><div style="background:linear-gradient(90deg,#43c 0px,#4434ce 525px)"></div><div style="background:linear-gradient(90deg,#43c 0px,#4434cd 525px)"></div><div style="background:linear-gradient(90deg,#43c 0px,#4434cd 525px)"></div><div style="background:linear-gradient(90deg,#43c 0px,#4433cd 525px)"></div><div style="background:linear-gradient(90deg,#43c 0px,#43c 525px)"></div><div style="background:linear-gradient(90deg,#43c 0px,#43c 525px)"></div><div style="background:linear-gradient(90deg,#43c 0px,#43c 525px)"></div><div style="background:linear-gradient(90deg,#43c 0px,#43c 525px)"></div></div></div>
<svg width="1304" height="2051" viewBox="0 0 1304 2051" fill="#262626">
<line x1="211.8" y1="282" x2="211.8" y2="674" stroke="#ecdf48" stroke-opacity="0.55" stroke-width="1.5"/>
<line x1="372" y1="282" x2="372" y2="674" stroke="#ecdf48" stroke-opacity="0.55" stroke-width="1.5"/>
<rect x="87" y="280" width="509.2" height="6.2" fill="none" stroke="#ff0000" stroke-width="3.6"/>
<text x="80.2" y="297" font-size="27" text-anchor="end">400</text>
<text x="80.2" y="393.5" font-size="27" text-anchor="end">300</text>
<text x="80.2" y="490" font-size="27" text-anchor="end">200</text>
<text x="80.2" y="586.5" font-size="27" text-anchor="end">100</text>
<text x="80.2" y="683" font-size="27" text-anchor="end">0</text>
<text x="28" y="476.7" font-size="21.7" text-anchor="middle" transform="rotate(-90 28 476.7)">LOS Distance (Rs)</text>
<text x="299.1" y="271.8" font-size="24.5" font-weight="bold" fill="#000" textLength="86.7" lengthAdjust="spacingAndGlyphs">Density</text>
<text x="17.2" y="272.1" font-size="24.5" fill="#1a1a1a" textLength="22.7" lengthAdjust="spacingAndGlyphs">1L</text>
<line x1="211.8" y1="716" x2="211.8" y2="1100.5" stroke="#ecdf48" stroke-opacity="0.55" stroke-width="1.5"/>
<line x1="372" y1="716" x2="372" y2="1100.5" stroke="#ecdf48" stroke-opacity="0.55" stroke-width="1.5"/>
<rect x="87" y="714.5" width="509.2" height="5.8" fill="none" stroke="#ff0000" stroke-width="3.6"/>
<text x="80.2" y="733.5" font-size="27" text-anchor="end">400</text>
<text x="80.2" y="827.5" font-size="27" text-anchor="end">300</text>
<text x="80.2" y="921.5" font-size="27" text-anchor="end">200</text>
<text x="80.2" y="1015.5" font-size="27" text-anchor="end">100</text>
<text x="80.2" y="1109.5" font-size="27" text-anchor="end">0</text>
<text x="28" y="908.2" font-size="21.7" text-anchor="middle" transform="rotate(-90 28 908.2)">LOS Distance (Rs)</text>
<text x="226.8" y="709" font-size="24.5" fill="#000" textLength="232" lengthAdjust="spacingAndGlyphs"><tspan>Δ </tspan><tspan font-weight="bold">Rotation Measure</tspan></text>
<text x="19.3" y="711" font-size="24.5" fill="#1a1a1a" textLength="22.5" lengthAdjust="spacingAndGlyphs">2L</text>
<line x1="211.8" y1="1154" x2="211.8" y2="1545" stroke="#ecdf48" stroke-opacity="0.55" stroke-width="1.5"/>
<line x1="372" y1="1154" x2="372" y2="1545" stroke="#ecdf48" stroke-opacity="0.55" stroke-width="1.5"/>
<rect x="87" y="1152" width="509.2" height="5.2" fill="none" stroke="#ff0000" stroke-width="3.6"/>
<text x="80.2" y="1166.8" font-size="27" text-anchor="end">400</text>
<text x="80.2" y="1263.6" font-size="27" text-anchor="end">300</text>
<text x="80.2" y="1360.4" font-size="27" text-anchor="end">200</text>
<text x="80.2" y="1457.2" font-size="27" text-anchor="end">100</text>
<text x="80.2" y="1554" font-size="27" text-anchor="end">0</text>
<text x="28" y="1347.1" font-size="21.7" text-anchor="middle" transform="rotate(-90 28 1347.1)">LOS Distance (Rs)</text>
<text x="287" y="1143.3" font-size="24.5" font-weight="bold" fill="#000" textLength="110.1" lengthAdjust="spacingAndGlyphs">Parallel B</text>
<text x="19.3" y="1145" font-size="24.5" fill="#1a1a1a" textLength="22.5" lengthAdjust="spacingAndGlyphs">3L</text>
<line x1="211.8" y1="1589" x2="211.8" y2="1980" stroke="#ecdf48" stroke-opacity="0.55" stroke-width="1.5"/>
<line x1="372" y1="1589" x2="372" y2="1980" stroke="#ecdf48" stroke-opacity="0.55" stroke-width="1.5"/>
<rect x="87" y="1586.2" width="509.2" height="6" fill="none" stroke="#ff0000" stroke-width="3.6"/>
<text x="80.2" y="1601" font-size="27" text-anchor="end">400</text>
<text x="80.2" y="1698" font-size="27" text-anchor="end">300</text>
<text x="80.2" y="1795" font-size="27" text-anchor="end">200</text>
<text x="80.2" y="1892" font-size="27" text-anchor="end">100</text>
<text x="80.2" y="1989" font-size="27" text-anchor="end">0</text>
<text x="28" y="1781.7" font-size="21.7" text-anchor="middle" transform="rotate(-90 28 1781.7)">LOS Distance (Rs)</text>
<text x="210.7" y="1577.6" font-size="24.5" font-weight="bold" fill="#000" textLength="263.3" lengthAdjust="spacingAndGlyphs">Perpendicular Velocity</text>
<text x="18.4" y="1585.3" font-size="24.5" fill="#1a1a1a" textLength="24.5" lengthAdjust="spacingAndGlyphs">4L</text>
<rect x="20" y="680" width="64" height="12" fill="#fff"/>
<rect x="20" y="1548.4" width="64" height="12" fill="#fff"/>
<text x="109.4" y="2012.5" font-size="27" text-anchor="middle">20</text>
<text x="197.8" y="2012.5" font-size="27" text-anchor="middle">30</text>
<text x="286.3" y="2012.5" font-size="27" text-anchor="middle">40</text>
<text x="374.7" y="2012.5" font-size="27" text-anchor="middle">50</text>
<text x="463.1" y="2012.5" font-size="27" text-anchor="middle">60</text>
<text x="551.6" y="2012.5" font-size="27" text-anchor="middle">70</text>
<text x="330.2" y="2039.5" font-size="24" text-anchor="middle" fill="#1a1a1a" textLength="129.5" lengthAdjust="spacingAndGlyphs">Time (hours)</text>
<text x="199.6" y="311.5" font-size="23" fill="#e3000f" textLength="23.1" lengthAdjust="spacingAndGlyphs">LE</text>
<text x="359.9" y="311.5" font-size="23" fill="#e3000f" textLength="23.1" lengthAdjust="spacingAndGlyphs">TE</text>
<text x="100" y="615" font-size="26" fill="#ff0000" textLength="30.3" lengthAdjust="spacingAndGlyphs">SIR</text>
<line x1="143.2" y1="594" x2="137.1" y2="622" stroke="#ff1a1a" stroke-width="1.3"/>
<polygon points="144.1,588.3 147.3,597.2 140.6,595.8" fill="#ff0000"/>
<polygon points="136.2,627.9 133.0,619.0 139.7,620.4" fill="#ff0000"/>
<line x1="602.2" y1="280.4" x2="670" y2="264.7" stroke="#ff0000" stroke-width="2.4"/><polygon points="681.8,262 668.4,272.9 670,264.7 665,258.1" fill="#ff0000"/>
<line x1="575" y1="710" x2="654.4" y2="694.3" stroke="#ff0000" stroke-width="2.4"/><polygon points="666.3,692 652.6,702.5 654.4,694.3 649.6,687.5" fill="#ff0000"/>
<line x1="603" y1="1155" x2="667" y2="1127.6" stroke="#ff0000" stroke-width="2.4"/><polygon points="678.1,1122.8 666.8,1135.9 667,1127.6 660.9,1121.9" fill="#ff0000"/>
<line x1="571.9" y1="1582.8" x2="651" y2="1561.4" stroke="#ff0000" stroke-width="2.4"/><polygon points="662.7,1558.2 649.7,1569.6 651,1561.4 645.8,1554.9" fill="#ff0000"/>
<line x1="868.5" y1="41.6" x2="868.5" y2="432.5" stroke="#fdc050" stroke-width="2.2"/>
<line x1="1028.3" y1="41.6" x2="1028.3" y2="432.5" stroke="#fdc050" stroke-width="2.2"/>
<text x="737.2" y="406.8" font-size="27" text-anchor="end">1</text>
<text x="737.2" y="319" font-size="27" text-anchor="end">2</text>
<text x="737.2" y="231.2" font-size="27" text-anchor="end">3</text>
<text x="737.2" y="143.4" font-size="27" text-anchor="end">4</text>
<text x="737.2" y="55.6" font-size="27" text-anchor="end">5</text>
<rect x="744.3" y="41.6" width="509.1" height="390.9" fill="none" stroke="#a6a6a6" stroke-width="1.5"/>
<path d="M766.3,41.6v6M766.3,432.5v-6M854.9,41.6v6M854.9,432.5v-6M943.5,41.6v6M943.5,432.5v-6M1032.1,41.6v6M1032.1,432.5v-6M1120.7,41.6v6M1120.7,432.5v-6M1209.3,41.6v6M1209.3,432.5v-6M744.3,397.2h6M1253.4,397.2h-6M744.3,309.4h6M1253.4,309.4h-6M744.3,221.6h6M1253.4,221.6h-6M744.3,133.8h6M1253.4,133.8h-6M744.3,46h6M1253.4,46h-6" stroke="#a6a6a6" stroke-width="1.3" fill="none"/>
<text x="1270.3" y="36.6" font-size="24.5" fill="#1a1a1a" textLength="23.8" lengthAdjust="spacingAndGlyphs">1R</text>
<line x1="868.5" y1="476.2" x2="868.5" y2="859.8" stroke="#fdc050" stroke-width="2.2"/>
<line x1="1028.3" y1="476.2" x2="1028.3" y2="859.8" stroke="#fdc050" stroke-width="2.2"/>
<text x="737.2" y="799.7" font-size="27" text-anchor="end">0.2</text>
<text x="737.2" y="713.4" font-size="27" text-anchor="end">0.4</text>
<text x="737.2" y="627.7" font-size="27" text-anchor="end">0.6</text>
<text x="737.2" y="541.2" font-size="27" text-anchor="end">0.8</text>
<rect x="744.3" y="476.2" width="509.1" height="383.6" fill="none" stroke="#a6a6a6" stroke-width="1.5"/>
<path d="M766.3,476.2v6M766.3,859.8v-6M854.9,476.2v6M854.9,859.8v-6M943.5,476.2v6M943.5,859.8v-6M1032.1,476.2v6M1032.1,859.8v-6M1120.7,476.2v6M1120.7,859.8v-6M1209.3,476.2v6M1209.3,859.8v-6M744.3,790.1h6M1253.4,790.1h-6M744.3,703.8h6M1253.4,703.8h-6M744.3,618.1h6M1253.4,618.1h-6M744.3,531.6h6M1253.4,531.6h-6" stroke="#a6a6a6" stroke-width="1.3" fill="none"/>
<text x="1270.3" y="462.6" font-size="24.5" fill="#1a1a1a" textLength="23.8" lengthAdjust="spacingAndGlyphs">2R</text>
<line x1="868.5" y1="910.6" x2="868.5" y2="1301.3" stroke="#fdc050" stroke-width="2.2"/>
<line x1="1028.3" y1="910.6" x2="1028.3" y2="1301.3" stroke="#fdc050" stroke-width="2.2"/>
<text x="737.2" y="1264" font-size="27" text-anchor="end">2</text>
<text x="737.2" y="1179.5" font-size="27" text-anchor="end">4</text>
<text x="737.2" y="1095.3" font-size="27" text-anchor="end">6</text>
<text x="737.2" y="1011" font-size="27" text-anchor="end">8</text>
<text x="737.2" y="926.6" font-size="27" text-anchor="end">10</text>
<rect x="744.3" y="910.6" width="509.1" height="390.7" fill="none" stroke="#a6a6a6" stroke-width="1.5"/>
<path d="M766.3,910.6v6M766.3,1301.3v-6M854.9,910.6v6M854.9,1301.3v-6M943.5,910.6v6M943.5,1301.3v-6M1032.1,910.6v6M1032.1,1301.3v-6M1120.7,910.6v6M1120.7,1301.3v-6M1209.3,910.6v6M1209.3,1301.3v-6M744.3,1254.4h6M1253.4,1254.4h-6M744.3,1169.9h6M1253.4,1169.9h-6M744.3,1085.7h6M1253.4,1085.7h-6M744.3,1001.4h6M1253.4,1001.4h-6M744.3,917h6M1253.4,917h-6" stroke="#a6a6a6" stroke-width="1.3" fill="none"/>
<text x="1270.3" y="896.3" font-size="24.5" fill="#1a1a1a" textLength="23.8" lengthAdjust="spacingAndGlyphs">3R</text>
<line x1="868.5" y1="1340.1" x2="868.5" y2="1734.5" stroke="#fdc050" stroke-width="2.2"/>
<line x1="1028.3" y1="1340.1" x2="1028.3" y2="1734.5" stroke="#fdc050" stroke-width="2.2"/>
<text x="737.2" y="1733.4" font-size="27" text-anchor="end">100</text>
<text x="737.2" y="1667.2" font-size="27" text-anchor="end">120</text>
<text x="737.2" y="1600.8" font-size="27" text-anchor="end">140</text>
<text x="737.2" y="1534.2" font-size="27" text-anchor="end">160</text>
<text x="737.2" y="1468.6" font-size="27" text-anchor="end">180</text>
<text x="737.2" y="1402.4" font-size="27" text-anchor="end">200</text>
<rect x="745.3" y="1340.1" width="505" height="394.4" fill="none" stroke="#a6a6a6" stroke-width="1.5"/>
<path d="M766.8,1340.1v6M766.8,1734.5v-6M854.6,1340.1v6M854.6,1734.5v-6M942.4,1340.1v6M942.4,1734.5v-6M1030.2,1340.1v6M1030.2,1734.5v-6M1118,1340.1v6M1118,1734.5v-6M1205.8,1340.1v6M1205.8,1734.5v-6M745.3,1723.8h6M1250.3,1723.8h-6M745.3,1657.6h6M1250.3,1657.6h-6M745.3,1591.2h6M1250.3,1591.2h-6M745.3,1524.6h6M1250.3,1524.6h-6M745.3,1459h6M1250.3,1459h-6M745.3,1392.8h6M1250.3,1392.8h-6" stroke="#a6a6a6" stroke-width="1.3" fill="none"/>
<text x="1270.3" y="1336.3" font-size="24.5" fill="#1a1a1a" textLength="23.8" lengthAdjust="spacingAndGlyphs">4R</text>
<path d="M749,23.5L761.6,35.8M761.6,23.5L749,35.8" stroke="#262626" stroke-width="1.5"/>
<text x="767.8" y="36.3" font-size="27">10</text>
<text x="798" y="22.7" font-size="20.5">19</text>
<path d="M749,891.5L761.9,904.2M761.9,891.5L749,904.2" stroke="#262626" stroke-width="1.5"/>
<text x="768.6" y="904.8" font-size="27">10</text>
<text x="797.5" y="890.7" font-size="20.5">-4</text>
<text x="856.7" y="296.4" font-size="23" fill="#ee1c25" textLength="22.9" lengthAdjust="spacingAndGlyphs">LE</text>
<text x="1015.9" y="296.4" font-size="23" fill="#ee1c25" textLength="23.8" lengthAdjust="spacingAndGlyphs">TE</text>
<text x="766.5" y="1768.5" font-size="27" text-anchor="middle">20</text>
<text x="854.3" y="1768.5" font-size="27" text-anchor="middle">30</text>
<text x="942.1" y="1768.5" font-size="27" text-anchor="middle">40</text>
<text x="1029.9" y="1768.5" font-size="27" text-anchor="middle">50</text>
<text x="1117.7" y="1768.5" font-size="27" text-anchor="middle">60</text>
<text x="1205.5" y="1768.5" font-size="27" text-anchor="middle">70</text>
<text x="989.8" y="1798.6" font-size="24" text-anchor="middle" fill="#1a1a1a" textLength="128.8" lengthAdjust="spacingAndGlyphs">Time (hours)</text>
<text x="715.3" y="238" font-size="22" text-anchor="middle" transform="rotate(-90 715.3 238)" fill="#262626">TEC (#/m<tspan font-size="16" dy="-9.5">2</tspan><tspan dy="9.5">)</tspan></text>
<text x="692.2" y="668" font-size="22" text-anchor="middle" transform="rotate(-90 692.2 668)" fill="#262626">RM (rad/m<tspan font-size="16" dy="-9.5">2</tspan><tspan dy="9.5">)</tspan></text>
<text x="702.6" y="1115.3" font-size="25" text-anchor="middle" transform="rotate(-90 702.6 1115.3)">&lt;Bparallel&gt; (G)</text>
<text x="686.8" y="1549.2" font-size="25" text-anchor="middle" transform="rotate(-90 686.8 1549.2)">&lt;Vperp&gt; (km/sec)</text>
<rect x="1060.5" y="916.3" width="186.8" height="58.3" fill="#fff" stroke="#a0a0a0" stroke-width="1.1"/>
<line x1="1063.7" y1="932.1" x2="1084.6" y2="932.1" stroke="#3d95d6" stroke-width="1.6"/>
<line x1="1062.9" y1="960.6" x2="1085.4" y2="960.6" stroke="#3cf03c" stroke-width="1.8" stroke-dasharray="2.2,3.2"/>
<text x="1087.8" y="934" font-size="18" fill="#262626">&lt;B<tspan font-size="14" dy="9.4">ave</tspan><tspan dy="-9.4">&gt;</tspan></text>
<text x="1087.8" y="969.4" font-size="18" fill="#262626" textLength="155.4" lengthAdjust="spacingAndGlyphs">RM/TEC*c<tspan font-size="13" dy="-7">2</tspan><tspan dy="7">/2.3648</tspan></text>
<rect x="658.4" y="1843" width="1.3" height="3" fill="#f6a8b6"/>
<path d="M745,278.1 C746.7,278.1 757.2,277.7 759.9,278.1 C762.6,278.5 765.6,280.9 767.9,281.5 C770.2,282.1 776.2,283 779.9,283.5 C783.6,284 795.1,285.3 799.8,285.4 C804.5,285.5 817.1,284.9 819.8,284.4 C822.5,283.9 822.1,284.4 822.8,281.5 C823.5,278.6 824.7,266.7 825.7,259.5 C826.7,252.3 830.3,231.2 831.7,219.6 C833.1,208 836.7,169.1 837.7,159.8 C838.8,150.5 840,143.3 840.7,139.9 C841.4,136.5 842.9,131.8 843.7,130.9 C844.5,130 846.9,130.6 847.7,131.9 C848.5,133.2 849.9,138.6 850.7,141.9 C851.5,145.2 853.7,155.8 854.7,159.8 C855.7,163.8 858.1,170.9 859.6,175.8 C861.1,180.7 865.7,196.1 867.6,201.7 C869.5,207.3 873.7,218.7 875.6,223.6 C877.5,228.5 881.5,239.4 883.6,243.6 C885.7,247.8 890.7,255 893.5,259.5 C896.3,264 904.2,278.4 907.5,282.5 C910.8,286.6 917.8,292.7 921.5,294.4 C925.2,296.1 936.1,297.4 939.4,297.4 C942.7,297.4 946.4,296.4 949.4,294.4 C952.4,292.4 962,282.8 965.3,280.5 C968.6,278.2 974.4,275.3 977.3,274.5 C980.2,273.7 987.4,274 990,273.6 C992.6,273.2 997,272.2 999.2,271.5 C1001.4,270.8 1006.3,267.9 1008.6,267.3 C1010.9,266.7 1016.8,266.1 1019,266.2 C1021.2,266.3 1025.6,268.1 1027.3,268.3 C1029,268.5 1031.6,267.5 1033.5,268.3 C1035.4,269.1 1041.6,273.4 1043.8,275.5 C1046,277.6 1049.9,283.1 1052.1,285.9 C1054.3,288.7 1060.1,297 1062.5,299.4 C1064.9,301.8 1070.4,305.4 1072.8,306.6 C1075.2,307.8 1080.3,308.9 1083.2,309.7 C1086.1,310.5 1094.1,312.7 1097.7,313.2 C1101.3,313.7 1107.4,313.7 1114.2,313.9 C1121,314.1 1145.9,314.4 1155.6,314.9 C1165.3,315.4 1188.5,317.4 1197,318 C1205.5,318.6 1221.6,319.7 1228.1,320.1 C1234.6,320.5 1250.1,321 1253,321.1" fill="none" stroke="#3d95d6" stroke-width="1.8" stroke-linejoin="round"/>
<path d="M745,801.8 C746.7,801.8 757.5,801.5 759.9,801.8 C762.3,802.1 763.6,803.7 765.9,804.2 C768.2,804.7 775.9,805.5 779.9,805.8 C783.9,806.1 795.1,806.7 799.8,806.6 C804.5,806.5 817.2,805.8 819.8,805.2 C822.4,804.6 821.6,805.4 822.2,801.2 C822.8,797 824.1,781.2 824.7,769.3 C825.3,757.4 826.9,715.8 827.7,699.5 C828.5,683.2 830.9,643.7 831.7,629.7 C832.5,615.7 834.2,587.1 834.7,579.9 C835.2,572.7 835.9,570.7 836.3,567.9 C836.6,565.1 837.4,555.8 837.7,556 C838,556.2 838.6,563.6 839.1,569.9 C839.6,576.2 841,599.8 841.7,609.8 C842.4,619.8 844,648.4 844.7,655.7 C845.4,663 846.8,670.9 847.7,672.6 C848.6,674.3 851.8,670.5 852.7,670.6 C853.6,670.7 854.7,670.5 855.7,673.6 C856.7,676.7 860.1,690.5 861.6,697.5 C863.1,704.5 866.7,725.7 868.6,733.4 C870.5,741.1 875.4,756.8 877.6,763.3 C879.8,769.8 885,783.7 887.6,789.3 C890.2,794.9 896.5,807.5 899.5,811.2 C902.5,814.9 910,819.5 913.5,821.2 C917,822.9 926.4,825.5 929.4,826.1 C932.4,826.7 937.1,826.7 939.4,826.1 C941.7,825.5 947.1,823.4 949.4,821.2 C951.7,819 957,810.8 959.3,807.2 C961.6,803.6 967.2,793.6 969.3,790.3 C971.4,787 975,781.3 977.3,779.3 C979.6,777.3 986.8,774.3 989.3,773.3 C991.8,772.3 996,771.6 998.3,770.4 C1000.6,769.2 1006.5,764.1 1008.6,763.1 C1010.7,762.1 1013.7,761.6 1015.9,762.1 C1018.1,762.6 1025.2,766.3 1027.3,767.3 C1029.4,768.3 1031.6,768.7 1033.5,770.4 C1035.4,772.1 1041.6,779.3 1043.8,781.8 C1046,784.3 1049.9,789.6 1052.1,792.1 C1054.3,794.6 1059.6,801.1 1062.5,803.5 C1065.4,805.9 1073.4,811.4 1077,812.8 C1080.6,814.2 1089.2,815.8 1093.5,815.9 C1097.8,816 1109.4,814.4 1114.2,813.9 C1119,813.4 1128.9,812.3 1134.9,811.8 C1140.9,811.3 1160,809.9 1166,809.7 C1172,809.5 1180.7,810 1186.7,810.1 C1192.7,810.2 1210,810.6 1217.7,810.7 C1225.4,810.8 1248.9,810.7 1253,810.7" fill="none" stroke="#3d95d6" stroke-width="1.8" stroke-linejoin="round"/>
<path d="M745,1221.9 C746.5,1221.8 755.6,1221 758,1221.3 C760.4,1221.6 761,1223.8 765.9,1224.3 C770.8,1224.8 793.5,1225.4 799.8,1225.3 C806.1,1225.2 817,1225.2 819.8,1223.3 C822.6,1221.4 823,1216.7 823.7,1209.3 C824.4,1201.9 825.2,1172.3 825.7,1159.5 C826.2,1146.7 827.1,1113.6 827.7,1099.6 C828.3,1085.6 830,1051 830.7,1039.8 C831.4,1028.6 833.2,1008.9 833.7,1003.9 C834.2,998.9 834.8,996.3 835.3,997 C835.8,997.7 837.2,1003.7 837.7,1009.9 C838.2,1016.1 839.1,1038.2 839.7,1049.8 C840.3,1061.4 841.9,1098 842.7,1109.6 C843.5,1121.2 845.7,1146.2 846.7,1149.5 C847.8,1152.8 850.7,1139.8 851.7,1137.5 C852.8,1135.2 854.8,1129.6 855.7,1129.6 C856.6,1129.6 858.2,1133.2 859.6,1137.5 C861,1141.8 865.7,1160.3 867.6,1166.4 C869.5,1172.5 873.5,1183.2 875.6,1189.4 C877.7,1195.6 882.8,1213 885.6,1219.3 C888.4,1225.6 896.5,1239.6 899.5,1243.2 C902.5,1246.8 908,1249 911.5,1250.2 C915,1251.4 926.1,1253 929.4,1253.2 C932.7,1253.4 937.1,1253.4 939.4,1252.2 C941.7,1251 947.1,1246.6 949.4,1243.2 C951.7,1239.8 957,1228.2 959.3,1223.3 C961.6,1218.4 967,1205.7 969.3,1201.3 C971.6,1196.9 976.9,1188 979.3,1185.4 C981.7,1182.8 987.3,1180.6 990,1179 C992.7,1177.4 999.6,1173 1002.4,1171.7 C1005.2,1170.4 1010.9,1167.2 1013.8,1167.6 C1016.7,1168 1024.3,1172.6 1027.3,1174.8 C1030.3,1177 1036.8,1183 1039.7,1186.2 C1042.6,1189.4 1049.2,1198.5 1052.1,1201.8 C1055,1205.1 1061.6,1211.8 1064.5,1214.2 C1067.4,1216.6 1074.1,1221.3 1077,1222.5 C1079.9,1223.7 1086,1224.9 1089.4,1224.9 C1092.8,1224.9 1101.8,1223.3 1105.9,1222.5 C1110,1221.7 1120,1218.9 1124.6,1217.9 C1129.2,1216.9 1140.5,1214.5 1145.3,1213.8 C1150.1,1213.1 1160,1211.8 1166,1211.5 C1172,1211.2 1189.8,1211.3 1197,1211.1 C1204.2,1210.9 1221.6,1210.2 1228.1,1210 C1234.6,1209.8 1250.1,1209.1 1253,1209" fill="none" stroke="#38ee38" stroke-width="2.0" stroke-linejoin="round" stroke-dasharray="2.4,3.2"/>
<path d="M745,1235.2 C747,1235.2 759.2,1235 761.9,1235.2 C764.6,1235.4 763.5,1236.4 767.9,1236.6 C772.3,1236.8 793.6,1237.3 799.8,1237.2 C806,1237.1 818,1236.4 820.8,1235.8 C823.6,1235.2 822.9,1235.1 823.7,1232.2 C824.5,1229.3 826.8,1215.4 827.7,1211.3 C828.6,1207.2 830.8,1199.4 831.7,1197.3 C832.6,1195.2 834.5,1193.4 835.3,1193.4 C836.1,1193.4 837.7,1195.6 838.7,1197.3 C839.7,1199 842.2,1206 843.7,1208.3 C845.2,1210.6 849.8,1214.4 851.7,1217.3 C853.6,1220.2 857.6,1229.2 859.6,1233.2 C861.6,1237.2 866.3,1247.7 868.6,1251.2 C870.9,1254.7 876,1259.6 879.6,1263.1 C883.2,1266.6 895.3,1277.7 899.5,1281.1 C903.7,1284.5 912.7,1290.9 915.5,1292.1 C918.3,1293.3 920.7,1292.5 923.5,1291.1 C926.3,1289.7 935.7,1283.4 939.4,1280.1 C943.1,1276.8 951.2,1268.2 955.4,1263.1 C959.6,1258 971.3,1240.6 975.3,1236.2 C979.3,1231.8 986.4,1227.3 989.3,1225.3 C992.2,1223.3 997.9,1220.3 1000.4,1219.4 C1002.9,1218.5 1008.3,1217.6 1010.7,1217.3 C1013.1,1217 1018.7,1216.7 1021.1,1216.7 C1023.5,1216.7 1027.8,1216.8 1031.4,1217.3 C1035,1217.8 1047.3,1220.2 1052.1,1221.4 C1056.9,1222.6 1069.2,1226.6 1072.8,1227.6 C1076.4,1228.6 1080.1,1229.9 1083.2,1230.3 C1086.3,1230.7 1096.1,1231.4 1099.7,1231.4 C1103.3,1231.4 1110.1,1231 1114.2,1230.7 C1118.3,1230.4 1130.1,1229.4 1134.9,1229.1 C1139.7,1228.8 1150.8,1228.3 1155.6,1228.1 C1160.4,1227.9 1171.5,1227.7 1176.3,1227.6 C1181.1,1227.5 1192.2,1227.7 1197,1227.6 C1201.8,1227.5 1211.2,1227.3 1217.7,1227 C1224.2,1226.7 1248.9,1225.4 1253,1225.2" fill="none" stroke="#3d95d6" stroke-width="1.8" stroke-linejoin="round"/>
<path d="M746,1656.3 C751.1,1656.3 782.5,1656.5 789.9,1656.3 C797.3,1656.1 806.2,1655.2 809.8,1654.9 C813.4,1654.6 819.3,1654 820.8,1653.3 C822.3,1652.6 822.3,1652.1 822.8,1649.3 C823.3,1646.5 824.2,1635.2 824.7,1629.4 C825.2,1623.6 826.1,1605.8 826.7,1599.5 C827.3,1593.2 828.9,1580.6 829.7,1575.5 C830.5,1570.4 832.8,1560 833.7,1555.6 C834.6,1551.2 836.5,1541.8 837.7,1537.6 C838.9,1533.4 842.1,1523.1 843.7,1519.7 C845.3,1516.3 849.8,1510.5 851.7,1508.7 C853.6,1507 857.5,1505.3 859.6,1504.7 C861.7,1504.1 867.3,1503.5 869.6,1503.4 C871.9,1503.3 877.7,1503.9 879.6,1503.7 C881.5,1503.5 883.7,1503.2 885.6,1501.8 C887.5,1500.4 893.2,1493.9 895.5,1491.8 C897.8,1489.7 903.6,1484.8 905.5,1483.8 C907.4,1482.8 909.9,1482.6 911.5,1482.8 C913.1,1483 917.4,1484.4 919.5,1485.8 C921.6,1487.2 927.1,1492.9 929.4,1494.8 C931.7,1496.7 935.9,1499.8 939.4,1501.8 C942.9,1503.8 955.1,1509.6 959.3,1511.7 C963.5,1513.8 971.8,1518.4 975.3,1519.7 C978.8,1521 985.2,1522 989.3,1522.7 C993.4,1523.4 1006.3,1524.9 1010.7,1525.6 C1015.1,1526.3 1023.9,1527.7 1027.3,1528.3 C1030.7,1528.9 1037.3,1530.8 1039.7,1530.8 C1042.1,1530.8 1045.3,1529.4 1048,1528.3 C1050.7,1527.2 1059.4,1522.6 1062.5,1521.5 C1065.6,1520.4 1071.8,1519.2 1074.9,1519 C1078,1518.8 1084.8,1519.4 1089.4,1520 C1094,1520.6 1108.9,1523.3 1114.2,1524.2 C1119.5,1525.1 1130.1,1526.6 1134.9,1527.3 C1139.7,1528 1150.8,1529.9 1155.6,1530.4 C1160.4,1530.9 1171.5,1531.6 1176.3,1531.8 C1181.1,1532 1192.2,1531.8 1197,1532 C1201.8,1532.2 1211.6,1532.7 1217.7,1533.1 C1223.8,1533.5 1245.8,1534.9 1249.5,1535.1" fill="none" stroke="#3d95d6" stroke-width="1.8" stroke-linejoin="round"/>
</svg>
</body></html>
